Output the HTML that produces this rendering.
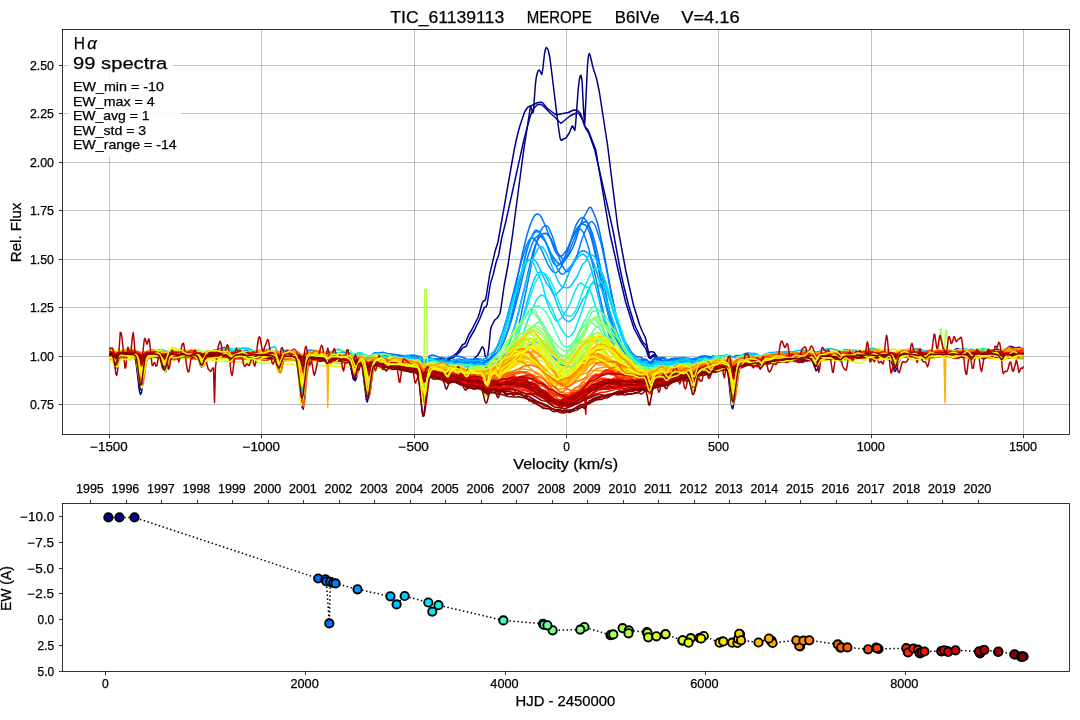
<!DOCTYPE html>
<html><head><meta charset="utf-8"><title>TIC_61139113 MEROPE</title>
<style>html,body{margin:0;padding:0;background:#fff}svg{display:block;will-change:transform}text{font-family:"Liberation Sans",sans-serif;white-space:pre;stroke:#000;stroke-width:0.25px}</style></head>
<body>
<svg width="1080" height="720" viewBox="0 0 1080 720" font-family="Liberation Sans, sans-serif" fill="#000" style="white-space:pre" xml:space="preserve">
<rect width="1080" height="720" fill="#fff"/>
<line x1="109.50" y1="29.50" x2="109.50" y2="434.50" stroke="#b0b0b0" stroke-width="0.80"/>
<line x1="261.50" y1="29.50" x2="261.50" y2="434.50" stroke="#b0b0b0" stroke-width="0.80"/>
<line x1="414.50" y1="29.50" x2="414.50" y2="434.50" stroke="#b0b0b0" stroke-width="0.80"/>
<line x1="566.50" y1="29.50" x2="566.50" y2="434.50" stroke="#b0b0b0" stroke-width="0.80"/>
<line x1="718.50" y1="29.50" x2="718.50" y2="434.50" stroke="#b0b0b0" stroke-width="0.80"/>
<line x1="871.50" y1="29.50" x2="871.50" y2="434.50" stroke="#b0b0b0" stroke-width="0.80"/>
<line x1="1023.50" y1="29.50" x2="1023.50" y2="434.50" stroke="#b0b0b0" stroke-width="0.80"/>
<line x1="62.50" y1="404.50" x2="1069.50" y2="404.50" stroke="#b0b0b0" stroke-width="0.80"/>
<line x1="62.50" y1="356.50" x2="1069.50" y2="356.50" stroke="#b0b0b0" stroke-width="0.80"/>
<line x1="62.50" y1="307.50" x2="1069.50" y2="307.50" stroke="#b0b0b0" stroke-width="0.80"/>
<line x1="62.50" y1="259.50" x2="1069.50" y2="259.50" stroke="#b0b0b0" stroke-width="0.80"/>
<line x1="62.50" y1="210.50" x2="1069.50" y2="210.50" stroke="#b0b0b0" stroke-width="0.80"/>
<line x1="62.50" y1="162.50" x2="1069.50" y2="162.50" stroke="#b0b0b0" stroke-width="0.80"/>
<line x1="62.50" y1="113.50" x2="1069.50" y2="113.50" stroke="#b0b0b0" stroke-width="0.80"/>
<line x1="62.50" y1="65.50" x2="1069.50" y2="65.50" stroke="#b0b0b0" stroke-width="0.80"/>
<clipPath id="c1"><rect x="62.50" y="29.50" width="1007.00" height="405.00"/></clipPath>
<g clip-path="url(#c1)"><g transform="scale(0.25)" fill="none" stroke-width="6" stroke-linejoin="round">
<path d="M438 1405l7 0 4 6 11 41 3-1 11-37 4-4 3-2 8 0 18 5 18-2 11 6 4 6 4 12 3 21 11 94 4 9 4-14 11-98 3-21 4-11 4-4 14-1 18-7 8 1 3 1 4 4 4 8 11 50 3 12 4-1 15-59 3-5 4-1 18 6 8 0 14-4 11 2 11 0 11 4 4 0 22-9 3 1 4 4 4 7 11 32 3 7 4-1 4-8 7-25 4-9 3-5 4-2 11-1 11-4 25 0 11 8 4 1 4-4 7-11 4-2 3 2 11 23 4 2 11-16 7-4 7-1 11 3 22 1 15 6 7 1 11-3 19-10 7 0 15 10 14-3 11 4 11-1 4 4 3 10 11 49 4 7 4-5 11-45 3-10 8-10 7-5 4 0 18 10 4 2 7-1 4 3 3 9 4 22 11 128 3 27 4-1 4-28 7-89 4-34 3-20 4-10 15-14 3 0 11 10 4 1 11-1 11-6 4 0 3 5 11 30 4 5 3-4 8-20 3-6 15-5 7 0 15 12 4 1 14 0 15 2 4 3 3 7 15 69 4 3 3-10 11-52 4-7 3-2 4 3 4 8 3 17 15 122 4 10 3-11 15-113 4-12 3-7 15-8 18 1 4 2 4 5 7 15 3 1 8-10 3-2 11 0 15-7 15 1 11-4 3 1 19 11 3 0 15-8 7-2 4 1 3 4 4 7 7 25 4 25 11 120 4 22 3-4 4-28 7-80 8-55 3-14 8-14 3-2 4-1 15 9 3 0 11-3 8 1 3 4 7 14 4 3 4-4 7-17 4-5 3-1 15 1 11 3 4-1 11-11 3-2 4 2 7 9 4 0 15-23 14-4 15-15 7-6 7-12 8-17 3-4 4 2 4 11 3 20 4 12 4-3 3-12 4-24 7-74 4-15 11-22 4-5 7-5 7-10 4-7 4-18 14-98 15-79 18-121 44-334 26-169 3-12 8 27 3-7 7-102 4-33 4-17 3-9 4-4 4 4 7 14 4-20 7-63 4-19 3-6 4 3 4 8 7 33 33 269 7 48 4 10 4 0 3-4 11-4 4-4 11-17 11-27 3-1 8 18 3-20 11-147 4-34 4-18 3-2 4 20 7 134 4 41 11-236 4-39 3-7 4 9 11 47 14 44 11 51 33 214 41 329 32 174 30 135 25 81 11 27 11 22 4 13 7 41 4 10 7-4 4 0 7 1 4 2 14 22 15 9 18 18 11-4 4 1 15 7 14-1 15 2 14-2 11-8 4 0 4 4 3 11 11 57 4 1 15-69 3-6 4-3 7-1 15 3 4 3 11 26 3 1 11-23 18-9 8-1 3 1 11 9 15 3 4 5 3 11 4 22 11 109 4 24 3 3 4-20 15-140 3-18 4-10 4-4 3-1 11 6 11 0 11 4 7-4 11-11 8-2 7 3 11 17 4-2 7-15 4-3 3-1 19-4 14 1 11-1 29 0 15-6 15 4 7-1 7-2 11-6 4 0 11 6 7 1 18-9 4 1 15 12 11 25 3 3 4-5 7-22 4-7 4-3 3-1 11 4 8 0 36-6 4 1 3 2 11 12 4 0 11-13 18-10 8 1 11 8 7 2 7-4 11-11 4-2 7 3 18 15 8 1 22-2 18-6 7-1 11 2 15-7 4 0 11 2 3 4 4 8 11 45 3 6 4-6 11-47 4-9 3-4 4 0 11 4 11 1 29 9 19-12 7-1 7 5 11 17 4 0 11-19 3-2 8-1 14 1 11-3 11 2 15-3 22 6 7 0 7-4 11-11 4-1 18 4 15 5 11-1 4 3 7 13 4 1 11-13 11 0 10-5 11 1 15-3 15 2 11-2 11 4 7-1 4 1 3 4 8 16 3 2 4-3 7-11 4-4 7-3 7 0 30 10 7 0 15-6 7 1" stroke="#000080"/>
<path d="M438 1424l7 0 4 3 3 5 11 39 4 0 11-44 3-6 4-3 11-2 18-2 22 3 4 1 4 6 3 10 15 87 4 12 3-2 4-14 11-65 4-13 3-8 4-4 18-10 18-6 4 0 4 3 3 6 4 10 11 49 4 9 3-2 11-39 4-9 4-5 14-1 26-16 11-4 11 2 14 6 4 0 18-8 8-1 3 2 4 4 4 9 7 24 4 3 3-6 11-37 4-5 3-1 8 1 11-2 22 11 11 2 14-1 15 11 11 12 4 0 11-18 3-3 29-12 26-6 7 1 15 5 11 9 7 3 40 0 15-6 4 1 3 4 4 7 15 60 3 2 4-9 7-30 4-9 4-3 14-2 19 2 11-2 3 2 4 8 3 21 15 167 4 7 3-24 11-138 4-29 4-15 3-7 4-1 29 13 30-3 3 3 7 14 4 2 11-20 4-2 11 3 22-6 14 5 19 2 3 3 4 6 4 12 11 60 3 8 4-7 11-53 3-9 4-4 4-1 3 5 4 12 15 110 3 15 4-2 4-19 11-86 3-19 4-11 4-6 3-3 8-1 11 5 11 3 3 5 7 18 4 3 11-20 4-4 18-1 15-6 11 1 11 6 3 0 8-1 11 1 18-4 14 0 4 1 4 4 11 20 3-2 4 1 4-6 7-20 4-8 3-3 4 1 11 8 7 1 19-2 14-6 4 0 3 2 8 9 3 0 11-15 11-4 4-2 22-20 11-16 4-3 11-4 3-5 11-27 19-32 21-44 19-48 7-3 4-7 14-87 11-36 11-46 11-33 11-62 18-73 70-317 26-98 7-19 7-14 15-16 11-2 7 2 7 6 30 30 14 12 19 20 7 6 36-29 11-6 15-6 7 1 4 3 7 12 8 14 11 32 11 16 3 8 22 61 73 323 26 142 14 67 22 89 22 72 8 20 25 53 4 5 11 10 4 7 11 42 3 6 4-4 7-12 4 0 11 13 7 7 11 8 11 1 4 2 7 9 4 2 7-4 4 0 14 6 11 0 22 4 11-2 7 2 4 3 4 4 3 9 15 77 4 5 3-11 11-67 4-14 7-12 15-11 4-1 3 2 4 5 7 21 4 6 4-6 7-21 3-5 15-5 15 5 14-5 8 3 3 6 4 10 4 18 11 88 3 25 4 9 4-8 11-88 7-43 4-10 7-12 7-7 7-5 26-3 11 7 15 2 11 12 3 1 11-11 19-9 3 0 15 3 14-3 15 2 48-4 25 18 11 3 7-3 15-13 7 0 8 3 3 3 4 8 11 35 4-2 11-34 3-5 15-9 7-1 8 2 21 3 4-1 11-6 4 1 11 15 3-2 8-14 7-7 22-9 4-1 14 4 11-6 15 4 18-2 11 0 15 5 18 8 11-3 11 1 11-5 7 0 15 9 7 14 7 21 4 7 4 0 3-7 8-20 7-14 11-13 4-3 7-3 22-1 18 1 11 4 11 0 4 1 11 16 3 1 15-15 11-4 11 0 22 10 11 0 29-13 18-13 8-1 7 2 11 6 22 5 4 2 3 6 8 17 3 0 11-28 4-3 4 0 14 8 7 1 19-3 14-7 11 0 15-5 4 0 3 2 4 5 7 15 4 4 4-1 14-27 7-7 4-2 7 0 15 7 15-4 3 1 15 10" stroke="#0000a1"/>
<path d="M438 1419l3 1 4 3 4 8 11 39 3 0 11-38 4-7 3-3 41-1 7-2 4 1 3 3 4 9 4 17 14 118 4 11 4-7 3-23 8-67 7-48 4-11 3-6 4-3 22 0 14 4 4 2 7 14 11 34 4 3 4-5 11-32 3-7 8-6 29-2 14 2 15-3 18 2 15-5 11 0 4 2 3 5 11 44 4 4 4-10 7-34 4-9 3-3 18-2 15 7 11 3 37-1 3 1 4 5 7 15 4 0 11-20 7-4 11 0 40-6 22 4 8 0 14-2 15-1 18-4 11 0 7 3 4 3 4 6 14 56 4 7 4-3 11-41 7-17 4-2 3-1 19 5 18-2 4 3 3 8 4 20 14 167 4-2 4-34 11-137 3-20 4-9 4-3 14-2 26 7 18 4 4 3 4 7 7 16 3 1 11-21 8-4 14-1 19 6 25 3 8 8 3 8 15 68 4 3 3-9 11-55 4-11 3-6 4-1 4 4 3 9 4 19 11 93 4 15 3-7 11-89 4-20 4-11 3-4 19-1 18 4 11 18 3 0 11-20 8-5 7-3 11 0 18 4 41-1 18-3 7 0 7 6 11 25 4 4 4-3 14-35 4-7 4-2 3 1 11 6 8 2 22-2 11-3 3 1 11 9 4-1 11-11 14-7 15-12 7-8 15-24 11-6 15-35 14-23 22-44 7-20 11-41 4-6 7-3 4-11 15-95 22-93 11-35 65-370 11-51 11-42 19-56 11-18 3-3 15-6 22-11 14-2 4 0 4 3 18 21 29 22 8 4 47-9 22-10 15 2 11 11 3 6 15 47 11 11 4 7 29 76 51 303 7 37 33 147 29 123 33 104 30 57 14 19 4 7 11 33 4 3 7-8 4-2 3 1 11 12 7 6 8 4 14 4 11 11 4 0 7-4 4 0 29 7 33-1 7 5 4 6 4 10 11 57 3 14 4 0 4-12 11-55 3-9 4-4 7-2 19-3 3 4 8 15 3 1 11-26 4-3 33 1 18-5 4 1 3 4 4 13 4 25 11 111 3 9 4-18 11-111 4-21 3-12 4-4 4-2 18-3 18-8 26-4 3 2 4 5 7 16 4 5 4-1 11-27 3-6 8-4 21 4 22-5 30 4 7-1 15-4 7 0 18 2 26 5 7-1 15-5 3 0 4 2 4 5 11 29 3 5 4-3 11-30 4-5 7-5 15-4 43 0 4 2 11 14 4 0 11-12 18-3 33 1 15-1 14 3 15 0 25-1 19-6 7-1 18 8 11 1 8 3 7 12 11 38 3 7 4 0 15-48 3-7 4-4 33-14 29-4 11 1 7 3 4 4 11 17 4 0 7-11 7-7 30-11 7-1 37 8 14-1 33 0 18-5 11 1 4 2 4 6 7 17 4 0 11-21 7-5 7-1 7 1 15 8 15 4 7-1 15-5 22-2 3 3 8 12 3 2 11-16 8-3 21 1 22 4 11 1 15 6" stroke="#00008d"/>
<path d="M438 1421l22 2 14-5 22 2 18-7 8 0 22 3 18 10 22-5 18-7 37 0 25 3 37-6 14 1 15-2 26 2 22-7 7 3 11 7 4 1 7 0 15-5 10 0 11 2 11 6 4 0 15-4 14 4 15 2 7 0 26-8 14 3 22 2 11-1 11-4 8 0 33 8 25-1 15-5 7-1 7 2 15 5 7 1 19-5 25-3 22 0 11 3 18 9 4 1 7-3 11-8 19-1 11-3 7 0 15 7 25 3 22-7 15-3 40 4 15 0 22 8 10-4 8-1 11 4 18 11 7-2 11-8 8-2 14 3 22-1 18 6 22-1 19 8 22-3 18 2 18-2 22 5 15 1 14 11 4 0 11-10 4-1 11 0 18-3 15 2 14-1 22 8 15 1 14-4 19-1 7 1 11 4 22 3 22-2 22-6 18 0 18-10 26-22 22-33 7-16 18-46 15-48 26-98 29-123 22-67 7-15 7-12 11-10 8 0 3 2 22 27 19 43 18 27 7 9 8 5 7 1 4-1 3-3 7-8 11-19 48-119 11-14 11-5 7 1 4 3 7 11 11 27 11 38 11 46 51 247 15 57 11 37 15 32 10 18 8 9 11 11 11 8 25 12 19 1 25 8 8-1 11-6 14 1 15-3 11 1 14 4 22 2 19-10 7-2 18 3 11 0 18-7 15 0 11-3 15 2 14-2 22 5 15-7 11 0 14-6 4 0 15 5 14-7 4 0 15 6 3 0 15-6 25 0 15 4 29 5 15 5 7 1 22-6 81-10 18 10 22 1 15 2 14-5 18 7 22-1 30-7 25-4 22 3 15-3 22 2 22-7 14 2 11-1 19 4 11-3 10-6 8-2 25 4 11 0 11-1 15 1 15-4 25-2 7 1 19 11 14-3 11 0 30-6 18 4 25-5 19 4 14-6 8-2 7 1 15 5 18-6 18 1 15-3 22 8 14-1 19-3 14 1 15 5 11-3 11 0 11-4 18-2 15-3 29 5 15 6 7 1 18-4 15 1 18-4 18 1 26-6" stroke="#0078ff"/>
<path d="M438 1420l11 1 14 9 4-2 7-7 4-1 14 5 22-3 19 3 11-2 3 0 4 3 11 20 4 3 3-3 8-12 7-8 40-9 4 0 7 4 18 18 4 3 4 0 14-15 15-3 11-7 11-2 7 0 11 6 4 0 14-5 15-2 4 0 14 4 11-3 4 1 11 13 4 0 11-14 3-2 15 6 14 2 11-6 26-6 11 5 11 2 11 7 4-1 11-8 29-9 7-1 26 4 14 9 8 3 22-6 14 3 15-2 11 1 7 2 22 17 4 1 3-2 15-21 4-2 7-2 18 7 11 2 8 4 7 9 14 32 4 4 4-3 3-7 11-26 4-6 7-7 8 0 18 10 4 0 22-9 7-1 7 2 11 6 4 1 22-11 22-4 14 5 15-2 7 1 8 7 11 14 3 1 18-11 8 1 7 9 15 34 3 4 4-3 4-9 11-30 3-5 4-2 22 9 15-1 10 8 4 0 11-7 4-1 18 5 15-2 25-1 15 6 4 0 14-7 15 0 3 2 4 5 15 40 3 7 4 0 4-5 14-34 8-9 3-1 15 5 11-3 7 1 29 14 11-6 8-2 11 0 14 2 15-3 15 6 22-6 18 7 25 1 8 5 7 9 4 2 14-19 22-15 11-3 4-4 15-19 7-11 18-41 18-49 8-24 66-275 10-31 11-23 11-15 11-9 8-1 7 4 7 7 8 11 18 41 7 14 22 26 4 2 7-2 11-12 18-32 11-28 19-62 7-20 26-47 3-4 4-2 4 2 3 6 11 25 11 31 7 28 15 70 26 143 25 122 15 57 11 34 33 57 11 13 11 9 18 3 11 6 11 2 4 2 11 20 3 1 4-4 7-14 7-7 19 1 14-2 15 10 4 0 11-9 3-1 15 1 15-2 7 1 14 6 8 0 11-5 3 1 4 4 7 15 4 4 4 0 11-18 7-8 7-4 19-5 7 4 7 7 4 0 11-11 3 1 11 6 19-6 25 6 8 7 14 38 4 3 4-4 14-38 8-8 10-2 22 1 15-4 7 2 19 8 11 2 7-4 11-8 7-2 29 5 8-2 14 1 15-7 4 1 14 5 22-5 29 7 15-1 22 1 18 4 4-1 18-13 11-3 8 1 14 9 26-2 18 6 11-2 18-8 15-2 15 2 11-1 18 3 14 0 19 2 14 0 19 4 11-1 14 5 11-3 4 0 14 5 15 12 4-1 11-13 3-2 11 2 19-3 14-5 15-2 15 0 14-6 4 0 11 5 7 1 18-4 15-9 4 0 11 4 18-4 18 5 18-3 15 3 11-6 7-2 15 4 15 0 11 7 3 0 15-7 40-6 18 7 15-2 15 3 3 2 11 12 4 2 4 0 18-6 3 0 11 5 4 0 11-7 7-3 26 3" stroke="#006aff"/>
<path d="M438 1414l14-2 11 4 15-1 7 1 26-5 14 3 15 0 7 1 19 8 11-4 7-1 22 10 22 3 18 0 15 4 18-6 15-1 21 0 11 3 19-3 18 7 7 1 22-7 19-2 14-8 29-1 22 5 19 6 14 3 19 6 29-4 11-4 18-11 26-5 11 2 18 6 15 8 7 1 36-8 19 1 18-5 44-1 11 3 14 15 4 2 4-1 3-3 11-12 4-3 7-2 15 1 18 4 15 2 15-4 32-3 22 2 19-1 25 3 8 2 11 8 3 1 15-8 14 1 8 3 14 16 4 0 4-3 7-8 7-5 22 2 29 7 15-3 11 0 18-6 19-2 54 5 11 6 19 16 7 2 4-1 22-15 7-4 7-1 22 6 26 13 3 0 19-8 7-1 48 10 18-6 25 0 15 2 22-1 7-5 26-33 11-19 7-15 33-107 59-230 18-57 11-22 7-8 4-1 7 1 7 7 22 33 26 59 11 20 11 14 7 4 4 1 4-1 7-6 15-23 14-34 22-62 7-18 15-25 7-7 4-1 7 4 8 10 7 17 15 44 21 88 48 215 11 42 15 46 11 26 11 17 18 18 11 7 7 2 22 6 22-2 11 1 18 7 19 1 14-7 7-1 26 1 22-6 18-7 19 0 14-3 22-1 33 8 15-6 18-2 18 3 15 3 11 1 18 4 18-3 26-1 7 4 11 11 4 1 4-3 11-12 3-2 15-5 25-5 30-1 25 6 26-2 14 0 37-18 7-2 19 0 18 3 15-2 32 2 22-3 15-4 55 1 18-5 18-1 19 2 66 1 40 7 40-3 33 1 18 3 18 7 8 2 18-9 22-4 55-4 22 4 18-2 18 4 22 0 15 1 15-3 32 4 26 0 37 9 29-9 29-3 66 9 15-5 25-3 18-7 26-1" stroke="#007eff"/>
<path d="M438 1416l14 3 15 6 14-7 8-2 29-2 15-3 7 0 7 3 11 9 8 2 29-14 14-2 8 0 11 3 18-3 15 3 18-1 29 2 18-3 37 4 22-5 22 5 15-2 21 3 15-2 15 1 14-8 8-1 29 9 7 0 8 0 10-5 15 2 11-6 7-2 19 9 18-2 26-1 29 3 33-2 3 1 11 6 4 0 15-7 18 4 18-4 15 5 18 13 4-1 3-4 11-14 8-2 11 0 18 2 18 5 19-3 18 6 36 0 11-2 15-1 26 6 11 4 3 0 11-5 4 0 18 3 4 2 14 15 4 0 4-2 14-12 11-3 19 4 18-3 47 9 15-2 26-1 11-2 18-1 7 2 11 5 15 14 7 3 4-1 11-7 14 2 15-3 22 3 18 6 7 1 11-3 11-7 8-3 22 6 22 8 33-4 32 3 19 10 14-4 11 0 26-12 15-14 21-26 11-21 19-50 11-36 7-31 55-267 14-51 11-26 8-13 7-6 7-1 4 1 4 3 3 6 15 36 22 73 15 39 10 17 8 7 3 1 4-1 7-7 11-17 19-45 18-60 15-37 7-15 7-11 8-7 3 0 7 7 8 14 22 69 22 105 25 132 19 74 18 64 11 27 18 30 15 16 18 15 4 2 22-2 7 1 18 12 15-6 11-3 14 3 15-4 15 4 22-4 18 6 18-3 26 7 11 6 7 2 7-2 4-2 15-13 18-5 11-7 4-1 14 6 7 0 15-4 26 5 14 0 8 3 14 14 4 1 15-16 11-5 21-2 11-5 8-2 11 0 33 2 29-13 18 0 11-3 7 1 15 4 15 3 18-6 29 1 11-2 15 1 14-2 15 2 15 0 14 2 19-1 18-5 14 5 11-1 15 4 22 1 22 5 15-5 14-1 15-6 18-2 7 2 11 7 4 1 15-4 14-1 15 5 11-2 15 2 18-3 18 2 7-2 11-7 4-1 15 3 18 2 11 3 15 1 11 3 10-1 15 3 15-4 22 1 22-6 43 4 15-5 18 5 63 2 21 3 15-1 11 0 15-6 22 7 14-3 15 4 62 0 15-4 7-1" stroke="#007bff"/>
<path d="M438 1425l11 1 11 2 14-9 7-1 15 2 29 10 19 1 3 3 11 16 4 3 4-1 14-19 18-12 8-4 25-8 11 1 11 8 4 1 15-7 36 3 26-5 14 0 22-2 26 5 15 6 25-9 15-8 18-4 18-7 11-1 11 2 11 7 29 14 15 2 18 2 22 5 22 0 19-3 22 1 18-4 7-1 7 3 11 9 4 1 18-7 15 0 15-4 7 0 11 3 7 5 7 10 8 15 3 4 4 1 4-3 7-11 7-5 33-2 33-6 18 2 15-7 29-4 11 1 26 7 7 3 15 10 7-2 15-8 14 0 4 1 11 11 4 2 3-1 11-11 4-1 22 3 18-2 15 0 14-8 22-4 15 1 26 6 18-2 25 4 8 3 7 7 15 24 3 1 15-22 7-5 11-2 26 4 29 9 55-12 7 2 11 8 8 3 25-5 18-8 8 0 11 1 14 10 4 1 4-1 40-35 7-13 11-30 18-58 19-72 47-227 19-76 11-35 11-26 10-16 8-3 7 2 4 3 7 11 15 32 36 95 11 19 8 6 3 1 4 0 7-4 11-14 11-20 26-58 11-18 7-9 7-5 8-1 11 5 7 9 11 28 11 40 18 80 37 174 14 60 15 47 18 45 11 20 11 16 18 18 26 11 40 5 15 4 18-10 22 3 26-3 18-10 15-5 7-1 22 11 7 0 15-7 7-3 7 1 11 5 8 0 18-5 40 0 15-8 7 0 22 3 26 9 7 5 11 15 4 3 3-1 4-4 7-12 8-9 25-19 15-4 22 3 25 14 8 2 7-3 22-14 11-4 11 0 18-2 18 4 11 0 30 4 7 0 18-2 15-8 7-2 18-2 11 1 15 8 29 2 19-1 18 2 29-4 18-10 8-2 36 10 29 2 15-1 22-7 40 2 26-3 11 4 11 12 7 4 33-13 15-8 11-3 40 3 29 12 26 7 44-6 47 10 18-2 26-7 55 9 11 1 25-6 41-3 14-10 8-3 69 10" stroke="#0072ff"/>
<path d="M438 1402l14 0 15 11 4 0 21-4 19 0 18-7 7 0 15 10 15 15 3 1 4-3 11-15 4-3 21-4 15 0 7 3 19 9 11 8 3 1 4-1 11-10 4-1 18 3 14-5 26-3 15 2 14-1 15 3 15-1 11 4 14-1 15 3 14-1 37 3 22-5 29 0 15-4 14-1 11 0 30-4 3 1 11 7 8 3 36 2 29-6 8 1 11 5 7-2 11-8 7-2 33 5 15-1 3 2 4 5 11 18 4 1 3-2 15-25 7-5 15-2 18 6 15 1 15 6 14-3 29-12 8-2 11 4 22 14 22 5 14 8 4 1 3-2 15-11 7 0 8 5 11 13 3 2 4-1 15-19 7-5 18 1 15-3 18 5 73 10 26-4 29 5 7 2 11 13 4 2 4-2 14-16 11-4 11 2 19 8 29 4 18-8 22-3 26 7 14 6 22 1 15-2 14 3 15 1 15 8 3-2 19-20 25-14 22-46 22-68 11-40 55-252 15-45 14-29 7-9 4-1 11 4 11 11 15 29 29 82 4 7 7 7 7 2 8-4 7-6 14-22 11-26 30-90 7-19 11-18 7-6 8-2 7 5 11 16 7 17 8 25 21 92 26 134 15 68 11 45 18 60 7 17 19 34 10 16 19 17 47 23 30 4 11 5 3 0 15-15 7-3 29 0 8 2 11 8 3 0 55-10 22 4 22 13 7-4 15-14 11-5 26 1 32 7 41-11 7 2 15 20 7 5 7-2 15-12 7-2 18 7 19-2 14-4 22-2 15 2 22-5 22-3 14 0 11-3 19-3 14 0 19-10 47 3 15-3 18 5 11-2 15-7 40 9 22-6 11 0 22 5 14 0 26 5 18-1 15 6 7-1 18-10 22-3 52 7 18-3 7 0 15 9 3 0 19-9 14 0 15-2 22 4 22 1 14-2 11 2 4-1 11-7 7-3 19 2 22 8 18 3 18-4 18-9 8-3 18 5 22-1 18 4 19-8 7-2 7 2 29 13 15 2 15 0 14 4 15-3 15-9 21-9 11 0 11-3 15 1 11-1" stroke="#0073ff"/>
<path d="M438 1408l29 3 29-1 44 8 15 6 7 2 7-2 22-14 7-1 19 3 22 0 18 4 15-1 33 4 14-1 40 0 22-7 11-2 19 2 32-4 22 3 15-1 15 2 18-1 15 4 7 0 40-4 7 2 19 11 11 1 55-13 47 4 26-5 40 5 29 10 4-1 14-11 15-1 29 8 30-2 14 3 15 0 18 3 22 1 18 4 26-1 22 3 11 4 22 13 7-2 11-8 7-3 19 0 36 5 18-3 85 9 25 10 18 12 8-1 11-6 11-2 40 2 18 3 15-1 29 2 7 2 30 15 36 7 22 9 22 4 7-1 15-9 11-3 18-3 15-5 25-15 15-12 22-27 18-25 11-12 11-8 22-10 7-3 8 1 11 3 11 7 18 17 37 45 14 14 11 5 15 5 11 1 11-1 7-3 7-5 26-24 11-15 22-34 14-17 19-12 18-5 7 1 22 6 11 6 26 21 47 56 11 9 19 10 29 8 11 7 7 2 11-1 22 1 29-1 19-6 29-1 22-6 40 3 48-14 18 1 14-4 8-1 47 1 22 4 4-1 18-17 15-6 14 1 33 5 33 11 33 0 26-4 14-7 8-2 25-2 15 1 40-11 18-8 33-2 15-4 55 12 22-9 14 3 19 0 29-5 22 4 18-4 33-4 18 2 33 8 26-1 18 5 26-3 18 4 7-1 19-6 22-5 21-1 19-3 7 1 15 4 18 2 15 5 32 4 22-2 15 0 18-4 41-5 36 7 11 0 15-4 11 1 22-2 18 7 11 1 25-4 15 0 11-3 22 0" stroke="#0077ff"/>
<path d="M438 1425l11-2 18 3 18-11 18-3 19-7 7-1 15 0 7 2 15 20 3 2 4-3 11-15 4-3 7-3 11 0 18 7 15 4 11 1 14 5 11-3 19 0 11-4 18-10 7-2 29 10 41 9 11 6 3 1 15-6 14-2 26 5 7-1 8-2 25-13 8-1 14 3 15 7 11 3 14 0 22-7 11-2 15 1 18 3 55 0 11-1 7 2 11 8 26 2 15-4 29-14 3 0 4 3 11 13 4 2 3-2 15-21 4-3 7-1 40 17 22 5 11 4 18-2 11 3 8 0 22-11 14-3 11 0 8 2 14 15 4 2 14-9 11 0 8 2 3 4 11 17 4 3 4-1 11-14 7-6 11-4 18-4 8 1 18 6 11 1 18-2 33 3 15-1 18 3 11 4 18 12 15 21 3 4 4 2 4-1 11-14 7-6 7-2 22-2 22-9 7 2 11 5 26 7 7-1 22-13 8-2 3 0 11 7 11 3 26 11 7 1 18-2 19 7 3 0 30-34 14-19 26-63 11-33 14-54 55-234 11-40 11-31 8-15 7-10 3-3 8-3 7 2 4 3 11 14 11 22 47 108 11 17 8 5 7-1 14-15 19-23 25-42 8-8 7-4 7-1 15 8 7 7 11 19 11 28 26 82 25 98 19 63 14 40 15 30 14 22 37 38 7 5 8 4 18 0 15 3 7 3 18 11 8-2 18-10 22-7 22 2 22-5 22 7 43-3 4 2 15 10 3-1 15-7 18-5 70-6 29 3 7 6 11 12 4 2 4 0 3-4 15-23 4-3 7-2 7 1 15 7 7 2 26-8 14-2 15 3 11-4 15-1 25 3 33 8 48-4 18 2 47-2 19 3 14-4 22-2 22 2 55-2 22 3 22-8 18-4 18-9 11-3 11-1 11 1 19 6 14 3 37-4 22 2 7-4 15-10 11-5 7-1 11 2 29 17 11 2 18-4 11-1 15-6 26-6 7 1 18 7 33 1 15 4 33 4 11-2 25-8 15-6 22-2 25 7 19 9 11-1 18-6 18 3 26-4 25 7 19 12 7 3" stroke="#0096ff"/>
<path d="M438 1407l29 4 18-9 4 1 11 7 14-1 11 4 11-7 4 0 7 4 15 16 7 3 15-1 47-27 8-2 11 0 14 7 19-3 7 1 11 4 4 0 10-6 4 0 15 9 3 0 11-4 4 2 15 14 11 4 7-2 11-6 4 0 11 4 7-2 14-8 15 2 4-1 18-11 15-4 7 1 15 9 14-1 26 6 22 0 7 1 7 3 11 8 4-1 11-8 4 0 18 3 29-14 15-3 14 7 15-4 11 7 4 0 11-4 14 1 15 7 15 1 7 4 11 4 14 9 4 0 18-9 26-5 15-8 7-1 18 1 15 7 14-6 22 5 26-6 18 6 19 1 11 9 3-1 11-13 4-1 11 4 18 5 22 2 15 9 3 1 4-2 11-10 4 0 11 4 18-3 14 4 11-1 15 7 15 2 3-2 11-11 4-2 4 0 11 7 7 2 14-1 15 8 18 5 4-1 15-8 7-1 26 13 14-2 18 4 11 5 4 1 22-12 11-4 4 0 14 8 8-1 11 1 11-3 22 1 21-1 19-7 33-24 7-7 11-18 29-72 15-53 47-153 22-48 11-18 8-4 11-1 7 3 7 7 7 12 33 73 15 20 11 21 4 5 3 1 4 0 7-6 19-20 7-10 33-80 7-13 22-26 7-5 8-3 7 4 7 9 11 22 8 24 29 115 22 94 7 20 26 58 11 29 7 13 18 18 15 23 3 2 11 2 15 9 4 0 14-13 4 0 4 3 11 10 7 1 18-3 15 3 14-4 11-4 19 0 14 2 15-5 26 0 7-4 11-11 4-1 10 4 11-2 8 1 14 8 8 2 11-2 11-6 7-3 11 2 15-2 21 7 4 0 4-3 11-12 18-4 4 1 11 5 14-6 15 7 15 5 7-2 14-10 19 0 22-6 3 1 11 8 30 0 11 3 7-1 14-7 4 1 15 8 7 2 11-4 15 0 11-4 22-2 14-6 4 1 11 9 3 0 22-19 8-2 11 4 22 3 14 4 15-1 11 7 4 1 14-9 4 0 11 0 11-2 14 5 11-2 4 2 11 9 7 1 8-1 14-11 4-1 15 4 14 1 15-12 3-1 15 6 11-4 7-1 11 7 8 1 11-1 11-3 14 6 15-3 18 3 15-4 18 2 18-5 22 7 22-2 29-8 19-2 7 2 15 11 3 2 4-1 11-6 18 2 15-3 7 1 11 7 7 1 8-3 11-8 14-3 15-9 7 1 11 2 37-3 3 1 11 6 11 3 15 10 18 10 4-1 4-2 11-13 3-3 8-1 25 3 11-3 11 1 11-4 11-7" stroke="#00bbff"/>
<path d="M438 1400l7 1 7 5 11 23 4 5 4-2 10-25 4-4 4-1 14 4 26 4 11 4 4 2 3 6 4 10 15 74 3 6 4-7 11-58 7-23 4-4 3-2 19-3 18 0 7 3 8 12 11 25 3 1 4-4 11-24 4-6 3-2 4-1 40 4 26 0 22-3 11 0 7 4 4 4 11 23 3 1 15-24 7-3 77 2 4 2 11 12 3-1 8-8 7-4 25 1 41-2 14 1 59-5 11 2 7 5 4 6 11 28 3 4 4-2 11-25 7-9 8-2 25 0 8 2 3 4 4 8 3 13 15 99 4 13 3-4 4-17 11-81 7-29 4-6 4-3 14-5 37 1 7 3 11 11 4 0 11-12 7-3 18 5 15-1 29 2 8 8 14 40 4 3 3-6 11-28 4-5 4-1 3 1 4 4 4 8 14 73 4 7 4-6 14-72 4-9 4-4 7-3 7-1 19 2 3 2 11 13 4-2 7-11 4-3 18-2 29 1 30 4 32 8 4 4 4 8 3 14 11 65 4 11 4-2 3-15 11-62 4-12 4-5 3-2 19 2 18-3 7 2 4 3 11 22 3 4 4-1 11-18 4-3 3-1 19 4 22 3 3 3 8 14 3 3 4-3 7-14 4-3 4-1 14 2 26 5 7 7 15 43 3 0 4-9 7-28 4-10 4-5 7-4 7 0 4 3 7 16 4-1 11-31 29-37 11-20 11-28 15-43 40-148 15-47 7-19 7-13 11-11 7-2 8 2 7 7 15 26 14 33 26 74 15 32 7 11 7 7 7 5 4 1 4 0 7-4 7-7 8-10 11-21 22-48 11-11 3-7 8-21 7-14 7-8 7-3 11 1 8 5 11 15 14 33 48 139 18 44 11 23 22 35 18 20 8 4 33 10 7 5 7 15 8 25 3 8 4-2 11-33 3-7 4-4 7-2 22 0 4 2 11 12 4 2 3-2 8-11 7-5 15-4 22 1 21 2 8 3 7 13 11 38 4 7 3-2 4-10 11-42 4-8 3-5 4-2 15-2 7 0 4 3 7 10 4 1 10-12 11-6 19-3 25 1 4 1 4 3 3 8 4 17 11 76 4 3 3-18 11-81 4-12 4-5 7-2 14 0 22-3 30 3 14 10 4-2 11-12 7-3 33 2 44-6 22 2 44-6 18-4 18 3 4 1 4 5 7 14 4 3 3-4 8-14 3-4 4-2 51 5 15 5 11 8 3 1 4-1 11-11 15-6 18 0 18-3 8 1 18 6 22-1 25 1 33 5 26 5 7 5 11 22 4 5 3-2 15-33 7-6 11-1 26 1 26-6 14-1 7 2 11 9 4-1 11-10 7-3 19 2 11-2 14 1 15-2 14 2 19-2 25-8 15 0 15 1 3 1 11 11 4 0 11-10 7-2 11 0 18 1 15 4 22 0 18 4 8 7 7 12 4 1 11-15 3-2 15-4 22-2 29 0" stroke="#00c2ff"/>
<path d="M438 1410l7 2 11-2 4 0 11 5 14-4 18 2 33-3 15 5 15 14 3 2 4-1 4-2 11-12 14-11 26-3 18 2 11 8 7 2 11-7 8-2 29 4 36-4 15 5 7 0 8-1 14-7 4 1 15 6 11-4 14 1 15-3 18 3 15-4 11 0 22-3 11 3 11 0 14 3 33 1 26-2 18 1 37-6 18 4 36 19 19-5 25 3 26 0 7 5 11 18 4 2 3-3 11-20 8-6 22 2 18-5 15-1 14-4 11 2 15-3 14 5 33 3 19 6 14 1 11 7 4-2 11-13 3-3 4 0 7 3 8 6 14 21 4 3 4-1 11-12 3-2 11 0 15 5 15-4 14 4 11 0 11 2 22 7 37-1 43 1 11 7 11 14 4 3 4 0 11-7 22-7 29-3 7 3 18 14 4 0 15-5 33 0 14-3 15 9 15-2 11 2 29 2 11 4 11 6 3 0 11-7 11 0 11-3 4 0 11 3 7-3 15-11 11-14 18-16 11-17 26-58 25-75 19-46 14-31 7-11 8-8 7-3 4 1 7 6 11 12 18 33 22 53 15 29 14 21 8 9 7 3 4 0 7-6 7-8 8-12 25-67 37-110 7-12 11-14 7-6 4 0 7 6 15 19 15 29 7 19 58 175 11 25 19 35 11 14 25 20 11 2 19 0 14 9 4-1 11-9 14 1 22-7 8-1 51 8 18 0 15-2 11 2 7 2 11 8 4 1 3-1 11-15 8-6 25-4 19 6 21-9 11 1 11-2 15 6 15 0 3 3 11 16 4 3 4 1 3-3 15-23 18-16 4 0 14 2 19-4 14 5 15 0 11 3 4 0 25-9 11-1 40 2 19 7 7 1 11-2 18-7 11 0 15-4 14 4 22-5 8 2 11 6 3 0 11-7 8-2 7 2 15 8 14-2 18 2 11-1 15 1 11-2 18 1 15-5 18-3 18 3 26-4 26 2 18-2 18 4 19 0 21 8 8 1 18-7 26-3 14 2 11-1 15 2 14 0 15-5 15 0 18-10 7-1 30 1 18 6 22 0 14 3 11-1 11 3 8-1 18-4 18 8 37-11 22 0 14 6 15-8 11-2 22 6 18-3 18 5 15-2 18 3 15 0" stroke="#03eaf4"/>
<path d="M438 1401l14 4 11 7 4-1 11-10 3-1 8-1 25 1 11 5 8 2 7 4 7 7 11 15 4 4 4 1 3-2 15-21 7-3 18-1 15 5 15 3 14 6 8-1 11-6 18 6 7-2 15-12 7-4 22 7 15-2 14 4 15-3 18 4 22-10 40 2 11-4 11-1 15-10 11-2 18 5 15-4 29 2 29 9 15 2 18 5 22-7 18 10 4-1 11-6 7-1 15 10 4 0 14-14 8 0 11 3 18 2 18 10 7 6 11 19 4 3 4-2 11-21 3-4 22-10 4 0 15 5 18-4 4 1 11 8 7 3 3 0 15-4 15 3 11-2 47 1 8 3 11 11 3-1 11-9 7-1 11 4 4 2 11 17 4 4 3 1 4-2 11-17 7-7 8-1 11 1 11-3 7 2 11 9 7 4 18-5 15 6 7 1 15-6 7-1 19 2 14 5 15 3 11 0 3 2 4 5 11 27 4 8 3 3 4-1 11-21 7-8 8 0 14 4 22-8 11-1 15 3 18-3 29 12 15 2 11 3 4 0 14-9 8-1 14 5 11 1 18 4 15 14 4 0 11-7 3-1 11 3 11-4 8 1 3-1 11-13 11-9 7-9 22-37 11-22 11-30 63-197 7-18 11-21 11-17 11-7 7 1 7 6 15 20 11 22 37 101 10 16 8 4 14 3 8-3 3-2 11-17 11-26 19-56 29-63 14-20 8-5 3-1 8 2 7 8 11 18 7 16 44 139 22 62 15 47 14 36 8 12 7 9 37 27 18 11 11 13 4 2 3-2 11-12 7-4 15-1 15-5 3 1 11 8 4 1 4-2 11-10 22-2 7 3 11 7 4 1 18-6 11-1 3 2 11 13 4 0 4-4 11-20 7-5 11 0 15-3 14 8 4-1 11-10 11-5 7-1 18 2 19-6 7 5 15 23 3 4 4 0 4-3 11-17 7-6 25-10 8 1 22 10 3 0 15-6 15 4 11-4 14-2 18 2 15-2 29 5 26-5 15 9 3 0 15-6 18-2 11-6 4 0 11 7 25 7 15-6 15 0 11-6 7-2 22 3 18 5 29-6 15 3 26 1 18-3 14-4 15 2 15-2 29 1 7 3 11 7 15-3 18 2 22 12 7-3 11-11 8-3 22 3 11-4 14 3 11-3 11 3 11 0 11 1 7-1 11-6 11-1 11 3 15 0 26 6 11-3 18-14 3-2 19 1 11 3 22-2 11-2 18 2 18-6 22-5 7 2 26 12 7 0 15-6 4 1 14 8 4-1 11-9 4 0 10 4 26-7 18 9 15 12" stroke="#09f0ee"/>
<path d="M438 1397l7 3 7 7 11 29 4 1 11-29 3-5 4-2 26 2 11 3 14 1 4 2 4 5 3 8 15 65 4 9 3-1 4-12 11-56 4-12 3-7 4-4 14-5 11 1 19 6 7 9 11 23 4 3 3-2 11-22 4-6 4-2 29 2 18-3 15 3 14-2 15 5 15-1 3 2 4 3 11 21 4 2 3-3 11-21 7-7 19-2 29-10 11 0 15 4 7 5 11 12 4 1 14-15 29-13 8 0 14 1 19 11 7 2 7 0 19-2 18-6 11-2 22-9 3 1 4 4 15 38 3 2 4-5 7-16 8-8 14-2 26 5 7 5 4 6 3 12 15 95 4 5 3-13 11-73 4-14 4-7 3-1 15 2 18-5 26-2 4 1 10 14 4 2 11-11 22-2 15-6 7-2 18 3 11 7 8 13 11 30 3 4 4-3 14-31 4-3 4-1 3 2 4 6 4 10 11 50 3 9 4-3 4-14 11-54 3-8 8-6 11-2 11 3 11 9 10 17 4 2 4 0 11-7 14-5 11-1 15 2 7 0 22-9 11 0 15 6 11 2 3 2 4 5 4 10 14 89 4 3 4-17 11-80 3-13 4-6 4-1 33 18 14 4 4 3 11 20 3 1 11-19 8-5 7 0 11 4 22 5 4 3 11 15 3-1 8-15 3-5 4-2 18 1 15-4 11 0 3 2 4 4 11 30 4 5 3-3 8-22 3-9 4-4 4-2 11 2 3 1 8 8 3 1 11-32 18-33 19-46 14-45 22-80 26-107 22-76 11-27 11-22 7-10 7-4 8 3 11 16 22 50 22 55 11 23 11 14 7 3 18 1 7-4 8-9 22-35 18-41 4-6 11-10 11-24 3-3 8 0 7 3 7 7 11 18 15 36 14 44 37 128 18 56 8 20 25 57 11 21 18 27 8 5 40 11 4 4 3 10 8 28 3 3 4-10 7-29 4-8 3-4 4-1 15 1 11 4 7 6 11 12 4-1 14-14 22-10 8-1 11 0 18-3 7 1 4 3 3 7 11 37 4 10 4 2 3-5 11-34 4-8 7-6 11-2 11 0 4 1 7 7 4 1 11-15 3-2 8 0 25 3 15-1 7 5 8 16 14 70 4 5 4-7 14-81 4-12 4-7 3-4 4-1 14-1 15-6 22-2 11 5 15 18 3 0 11-17 8-5 36-4 11-2 11 0 18-2 26 1 29-6 22 0 15 4 14 0 4 3 11 21 4-1 11-21 3-3 26-9 11-1 29 6 15 7 3 0 11-8 4-1 26 3 18 0 25 5 30-12 11-1 7 2 15 7 11 4 22 0 18 3 3 2 4 6 11 29 4 1 3-6 8-22 3-8 4-4 18-8 11-1 15 2 22-6 18 5 18 11 15-3 15 5 22 5 25-4 15-6 14-1 19-7 25-4 8 1 7 4 15 17 3 0 11-12 8-3 36 6 18-3 26-1 7 2 4 2 11 12 4-1 7-7 4-1 14 2 22-2 22 6 11-4" stroke="#00cbff"/>
<path d="M438 1428l7 5 11-3 11 1 22-4 11 7 3 0 15-11 11-4 7 2 15 9 4 1 11-3 14-3 11 5 22-5 11-5 4 0 11 3 3-1 19-6 3 0 11 4 4 1 11-4 4 0 18 7 22-2 22 3 14 3 4-1 11-7 4 0 11 4 11-1 7 2 11-1 11 2 18-2 15-7 14-4 4 2 7 7 4 3 4 0 7-3 11 1 15-9 3 0 11 8 7 3 22-3 15 3 11-8 15-2 3 2 11 8 4 0 22-9 7-1 15 8 11-1 11 1 14 7 15-2 7 1 11-2 22 1 15 7 14 12 4 0 4-3 18-19 7-5 4 1 11 6 4 0 18-9 4 0 3 2 11 11 4 1 7-2 15-8 14-2 19 3 14-7 33-5 15 7 18-6 7 0 15 6 26 7 14-6 8-1 18 7 15 7 7 0 14-4 4 0 11 7 11 2 11 4 15-1 11-7 7-1 7 4 11 10 8 5 21-2 4 1 11 9 4 2 3 0 4-3 15-20 7-2 11 3 18 16 8 4 14-3 4 1 14 8 4 0 18-9 30 6 14-5 8-1 43 15 8 0 7-2 22-10 15-10 7-7 11-15 11-10 7-13 15-41 11-42 14-45 37-145 18-58 4-9 7-11 8-5 11-12 3 0 4 4 4 7 36 83 7 24 11 46 11 33 22 42 8 10 3 0 15-11 25-37 11-22 19-48 14-28 4-4 7-3 4 2 11 10 15 7 7 11 7 19 59 181 18 41 4 5 14 14 8 12 7 17 4 6 3 3 4 0 11-6 3 0 15 6 51 16 11-2 11 1 19-3 7-4 11-9 14-6 4 2 15 17 7 3 7-4 11-11 4-2 4 0 11 6 7 0 15-8 3-1 15 10 14 6 8 1 14-2 15-7 11 0 11-3 11 3 4-1 18-10 22 3 3-2 15-14 4-1 3 0 15 11 11 4 7 1 8-3 11-9 3 0 15 3 14-6 4 0 15 8 7 0 7-3 15-11 4-1 3 1 11 10 4 1 4 0 11-7 18-8 33 1 11 3 22 3 29-13 7-2 4 2 14 14 15 4 4-2 11-9 3-2 15 3 11 5 22 0 15-9 18-6 14 7 11 1 11 4 8-2 11-9 3 0 15 12 7 4 4-1 15-11 14 0 18-8 22-5 4 1 15 16 3 1 4 0 11-7 4 0 22 5 14-7 11-2 15 4 7 0 15-5 14 3 11-3 11-1 11-6 4-1 18 1 15 3 11-3 3 1 11 5 4 1 11-2 11 4 11 0 7-3 11-10 8-2 14 4 15 12 11 3 7-1 15-9 11-4 7 2 11 10 4 1 11-2 11 5 11-6 7-1 11 1 11 3 14-2 15 3 11 1 18-10 19 7 11-2 7 1 14 9 19-3 11 5 11 2 7-1 11-5" stroke="#00e5f7"/>
<path d="M438 1412l14-1 15 7 14-6 15-3 15 1 14-2 15 2 7 4 8 12 7 15 4 5 3 0 4-4 11-19 7-8 26-9 14-3 8 2 18 19 7 3 19-10 22-3 10 1 22 7 8 1 18-2 15-8 7-2 11 4 15 12 3 1 15-9 29-11 15-3 7 1 11 4 22-5 15 3 11-2 25 6 15-3 14 5 15-2 11 0 18 4 8-1 14-7 8-1 14 4 26 0 11 8 3 1 15-7 15 2 14-2 11 3 8 3 7 6 7 11 7 16 4 6 4 2 3-3 15-24 7-7 8-4 7 0 11 1 15-1 14 7 22 3 15-7 14-2 8 2 14 7 8 2 7-2 11-5 7-1 8 3 14 12 4 0 14-8 8 0 7 5 7 13 8 16 3 6 4 1 4-4 14-30 8-4 11-4 7 0 18 3 15 5 22 4 29-2 37 3 14-4 7 0 4 2 7 7 19 30 3 4 4-1 4-4 14-28 8-5 11-1 7 1 15 7 18 0 14 9 15-2 15 6 29 0 4 2 11 10 3 1 19-4 7 0 18 8 22 3 11 6 4 0 3-3 8-11 7-6 15-3 11 4 3 0 4-4 7-12 15-19 18-29 55-128 18-33 8-10 7-6 11-6 11-3 7 1 11 8 15 14 7 10 7 13 44 95 11 16 7 5 8 3 3 0 8-4 14-12 8-10 14-27 15-34 15-25 11-25 7-12 11-11 3-1 8 3 18 14 7 10 30 58 29 62 33 59 11 16 11 10 25 13 19 2 14-5 8 4 11 11 3 0 11-9 15-8 18-5 7 0 15 4 15-3 22-1 11-2 7 1 14 9 22 3 15 14 4-1 3-3 11-19 4-4 7-4 19 1 14 3 4 0 11-7 11 1 11-1 11 0 25-6 8 3 3 4 11 20 4 3 4-3 14-29 4-4 7-2 15 1 14 5 44-2 11 2 15-6 18-3 22-10 7-2 4 0 15 9 18 0 15 3 7-2 18-9 26-4 3-1 15 5 18-7 4 0 11 4 15-5 3 0 15 4 15 3 40-10 33 12 3 0 15-4 44 7 14-4 15 1 37-5 18 2 15 0 14 6 11 2 11 6 4-1 11-13 7-5 44-7 7 1 19 9 14-1 18 4 19-11 18-4 11 0 11 2 26 2 21-1 15-3 11 2 11-1 11 7 15 2 11 5 43-12 8 2 14 9 8 2 25-2 15-5 15 5 14 0 15 4 22-3 7 3 15 10 7 2" stroke="#43ffb4"/>
<path d="M438 1424l25 5 11-2 22 3 40-4 8 2 14 12 4 2 7-2 15-12 7-2 44-1 22 7 18-8 15-1 18 2 81 2 18 5 18-8 18 0 22-3 11-4 33-3 40 3 30 5 66-5 18 3 33 1 7 3 11 7 4 0 14-4 48-4 7 2 15 14 3 2 4 0 4-3 11-9 11-3 25 4 19-3 18 3 18 0 22-3 29 5 30-1 7 2 15 10 7-1 14-9 8-1 7 4 11 12 4 3 3 0 4-1 15-12 7-1 18 1 26 8 77 10 40 1 14-4 8 3 11 13 3 1 11-7 8-2 18 6 37 3 18 8 25 1 19-2 29 7 15-4 7 0 18 5 15 2 14 6 15 8 4 0 14-5 30 0 14-11 18-11 22-18 11-11 44-55 19-18 18-15 11-4 7 0 7 2 19 15 14 16 26 34 22 21 14 9 8 2 7 0 11-3 11-8 22-25 18-29 19-36 25-36 11-8 7-3 8 0 11 0 7 2 18 13 44 53 37 52 11 13 33 29 18 7 11 6 4 1 18-9 18 1 18-1 11 2 15-3 11 0 15-4 14-2 33-10 18 6 8 0 22-11 14-3 11 1 11 4 15-2 40 0 18-1 8 3 11 11 3 1 4-1 15-15 11-5 21-4 26-8 33 1 37-5 87 2 22-4 18 4 44 1 15 1 15-7 18-5 22 4 25-4 19 4 14 2 37-3 18 3 18-2 22 3 11-1 11-3 8-1 22 3 40 0 18 6 18-7 19-2 18-5 18 1 48-3 29 2 15 3 29-4 44 5 47-1 19 5 25-3 22 3 22 0 26-3 22-6 32 1 30-1 29 4" stroke="#6fff87"/>
<path d="M438 1415l7-1 4 1 3 3 8 14 3 3 4-3 7-13 7-5 8 0 11 2 22-8 14 3 8 6 3 6 11 33 4 7 4 2 3-6 15-39 4-5 3-3 4 0 18 7 22-4 7 1 15 24 4-2 11-19 3-3 15 1 29-7 18 2 22 7 22-4 8 1 3 2 11 14 4 2 4-1 11-15 3-3 15 2 18-2 15-5 18 6 18 4 15 13 11-2 18-1 22-6 7 2 8 4 14-1 15 5 7 1 8-2 14-8 11-3 22 6 15-2 3 1 4 4 11 22 4 1 11-17 7-5 15 0 11-3 11 0 7 2 4 3 3 5 7 25 11 56 4 6 4-7 14-72 4-10 4-4 3-2 19 3 14-6 15 2 11-4 4 0 10 10 4 0 11-8 7-2 11 1 19 6 7-1 15-4 7 0 7 3 4 3 11 26 4 6 3 0 15-27 3-3 4-1 4 1 3 4 4 6 15 61 3 2 4-9 11-45 4-8 7-6 29-5 8 3 7 7 3 2 11-5 4 1 29 8 19-1 14 2 15-2 15 3 14-1 4 1 3 3 4 7 15 65 3 6 4-6 11-45 4-8 3-4 4-1 11 2 15-4 22 5 3 2 11 15 4 2 3-1 11-10 8-3 14 3 19-3 7 4 11 9 4-1 11-9 3-1 22 6 22 3 7 5 11 26 4 6 4-3 11-27 3-6 15-8 11-1 4-2 14-33 18-28 22-41 19-45 25-52 8-10 14-14 8-4 7-2 7 2 7 6 22 30 22 51 19 34 14 31 8 7 29 11 7-3 7-9 33-54 19-35 7-11 11-7 11-17 7-6 11-2 7 0 8 2 11 11 18 23 22 37 22 43 18 27 29 28 37 22 26 2 11 4 7 8 11 23 4 2 3-4 8-19 7-12 3-3 22-6 11-1 4 1 7 7 4 1 11-5 11 0 15-4 11-1 25-4 7 0 8 7 14 31 4 3 4-2 3-8 11-30 8-8 7-1 15 3 14 10 4-1 11-10 18-9 7 0 11 2 15-3 4 0 3 3 4 6 4 11 11 57 3 9 4-3 15-65 3-7 4-3 11-1 14-6 26 0 22 3 11 7 4 1 18-15 18-6 33-6 40-4 19-9 3 0 15 2 14-5 11 4 4 0 11-5 4 0 7 6 15 18 3 2 4-2 11-19 4-1 11 0 11-5 7 0 11 5 3 0 11-4 26 8 4 0 7-3 22-4 22-1 15 4 14 0 15-7 14 0 15-4 15-2 14 2 26-6 7 1 11 4 7 6 11 14 4 1 4-1 11-10 7-5 29-3 11-5 8 1 11 4 18 0 14 11 8 2 14-10 11-3 19 4 14-5 19 2 25-3 15 2 11-5 7-1 15 0 18 6 15 9 14-11 8-2 18 7 29 3 26 0 14 8 11 10 4 0 15-10 10-2 22 0 15-2 15 8 7 1" stroke="#6bff8c"/>
<path d="M438 1406l22 7 14 11 11-2 15 3 11-4 18 2 22-6 4 1 11 4 3 1 11-5 11 4 4-2 11-10 11-1 14-12 4-1 4 0 14 8 11 11 4 3 4 0 18-5 15-8 7-1 18 6 18-1 19 8 7 0 11-5 7-2 22 4 11 5 15-3 22 11 7 2 15-10 11 0 11-4 11 0 14 7 11-2 15 1 11-3 11-5 11 4 3 0 15-7 7-2 15 9 15-1 11 3 11-1 10 4 26-5 18 7 11-2 26 3 15-7 7-3 4 0 10 9 4 1 7-1 11 1 26-10 15-1 14-5 15 1 11 8 4-2 7-9 3-3 4 1 7 5 4 0 11-7 7-3 11 0 26 5 15-5 7 3 11 15 7 6 4 0 11-5 14 6 4 1 11-3 11 5 4 0 14-10 11-1 15 2 15-3 18 3 14 6 15 0 11 5 15 12 36 0 22 12 15-5 3 2 11 13 4 3 4-1 14-14 8-3 14-2 11 3 15 11 22 5 3-1 11-9 4 0 11 10 4 2 3 0 15-6 33-3 33 12 11 0 11 7 7 0 11 4 7-3 15-16 15-8 7-8 15-25 11-14 10-18 19-40 25-35 15-27 18-26 11-10 11-14 4-3 4-1 3 2 7 7 41 72 44 106 7 11 25 7 8-4 14-11 8-13 22-48 11-15 25-44 8-9 7-4 4-1 7 4 11 11 11 4 3 3 8 13 22 50 14 22 19 31 11 16 3 3 11 5 11 15 7 6 11 3 15 10 11 3 7 0 26-8 18 2 11 4 8 1 14-4 26-14 18 4 7 0 15-10 7-2 8 3 7 4 7 1 8-4 14-12 4 0 11 7 14 0 8-2 11-8 14-1 15-12 4-1 14 4 8 0 10-3 11-7 8-3 11 0 11 3 3-1 11-8 4-1 4 1 3 3 11 15 4 3 4 0 14-15 15-4 3 0 15 8 11 4 7-1 15-8 11-1 7 4 11 12 4 3 22 3 14 1 19-5 14-12 8-2 14 0 15-9 4-1 11 2 18-8 7 2 11 7 4-1 11-9 7-2 18 0 15 7 4 0 11-6 3 2 15 17 11 1 11 9 3 0 4-2 11-16 4-3 11 0 7-6 7-2 8 2 14 13 8 2 11-3 14-2 19-5 21 1 15-2 7-5 8-7 3-2 4 2 11 11 18 5 37-13 11 0 18-2 11 2 18-4 15 2 15-5 14 1 11-2 18 10 30-7 3-1 11 6 4 1 11-5 4 0 14 7 19-1 14 7 7-2 11-7 30 0 14-6 11-2 11 4 26 15 7 3 7-2 19-8 22 0 14 3 30-1 18-2 18-7 15-11 11 2 11-4 7 0" stroke="#67ff90"/>
<path d="M438 1420l14 2 15 12 4-1 7-7 7-4 15 2 11 3 3 1 15-11 4-1 7 2 7 6 4 6 11 35 4 5 3-3 11-37 4-9 4-5 7-3 18-1 11-4 11 6 11 2 15 16 3-1 8-9 3-3 11 2 4-1 11-10 4-2 3 0 11 4 26 0 14 7 15 14 4-1 11-6 3 1 8 6 11 15 3 0 15-18 14-4 15-8 15 1 14-5 8 3 14 12 11 5 4-1 15-16 7-4 18 2 18 0 15 6 4-1 14-7 4 0 4 2 11 10 7 3 11-1 15-12 10 3 11-5 8-2 7 3 11 16 4 4 3 0 11-11 15-1 18-11 15-3 7 4 4 5 7 25 11 50 4 5 3-7 11-47 4-11 7-11 8-4 3 0 41 15 14-4 11 3 11 1 29-11 4 1 15 8 14 1 8 4 7 6 4 5 11 23 3 2 4-4 7-17 7-11 8-3 3 1 4 5 4 11 11 48 3 7 4-4 11-40 4-9 3-4 4-2 11-1 18-9 8 3 10 11 4 1 4-2 11-9 3-1 8 1 14 6 15-3 7 2 15 10 26 3 7 0 11-9 3 1 4 5 4 10 11 52 3 13 4 1 4-10 11-46 3-10 4-6 4-2 3 2 11 9 4 1 29-5 4 1 11 12 3 1 11-9 4-1 11 1 11 3 11-1 15 13 7 4 4-2 7-8 4-2 11 5 14-7 18 0 4 2 7 8 15 31 4 3 3-2 15-34 7-5 8-1 3 3 11 21 4-3 7-16 4-4 11-6 3-4 19-22 7-14 11-28 4-6 11-12 18-35 7-12 4-3 11-5 15-26 18-17 3-1 4 1 18 11 4 4 15 28 18 28 26 29 18 13 7 1 15-2 7-4 7-10 19-35 14-35 8-12 11-9 11-24 14-25 4-3 3-1 8 2 14-3 22 17 8 9 14 29 22 34 26 54 25 40 26 30 18 7 11 9 11 2 4 4 15 31 3 3 4-2 14-19 8-5 7-1 15 3 18-3 15-11 14-2 8 2 7 3 4 0 11-10 3-1 22 5 4 2 7 6 11 14 4 2 3-2 11-20 4-4 11-3 11-7 4 0 3 2 11 11 4-1 11-16 11-4 11 1 7-1 7-3 15-13 4 0 3 3 8 13 14 57 4 5 4-7 14-64 4-8 4-4 3 0 11 3 33-2 7 3 15 13 11 1 7-3 11-10 22-8 26 3 25 9 8-2 11-11 3-2 4 1 11 9 4 1 18-9 22 0 7 2 11 9 11-2 7 1 15 9 4 0 7-2 15 1 11-5 11-2 10-6 15 4 4 0 11-5 3-1 11 5 11-3 11 1 15-10 7-3 4 1 11 8 4 1 25-2 40 5 15-4 4 1 11 7 11-4 3-1 15 11 4 0 7-6 3-1 15 19 4-1 3-4 11-21 4-3 4-1 11 6 3-2 11-9 4 0 29 7 11 11 4 3 3 1 11-9 19-9 11 2 11-1 14 3 15-1 7 2 11-1 11 3 15-7 18-6 18 4 30-7 3 1 11 11 4 1 36-11 15-13 7-1 11 3 15 10 4 1 11-5 3 0 4 2 11 11 4 0 11-5 18 2 11-6 7-1 11 0 15-2 7 2" stroke="#68ff8f"/>
<path d="M438 1412l25 3 40-8 41 2 22 8 3 0 15-9 22-3 7 1 15 4 14 0 19 3 36-6 18 0 15-2 11 1 33-3 11 1 22 11 25-4 22 5 19-1 14 2 15-2 15 1 36-6 55 5 22-3 37 4 10 0 15-4 22 2 29-3 22 5 26 2 18 12 4 1 14-4 19 5 11-2 33-12 40-6 11 2 18 10 26 9 18 2 15 3 18-2 11 0 7 1 15 6 7 0 15-4 40 7 29-6 33 2 18-2 30 7 25-2 11 6 18 14 8-1 11-7 11-1 33 7 21 8 15 4 15 0 18 3 37 4 51-1 11-1 22 2 22-5 22-2 22-15 14-18 26-47 18-25 22-25 22-29 11-7 7-1 7 2 11 6 15 13 26 38 25 50 11 17 19 21 7 4 7 1 7 0 8-3 14-14 8-10 18-35 11-17 29-34 8-6 7-4 11-4 7-2 11 3 11 6 73 88 11 11 18 13 11 5 15 2 18 6 19 2 18 5 7 0 15-3 33 7 33-6 14-5 15-2 29-8 11 0 26 2 14-6 15-2 22-6 22 1 25 3 37-8 7 1 11 5 4 0 15-10 7-3 33 5 18 0 22-3 37 1 36-8 22-1 22-3 18 0 15-2 15 2 43 12 11 0 8-1 22-9 25 0 15-3 36-16 15-3 22 4 33 2 18-4 22 1 33-4 18 3 26-5 7 2 18 10 11 3 8-1 18-9 15-4 22 2 22 5 18 0 22 4 25-7 30-2 22 2 29-4 18 1 22-2 26 1 18 9 33 12 11 0 18-4 18 5 11 1 11-3 26-8 11 1 18 6 18 2 26-2" stroke="#88ff6f"/>
<path d="M438 1418l7 0 4 1 3 4 8 12 3 3 4-3 7-12 4-4 3-2 11-1 22 1 26 8 4 4 3 7 15 55 4 3 3-8 11-44 4-8 4-4 3-2 26-5 18 2 7 3 4 4 11 18 4 0 14-18 37-16 7 1 15 6 7 0 33-9 15-2 3 1 4 3 11 17 4-1 11-17 3-2 7-1 33 6 22-3 8 1 11 5 18 15 4 0 14-7 22-8 7 0 37 4 29-4 33 2 18-3 11 4 4 3 11 18 4 3 3-2 11-20 8-7 22-6 18 0 4 2 3 3 4 8 3 13 11 67 4 12 4-4 14-72 4-8 4-4 11-5 7-1 11 1 26 0 7 3 11 8 3 1 19-9 14-2 8 1 25 12 22 7 8 10 7 20 4 6 3 0 11-27 4-5 3-3 8 0 3 3 4 6 15 51 3 2 4-7 11-44 4-11 7-9 7-4 8 0 7 2 7 5 18 23 4 1 11-4 18-1 26 4 29 0 15 1 14-3 8 3 3 4 4 7 15 54 3 5 4-4 4-12 11-48 3-9 4-4 4-2 11 2 18 10 18 6 15 18 3-1 11-8 4-1 22 8 22 3 11 11 4 2 11-11 3-2 37-10 7 0 7 4 4 4 11 24 4 1 11-20 3-4 19-3 11 7 3-3 15-30 22-27 36-58 41-52 7-5 11-4 7 0 7 3 19 15 25 30 33 48 19 19 11 6 10 2 8-1 7-4 7-7 22-31 26-45 11-14 15-38 7-13 7-8 11-5 7 1 11 7 26 30 37 51 47 73 22 27 7 8 8 5 36 9 8 8 7 16 4 3 3-3 11-27 4-5 7-4 7 0 22 5 11 5 4 0 15-10 7-3 44 1 14-5 8-1 3 4 4 7 7 20 4 5 4-3 11-29 3-5 4-2 29-2 4 1 7 5 4 0 7-7 7-4 19-1 14-6 15-2 4 1 3 2 4 5 7 26 8 38 3 11 4 0 4-11 11-48 3-8 4-5 36-8 19-9 18-6 4 1 11 4 11-4 3-1 29 8 8 1 69-20 22 0 15 6 18 3 26-2 3 2 4 4 7 12 4 3 4-2 7-8 4-2 11-2 14-7 15-5 29-4 15 4 14-5 30 3 22-5 11 2 18 9 25 6 8-1 14-6 11-3 19-2 18 1 11 4 14 21 4 2 4-2 11-19 7-8 26-7 18-8 7-1 19 1 10 2 19 11 11 0 25 8 8 1 7-1 7-112 4 0 4 66 3 38 4-1 7-99 4 0 4 60 3 35 7 2 19 8 14 3 19-3 18-1 4 1 11 8 3-1 11-9 8-3 10-3 11-1 37 3 22 3 7 3 11 9 4 0 11-12 7-3 40 2 26-1" stroke="#aeff49"/>
<path d="M438 1420l14 0 15 6 14-7 22-1 11 1 22-2 11 4 15 13 7 3 4-1 18-14 22-3 29 0 15 7 4 0 14-5 15-3 44 0 18 2 40-3 8 2 11 7 14-4 44-3 40 1 19 5 18-3 40 4 37-3 25 1 19-2 10 0 19-3 7 1 15 9 3 0 15-8 15 1 14-1 15 2 11 0 3 1 4 4 11 20 4 3 3-3 11-19 8-6 22-2 18 3 26-2 14 6 26-1 44 11 18 2 18 9 4 0 14-8 8 1 11 7 14 20 4 1 4-4 11-16 7-4 29 1 22 7 7 0 19-5 18 3 18-2 11 3 26 0 14 2 19 8 14 15 4 2 4-2 14-11 15-2 40 6 18 9 19-1 40 1 4 0 14 8 11-2 19 4 14-3 22 2 15 8 3-1 11-8 15-3 15-6 25-23 26-31 62-100 11-10 18-10 7-3 8 1 3 2 19 13 7 7 15 19 36 61 11 13 8 5 7 3 14 0 8-2 11-10 11-15 33-63 11-16 18-34 11-12 7-5 7-2 4 1 7 4 15 15 7 9 19 29 51 92 14 23 8 9 33 27 11 5 25 4 8 4 11 8 3 0 11-8 7-3 33-2 15 2 18-9 19 1 29-6 25 1 15 9 4 0 3-1 11-8 8-3 14-3 30-2 18-7 29-2 26 2 18 15 4 0 3-3 15-16 14-6 37-4 40 3 37-9 40 1 15-4 22-3 29-1 22-3 18-1 15-4 7 1 15 6 25-5 37 3 25-4 33 1 22-1 22 1 33-4 44 8 18 0 15-3 11 0 18-3 15 6 3 0 15-8 11-3 18 1 30-3 43-1 19-3 44 2 22-4 32 0 15-2 26 2 14-2 11 1 11-5 8-1 51 5 18 5 22 4 11 5 4 0 18-6 51-6 11 0" stroke="#8cff6b"/>
<path d="M438 1432l14 1 19-2 7-3 14-9 4-1 7 4 11 12 4 2 7 1 19-7 11 4 7 0 7-3 19-11 25 1 18-3 15-5 15 1 14 4 37 3 14 7 8 1 33-11 14 0 15-4 15 0 11 4 32 6 4 0 15-9 22 5 14 0 15-5 18-3 22 0 26 1 18 2 7 2 11 8 4 1 15-4 14 2 18-3 26 5 18 8 15-4 26-1 7 4 11 8 14 3 15 7 4 0 14-9 37-10 7 1 37 14 18 4 7-3 26-18 11-2 11 2 15 1 18 9 7 2 11-5 7 0 22 10 8 2 18-4 18 2 4-1 11-7 4-1 11 4 18 1 14 4 26 4 7 2 19 12 14-3 15 3 11-4 7-1 18 4 15 7 4-1 11-7 7-2 15 4 14-3 15 4 11-1 29 1 15-1 22 7 18 10 33 2 7-2 18-10 26-6 11-8 11-11 44-52 58-90 11-9 11-3 19 4 14 12 26 32 14 26 11 15 33 37 22 15 8 1 11-2 18-10 18-16 22-28 26-16 3-2 30 2 10 4 11 7 30 35 18 17 26 30 18 17 18 13 26 10 22 2 14 6 22 4 15-1 15-8 14-6 7 0 15 3 40-13 8-1 29 1 22-9 7 1 22 9 7-2 11-8 15-4 29 3 18-12 15-8 7-2 15 3 11-1 4 1 18 12 7 3 4-1 18-14 8-3 25 0 15-3 18 4 15-3 11 0 22-2 11-5 14-12 15-5 29 8 22 2 33-2 22 7 18-1 18-6 37 8 11 1 36-9 19 6 14 0 15 3 18 1 8-1 43-14 15 3 18-3 33 3 22-2 26 2 14-4 15-9 7-2 11 2 11 8 8 2 14-4 15-1 22 2 14-2 22 3 30-6 25 1 15-5 36 3 15-2 11 1 15-4 33 7 18 6 11-1 40-10 7 0 15 4 18-2 22 2 15-5 11-1 7 1 18 7 15 0" stroke="#b4ff43"/>
<path d="M438 1407l11-2 11 6 11-5 29-1 29-5 11 4 18 18 4 1 4-1 11-8 7-4 4 0 14 3 11-5 4 0 11 3 11 1 14 9 4 1 11-4 18-3 22 3 15 5 3-1 15-10 4-1 14 5 30-2 14 8 4 1 15-5 10 2 15 1 29 8 30-3 33-7 25 0 26 9 14-4 11-2 37 5 40-5 18 6 30-16 7-2 7 2 15 8 11 2 7 3 15 22 3 3 4 0 11-18 7-8 4-1 11 2 18-6 37 1 11 1 18-5 7 3 15 8 26-2 22 11 18 4 7-2 15-9 7 0 7 3 11 13 4 3 4 1 3-1 11-7 15 1 15-1 14 0 15 5 14 2 19-3 11 0 18 7 15 3 22-3 7 0 11 6 14 3 4 3 11 15 4 2 3 0 19-18 11-3 7 2 15 9 14-1 26 7 22-1 14 9 15 0 22 9 7-1 8-5 7-2 15 5 14 1 11 5 18 12 8-2 11-9 7-3 22 3 22-15 18-19 29-25 22-29 22-22 26-21 4-1 32 2 8 2 7 4 22 25 22 32 40 27 7 1 22-7 22-16 26-22 18-29 8-9 21-20 8-4 7-1 29 1 11 4 19 15 18 25 22 27 14 21 15 10 15 12 11 5 14 10 15 6 11 9 4 0 11-10 7-4 18 0 15-3 18 0 15-6 25-7 8 1 14 3 15-3 7 0 7 4 11 11 4 0 4-1 18-15 7-4 4-1 11 5 18 4 8-1 14-7 22-3 15-7 11-2 7 1 4 3 11 13 3 3 4 0 4-4 11-14 7-7 18-7 29-1 33 6 19-5 18 2 18-7 11 1 4-1 11-8 3-1 19 4 11 0 18-4 18 3 22-7 15-1 7 1 26 13 3 0 11-4 15 1 15-3 32 1 15-5 7 0 15-3 11 0 18-9 8-2 22 2 29 7 14 1 15 4 15-4 36 5 19 0 7 3 14 8 4 0 11-6 26-2 7-4 11-8 11-4 18 3 15-1 18 10 22-9 15 2 14-4 15 1 15-8 3-1 4 1 11 9 7 3 7 1 11-5 8-1 36 7 15 7 4 0 11-6 14-1 15-7 3 0 15 5 33-4 33 15 11-1 22-6 11 0 14-5 15 6 11-2" stroke="#a6ff51"/>
<path d="M438 1417l7 0 4 1 11 16 3 2 4-4 7-14 4-3 3 0 11 6 4 0 15-5 18 4 15 0 3 2 11 20 4 4 4-1 11-22 3-5 8-4 21-6 30 0 3 3 4 6 7 15 4 4 4 1 3-3 11-15 8-6 11 1 7-1 4 1 10 9 4 1 18-5 22 3 15-1 11 5 11 1 15 6 18-11 7-3 11 3 7 1 11-3 15-1 11-5 11 5 11 2 11 5 15-9 14-4 4 1 11 5 11 2 18 10 4-1 11-9 3 0 11 6 19 4 7-4 11-12 7-2 22 6 7 6 15 16 4 0 11-10 14-5 15-7 4 1 11 8 3 1 15-2 3 4 11 32 4 6 4-4 11-35 3-6 8-4 11-2 22 1 7 3 11 6 4 0 11-8 3-1 18 1 15 6 4 0 11-4 18 3 26-8 3 0 4 3 15 31 3 0 11-12 4-2 11-4 3 0 4 4 11 29 4 7 3 0 4-6 7-22 4-8 4-3 7-1 15 2 14 7 4 0 14-2 11-10 4 0 4 3 7 12 4 3 11-3 11 3 11-6 3 0 11 3 11 7 26 0 7 3 11 10 15 33 3 5 4-1 4-5 11-25 3-5 4-1 15 4 11-3 11 2 14-4 4 2 11 13 3 1 26-6 11 3 4 0 11-7 3 0 4 3 11 16 4 0 11-13 3 0 11 8 18 7 26 5 11 9 4-1 3-5 19-28 3-1 15 7 4 0 3-4 15-26 18-20 15-11 18-19 11-6 15-4 25-18 8-2 18 9 14 12 11 2 4 3 7 11 15 29 15 17 11 19 3 5 11 9 8 8 3 3 4 1 11-5 14-1 8-7 29-43 15-14 18-32 18-19 11-19 4-3 3 0 8 1 11 0 11 5 11 13 22 30 11 6 11 10 22 33 7 7 22 11 3 1 11 0 4 1 26 24 3 1 11-1 4 1 7 7 15 19 4 0 11-20 7-8 11-5 14 3 4-1 11-9 11-5 11-10 7-3 22-1 22 14 4-1 11-11 3 0 8 9 14 30 4 2 4-4 11-31 3-7 4-2 15 5 29-1 14-4 19-11 7-1 11 1 11-6 4-1 7 3 4 5 11 32 3 7 4 0 4-8 11-35 3-5 4-1 11 4 22 0 7-3 7-6 4-1 11 8 11-2 4 2 7 6 4 1 3-3 15-15 7-4 8-2 18-1 14 7 4-1 11-12 4-1 29 14 15 4 22 3 7-2 11-7 14-1 19-7 3 1 4 2 7 9 4 2 4-1 11-11 14-9 4 0 11 4 11 0 7 4 11-2 4 1 18 13 4 1 11-9 11 0 14-3 15 3 4-2 11-13 7-5 18 6 7-2 11-6 15 2 11-3 11 3 15 1 14 6 15-1 14 10 11 4 8-2 14-12 8 0 11 5 3 0 19-9 3 0 11 11 4 2 11 1 25 4 8-3 18-12 15-4 11-6 14 4 15 2 15-9 18 3 18 11 7 0 11-2 26 3 15 6 3 0 4-2 11-10 4 1 10 6 4 0 15-7 11 2 11-3 18 5 15-5 3 1 11 11 4 0 11-10 4-2 7-1 14 4 4-2 11-11 11-4 7 2 4 2 11 14" stroke="#a3ff53"/>
<path d="M438 1433l14 7 8 2 14-11 4-1 7 1 11 5 4 0 14-10 37-3 7-2 15-8 18 2 11-3 11 2 18-2 15 4 33-1 15 4 3 0 11-6 4 0 11 7 3 1 15-9 4 1 14 10 19-1 14 4 8-4 11-9 7-2 7 2 15 11 11 3 3 0 11-8 4 0 7 3 11 9 8 2 18-9 11-2 18 3 18-1 19 7 14 0 8-4 11-10 3 0 11 10 8 3 7-2 15-15 7-4 4 1 14 12 15 7 11 4 7-1 7-5 8-2 18-1 15-2 7 1 7 4 11 12 22 7 4-1 7-4 11-13 7-4 15 6 22 4 15-6 14 3 7-1 19-11 11-3 7 3 18 16 4 1 11-5 7 0 40 17 19-1 22 6 22 2 7-2 11-10 7-3 15 0 18 10 4 0 14-10 4 0 11 8 18 5 11 6 22 0 15 12 18 1 26 12 18-9 29-7 8-1 14 5 11-2 11 9 4 1 11-2 3 1 11 11 8 5 7 0 18-5 8 2 11 7 11 3 18-3 14 6 15-2 26 7 14 2 19-8 14 6 4 1 7-3 37-35 14-16 15-6 29-20 15 3 15-7 3 1 18 13 19 3 14 10 15 8 22 17 22 13 18 16 4 3 3 0 8-4 18-18 18-11 8-12 11-26 3-6 11-10 11-19 8-10 14-7 11-8 11-2 11-10 4-1 7 0 7 4 11 15 8 7 14 2 4 2 4 5 11 21 7 10 29 24 7 3 11-2 11 7 15 3 18 14 15 7 15-4 10 3 15-1 15-5 11 6 3 0 4-1 18-14 22-10 4-1 11 6 4-1 7-5 3-1 11 6 4 1 11-4 22 6 15-6 11-2 11-8 14-1 11-3 11 0 11-5 11 7 4 0 3-2 11-15 4-4 4 0 7 3 11 11 7 4 15-3 18-7 15 5 11-5 11 1 11-7 3-1 15 10 11-5 18 2 11-4 4 0 18 12 4 1 11-2 11 2 18-9 4 0 11 6 3 1 11-3 11 0 8-1 18 7 7-4 11-15 4-3 3 0 4 1 15 10 7 1 18-4 15 1 7-4 8-7 7-3 4 1 14 12 11-1 11 2 15-4 7 3 4-1 11-11 3-2 8 2 11 6 3 1 11-3 4 0 29 11 11-5 15-3 33-14 11-2 25 2 18 5 22-3 15 6 15-7 7 1 15 6 7-1 15-6 3 0 11 6 4 0 11-7 14-1 4 2 11 9 4 1 3-1 15-14 7-2 15 6 15-2 21 4 11 4 4 0 15-11 25-12 8-1 14 6 11 0 8-3 11-7 3 0 4 2 22 27 3 0 11-8 11 0 11-5 11 0 8-1 7 2 18 15 8 3 7 1 7-3 18-14 15-6 7 1 15 9" stroke="#c5ff31"/>
<path d="M438 1424l11 3 3 5 11 34 4 1 11-33 3-6 4-3 33-1 18-4 8 2 3 6 4 13 11 92 4 20 3-3 11-89 4-20 4-10 3-5 4-1 18-2 18 1 8 1 3 5 4 8 11 43 4 7 3-4 11-34 4-6 4-3 18-2 22-7 18 2 18-2 33 2 4 3 4 6 7 20 4 3 3-5 11-34 4-5 7-4 26 0 47 8 8 5 7 12 4 1 11-15 3-2 15-5 22-11 7 1 29 9 19 0 18 5 25-3 15 0 4 1 3 2 4 7 11 46 4 9 3-2 11-48 4-11 4-6 3-3 8-2 22 1 11 5 3 6 4 12 7 50 7 71 4 23 4 3 3-16 15-125 4-15 3-8 4-3 7-2 19 8 29-1 4 1 3 4 7 12 4 1 11-17 4-2 22 3 29-3 7 0 8 3 7 6 4 8 11 49 3 7 4-6 11-47 3-8 4-4 4-1 3 2 4 6 4 14 11 89 3 19 4-3 15-105 3-10 4-5 7-3 8 0 18 6 7 8 7 15 4 1 11-15 4-2 18-1 15-6 14-1 41 8 14 7 7 9 8 28 11 78 3 17 4-430 7 0 4 374 7-42 4-11 7-11 4-2 7-2 22-1 8 2 3 2 4 5 11 25 3 1 15-30 7-5 15-1 22 8 4 2 3 6 8 14 3-2 8-15 3-4 4-2 25-1 19-4 3 1 4 3 4 10 7 34 4 7 3-8 8-39 3-13 4-7 7-6 8-3 3 2 8 15 3 2 15-44 29-39 18-23 11-11 22-14 8-2 7 1 15 6 14 10 66 81 18 18 11 4 33-4 18-9 8-6 18-22 22-22 4-1 7 10 4 2 11-22 7-5 14-4 19 3 7 2 11 6 7 7 22 27 30 32 29 23 29 12 29 7 22 2 4 4 4 8 11 40 3 2 4-8 11-40 3-5 4-3 15-1 14 3 4 3 11 15 4-1 7-14 7-10 33-14 11-2 18 2 4 1 4 4 3 8 4 14 11 50 4 1 3-11 11-57 4-11 4-6 3-3 15-5 7 0 4 3 7 11 4 2 4-4 7-17 7-7 7-2 19 1 11-3 7 0 4 2 3 4 4 9 4 17 14 125 4 12 4-10 14-119 4-16 4-9 3-6 7-5 15-5 40-9 8 2 11 14 3 1 15-21 11-5 33 4 40-4 18 5 15 2 15-2 51-1 3 2 4 5 11 29 4-1 11-27 3-5 4-2 7-2 26 2 29-2 4 0 11 9 3-1 11-14 4-2 29 5 22-4 18 1 19-1 36 6 15 1 37-5 7 2 3 5 15 42 4 2 3-6 11-33 4-6 4-3 3-1 37 2 26 11 18 2 11 10 3 1 11-14 8-4 36-4 22 4 15-4 11 0 18-4 22 4 22-2 4 2 11 17 3 2 11-16 4-2 14 2 30-3 18-3 22 1 7 2 4 3 7 11 4 2 4-3 7-13 7-7 7-2 30-1 18-7 11-3" stroke="#b4ff43"/>
<path d="M438 1410l7-4 7 0 15 12 4-1 10-9 41 8 25-2 4 1 4 4 11 24 3 3 4-4 11-26 4-5 7-2 7 1 15 7 18-4 7 1 8 4 11 14 3 1 4-3 11-16 4-2 43-7 15 2 18-1 22 3 15 0 4 2 11 11 3 1 15-12 25-1 19-4 22 2 18 5 18 9 8-2 14-10 7-3 8 0 11 2 18-3 15 5 11 1 33 1 18-4 29 6 15 13 3 1 8-5 14-16 8-3 11 0 18 2 11 4 3 4 4 8 11 32 4 4 3-2 11-27 8-13 7-4 11 0 11-1 22 7 15 0 14 9 4 0 14-10 8-3 14 6 11 1 11 2 26-2 7 3 11 9 4 1 3-2 11-10 11-2 8 4 3 5 11 28 4 4 4-1 14-29 11-9 8-2 14 9 22 6 15-5 14 7 8 1 11-7 7-1 26 8 11 0 11 4 7-1 11-3 3 0 4 2 4 4 14 35 4 4 4 0 3-5 11-25 4-5 4-3 3 1 11 6 15 1 22 4 14 13 4 2 15-5 14-9 4 0 11 4 15 2 14 14 4 0 11-9 7-1 22 8 22 3 7 7 8 12 3 1 11-15 8-4 14-2 11 7 4-1 11-22 29-33 18-23 15-12 15-22 14-11 8-3 18-4 25 10 37 41 29 51 11 15 11 8 15 6 7 1 22-9 11-9 33-45 15-14 14-28 8-5 29-15 7-2 18 6 26 19 11 12 22 35 22 19 7 4 29 9 19 13 11 6 22 5 11 13 3 2 4-1 11-16 3-3 19-2 18-10 4-1 11 6 3-1 11-7 15 2 11 0 40-9 7 3 15 20 4 4 3 1 4-3 15-19 18-9 11-2 11 2 4-1 14-14 7-4 33-1 15-5 4 2 3 6 15 40 4 3 3-5 11-31 4-6 7-6 11-1 11-5 18 0 11-4 11-1 11 2 11 7 4 2 26-12 7-2 18 2 26 7 22 1 18-6 26 0 14-4 15-1 18-6 11 0 11 4 4 0 11-11 7-2 11 1 22-1 18 4 15-4 14 2 11-3 11-1 8 0 14 4 22-3 15 1 18-5 7 1 15 6 15-2 14 4 19 2 7-1 11-4 4 0 10 5 15 9 7 3 19-7 14 0 15 3 7 0 22-8 18 2 11 0 15 5 37-6 22 8 14 1 11-1 15-5 33 10 11-1 18-8 7 0 11 2 15-7 33 3 14-4 8-1 18 7 7 0 11-3 15 5 4 0 14-6 7 2 11 5 4 0 18-8 26-1" stroke="#a4ff52"/>
<path d="M438 1394l7 2 15 10 3 0 11-8 15 3 22-7 14 1 8 2 14 9 15 20 4 2 3-2 11-13 8-5 25-6 29-1 4 0 11 10 4 0 14-10 15-5 7-1 37 5 29 0 26-4 7 3 11 8 4 1 11-4 18 1 22-3 14 7 26 1 11 0 11 3 18-2 15-3 18 5 15-6 18-3 15 4 25 2 22 4 15 0 14-5 4 1 11 10 4 0 11-7 7-2 4 1 14 13 15-1 18 5 7 10 11 25 4 2 4-3 14-32 4-5 7-4 11 0 15-2 11 1 15-6 3 0 22 11 4 0 7-1 18-8 4 0 11 4 15-3 25 2 19 13 7-1 14-8 8-2 3 2 4 5 11 22 4 5 3 0 4-4 11-23 4-5 7-2 18 7 19 3 14 7 18-3 4 0 11 7 7 2 33-2 33 12 18-3 4 1 4 5 11 21 3 2 4-3 11-21 4-3 3-1 15 2 15 7 14 5 22 10 7 0 8-5 7-3 29 8 26 11 4-1 11-11 3-2 4 0 11 5 4 0 18-1 14-7 4 0 11 7 4-1 14-21 15-14 4-2 3 0 8 2 3-3 11-16 22-24 15-14 22-24 7-5 15-6 11-3 7 0 15 5 11 8 25 39 18 21 19 26 14 16 11 8 8 1 14-3 15 0 14-4 19-10 7-6 18-17 19-21 7-4 15-11 21-4 8 2 18 10 7 6 11 12 30 22 18 12 15 12 25 13 18 4 19 9 18 0 11 2 11 0 4 2 7 8 4 2 3-2 8-9 7-5 14 1 22-4 15 2 22-12 4-1 14 1 15-5 14 0 15-3 4 0 3 2 11 12 4 2 4-2 14-17 8-4 14-2 15-7 7 0 15-3 22 3 14-4 8 0 18 5 7 9 8 14 3 3 4-2 15-32 3-5 8-4 32 2 19-5 11 3 18 3 4-1 14-9 33-7 15 1 36-3 37 5 18-3 15-4 14 0 11-3 15 2 15 5 3 0 26-12 29-7 11 1 11-1 11 3 7 0 11 5 8 2 29-2 18 2 22-7 11-1 33 6 26 1 25-7 18 6 15 8 15-6 18-4 11 0 15-3 22 1 21-4 15 6 15-1 14 4 8-1 11-3 18-2 40 7 18-2 41 0 18 8 4 0 22-12 18-1 18-5 7 1 11 4 22-4 19 2 22-8 21-2 26 1 22 6" stroke="#cdff2a"/>
<path d="M438 1422l11 4 14 11 4 0 11-7 25 4 15-7 29 2 4 2 15 13 3-1 15-12 7-3 15 4 14-7 19 0 18 8 7 1 15-8 4-1 11 1 3-1 15-8 3 0 15 5 15-4 7 0 22 11 7 0 11-3 15 4 4 0 14-8 11-2 26-1 14 2 37-10 7 0 19 4 14-4 15 6 14 0 30 4 18-2 15 5 7-1 11-3 14 0 22 5 15 8 4 1 11-7 7-2 11 2 18 0 26-3 3 2 4 4 11 19 4 0 11-16 7-8 18-9 22-5 40 15 8 0 18-5 18 2 19-2 18 3 11 4 11 8 4 2 3-1 11-9 4-1 22 19 11 13 3 3 4 0 4-3 11-15 3-2 8-1 14 6 19-1 14 8 18-1 22 2 8 3 14 9 8 2 29-1 11 2 14-1 8 4 14 16 4-1 15-15 7-3 11-2 15 2 18 7 22 5 3-1 11-6 8 0 11 3 14 7 19 1 11 4 11-4 7-1 22 6 14-6 8 0 7 2 11 12 4 2 3-2 11-11 15-9 15-12 14-21 15-14 29-41 18-20 19-25 14-13 11-4 29 12 11 8 37 55 22 38 15 19 11 7 18 2 7-4 11-8 26-31 18-36 15-22 22-23 7-2 11 1 22 3 7 5 26 28 33 48 14 14 15 21 14 15 8 5 14 1 11 3 19 10 3 0 11-2 15 3 15 11 3 0 11-7 11-2 33-8 11 2 4 0 25-12 22-1 18-5 8 1 14 8 11 4 4 0 4-2 11-14 7-6 11-2 29 2 11-7 4 0 11 5 3 0 19-7 14-1 8 1 11 3 3 3 11 17 4 1 4-4 11-19 3-4 29-15 4 0 15 4 11-3 14 1 11-4 11 2 37-12 18 7 11-2 15 2 36-4 26 1 33-11 14 2 11-4 15 1 22-5 15 2 21-2 11-2 15-6 4 1 11 7 7-1 11-7 4-1 33 12 7 1 25-3 22 5 59-13 15 3 25 1 11 6 7 2 15 0 40-9 30 3 14-1 15 3 18-1 15 1 14 3 15-2 11 4 36 4 11 3 19-5 22 7 3 0 11-4 11 2 19-5 25-2 11-3 15 1 14-3 11 1 11-1 11 2 4 0 18-11 7-2 11 2 15 1 15 5 18-1" stroke="#c4ff33"/>
<path d="M438 1422l18-2 11 5 18-8 18 0 19-3 25 1 8 3 11 10 3 0 19-15 25-5 29-1 19 9 3 0 11-7 11-4 22-3 15-1 36 6 26-3 29 9 15-3 33-3 14 2 15 0 11 1 15-4 11 3 14-1 18 3 37-3 29 3 22 7 19 1 36-3 15 6 3 0 19-9 14-5 8-1 25 3 7 3 8 9 7 13 4 3 3-1 15-18 7-2 19 2 33-2 29 3 51 1 15 2 18-1 7 3 11 9 4 0 11-8 7-3 11 3 18 19 4 1 18-13 11-1 26 1 22 9 18-2 95 6 7 2 8 4 14 22 4 2 4-1 14-18 4-2 7 0 30 7 18-1 18 9 44 4 29 6 11-1 29 3 22-1 19 8 3-2 15-12 15-8 18-5 40-35 33-36 15-13 11-5 18 0 11 2 22 18 11 12 22 30 40 44 11 9 11 2 7-2 7-3 15-12 7-8 19-25 29-45 7-9 19-16 18-14 3-2 8-1 18 7 22 20 66 79 29 24 22 9 7 1 37-2 4 1 11 7 3 1 18-11 26-5 11 0 15 5 25-8 33-2 18-4 11 0 19 7 3-1 15-15 15-5 11-1 18 5 14-6 15-1 15-5 14 0 15-4 4 1 3 3 11 19 4 4 4 0 14-25 4-4 7-4 18-3 30-7 36-1 30-9 10-1 74 2 14 1 15-1 22 0 25-5 8-1 18 4 7-1 11-5 8-1 22 0 14 2 26-3 14 3 52-9 14-1 18-4 26 5 22-1 15-4 7 0 40 3 11 4 15 9 3 0 19-8 18-3 18-1 19 2 21-1 22 4 44-2 15 2 36 0 48 2 26-2 14 2 15-4 18 0 48 10 18-1 22 4 7-1 15-5 14 3 19-5 29 5" stroke="#d4ff22"/>
<path d="M438 1421l7 1 4 3 11 15 3-1 11-16 4-2 11-1 18 4 22-5 7 2 8 11 14 48 4 6 4-2 3-7 11-33 8-12 7-3 25-4 8 0 7 3 7 8 11 19 4 1 4-4 7-14 7-9 4-2 7-2 22 0 51 4 19 0 11 5 14 19 4 1 4-3 11-16 7-5 14 1 19-2 22 3 18 0 7 3 11 8 4 0 11-9 4-2 25-4 29 0 44-6 59 2 3 2 4 5 7 15 4 4 4-2 11-20 3-4 4-1 7 0 30 5 7 3 4 4 7 17 11 50 3 9 4-1 4-12 7-36 7-25 8-10 11-4 11-2 36 0 4 0 11 9 3 0 15-9 15-2 25 6 22 1 8 4 14 24 4 5 4 0 3-3 11-16 4-3 7-1 4 2 3 5 15 43 4 5 3-2 11-32 8-16 7-6 22-5 7 1 4 2 11 12 3 1 15-9 18-1 30 7 22 1 40 12 3 3 4 7 15 58 3 0 15-50 4-4 3-2 11 1 15-1 22 2 7 4 11 16 4 1 11-13 7-4 7 0 30 8 18 14 4 0 7-8 7-5 15-1 25 3 8 4 3 5 11 22 4 2 4-5 7-20 7-11 15-8 4 0 7 6 4 0 14-27 22-28 22-25 18-18 26-20 11-7 7-1 15 0 7 3 15 9 11 9 36 46 11 12 19 14 7 4 11 3 14 0 11-2 15-12 15-18 22-32 7-6 7-2 4-3 11-19 4-5 7-4 22-4 25 9 8 5 14 15 33 41 33 32 26 22 22 13 33 6 7 7 7 14 4 4 4-1 11-23 3-4 7-4 30 2 14 8 15-7 18 0 22-5 18-1 11-3 4 1 4 3 14 34 4 0 15-38 7-7 11-3 15-1 3 1 8 5 3 1 11-9 4-1 22 0 29-4 4 1 3 5 4 8 11 41 4 10 3 2 4-6 11-44 7-19 8-7 10-3 19 0 36-3 4 1 11 8 4 0 11-9 18-4 55-1 36 2 26-3 14 0 33-4 8 1 11 11 3 1 4-3 11-14 7-4 33-1 22 2 7 2 11 9 4 1 11-9 7-3 33 2 62-5 22-6 15 4 15 2 29-4 7 0 7 6 11 17 4 0 15-22 7-3 26 1 25-2 29 6 15 7 4 0 11-5 7-2 18-1 15 1 11-2 18 3 37-1 25 2 22 0 8 2 7 5 4 0 11-8 3-1 40 0 19-4 14 1 15-1 4 1 11 7 3 0 11-9 8-2 21 3 48 0" stroke="#c5ff32"/>
<path d="M438 1437l11 10 7 16 4 4 3-6 8-27 3-9 4-4 25-5 11 5 22 5 4 4 4 9 3 16 11 73 4 7 4-10 11-73 3-15 8-15 7-5 11 0 7 2 11 10 11 3 4 5 3 9 11 35 4 1 4-7 7-25 7-15 8-6 11-2 11-10 3-1 11 6 4 0 11-4 14 4 15-6 7-2 15 4 4 2 3 6 11 36 4 3 4-6 11-38 3-7 4-2 3 1 15 10 15 2 7-1 18-7 11 0 11-3 4 3 7 10 4 1 11-10 14 4 15-4 11-7 4 0 25 0 15 8 7 2 8-2 11-7 14 5 18-2 4 1 7 5 8 10 3 10 11 45 4 5 4-6 14-57 8-13 3-3 4-1 4 2 11 9 3 1 11-2 4 3 4 9 7 52 11 119 3 17 4-5 4-24 11-110 3-23 4-15 4-9 3-5 8-5 3 0 11 5 15-1 7 2 15 10 11 16 3-2 11-22 4-5 15-6 11-8 3-1 4 1 11 7 11 0 15 9 3 5 15 58 4 1 14-53 4-6 3-1 4 2 4 8 3 14 15 117 4 8 3-12 11-89 4-20 4-12 3-7 8-7 3-2 8 0 14 5 4 2 11 18 3-2 8-10 3-1 11 2 19-3 29 6 22 0 15-2 3 2 7 9 8 16 3 13 15 105 4 14 3-3 4-19 7-56 8-38 7-15 15-17 3 1 11 11 4 0 11-11 4 2 3 8 7 30 4 10 4-2 7-21 4-8 3-5 22-9 4 0 4 2 14 15 4 7 7 22 4 5 4-5 7-16 4-2 7 1 4-2 14-10 4 0 3 2 19 20 3 11 11 67 4 3 11-65 4-13 3-7 4-4 7-2 4 2 11 33 4 1 7-25 4-9 3-4 11-4 15-12 11-1 3-3 11-17 8-7 14-4 11-7 19-10 22-8 14 11 11-1 7 0 8 7 14 25 8 9 3 2 15 0 7 3 19 21 3 1 8 0 3 1 11 11 4 2 14-8 11 4 4 0 7-5 4-5 15-29 3-2 4 1 7 5 4-3 18-45 8-11 18-21 7-6 22-4 11 3 11 0 11 7 11 0 4 2 18 22 14 7 11 8 19 18 22 15 11 11 3 3 11 0 4 3 7 11 11 39 4 7 4-6 11-45 3-5 11 2 11 0 4 1 11 7 11 13 3-1 11-23 4-4 4-2 11 1 22-4 3 0 11 9 4 1 11-2 3 0 4 4 4 9 11 59 3 9 4-5 11-62 4-13 3-7 8-8 11-7 7-2 4 2 3 5 8 15 3-2 8-20 3-3 11 3 15-3 14 3 15-1 4 1 3 4 4 13 4 28 11 116 3-1 11-130 4-30 4-15 3-5 4-2 11 1 14 4 19-10 11 0 14 4 4 3 11 20 4-2 7-16 4-6 3-2 11 0 11-6 4 0 11 4 25-10 4 1 11 6 4 1 14-4 11 2 19-1 14 4 18 9 4 1 15-6 7-2 4 2 11 14 3 0 11-18 4-4 4-1 3 0 15 8 4 0 11-3 10-1 19-6 7 3 11 9 15-10 22 4 11-5 18-4 4 1 18 8 18 0 7-1 15-12 4 0 11 4 3-1 11-10 8-2 11 2 11 7 14 5 4 5 3 9 8 25 3 5 4-5 11-39 4-8 3-3 4-1 4 1 11 9 3 2 15-7 18-2 26 2 7 4 11 14 4 2 18-14 18-6 19-2 11 1 11-9 3-1 15 12 18 0 26 6 3-1 11-6 4 0 7 7 11 22 4 2 4-4 11-21 3-3 15 2 14-10 8-2 11-1 14 3 15-2 4 2 11 10 11 21 3 1 11-19 22-16 22 6 18 11 8 0 7-5" stroke="#e4ff13"/>
<path d="M438 1416l14 0 11 2 15-2 25-2 22 3 22 1 19 7 11-3 18 0 18-3 22 2 22 4 18-8 37-5 25 4 8 0 29-9 18 1 15 4 11 1 40-3 4 33 746 35 3-24 33 1 26-2 11 2 14 5 15-4 7 1 33 11 40 12 11-2 19-6 11 0 18 5 55 24 22-4 18-1 15-8 36-12 55-48 33-39 11-11 11-7 15-4 7 2 18 7 11 7 22 20 29 39 26 27 11 6 7 0 11-6 15-15 47-57 19-24 11-11 7-5 14-5 33-4 11 2 11 8 33 35 70 71 14 13 26 13 22 3 7-1 15-6 14-4 8-1 18 4 7-1 15-5 15 0 18-5 15-1 18-6 7 0 26 7 33-15 29 4 14-2 19 1 36-8 8 1 14 6 4 0 15-11 7-2 33 2 29-5 26 1 36-7 15-4 25-1 26-8 15 2 18-1 11 4 7 0 29-9 11-1 22 1 15-6 7-2 19 6 14 2 7-1 22-7 11-1 26 3 37 1 40 0 36 4 26-3 26-7 11-2 7 1 18 6 33 3 7 0 15-3 26-2 32 5 26-2 22 1 15 2 14-1 22 4 48 1 44-6 22-4 21-2 11 1 19 5 22-2 22 0 22-5 21 3 30-4 18 3" stroke="#d5ff22"/>
<path d="M438 1411l11-5 7-1 25 0 15 5 15-5 11 0 7 2 18 11 15 4 44-6 14 1 15-4 15 7 3 0 19-9 18 0 29 7 15 1 14-3 19 2 14-6 8 2 14 9 8 2 7-2 14-6 26-1 15-6 14-2 22 4 15 10 4 1 14-2 37 5 25-3 26-6 11-1 15 4 11-1 29 5 14 6 15 0 26-1 14 4 11 0 11 4 15 2 7-2 11-6 7-1 22 7 19-3 18 3 18 1 4-1 11-6 3-1 15 7 7 2 11-2 19 2 18-2 22 6 11-1 14-4 15-3 4 1 11 6 11-2 25 1 19 8 11-1 10 2 19-8 18 0 11 2 33 15 18-1 18 4 15-1 4 2 11 8 3 1 11-4 8 0 11-3 11 5 33 11 14 8 11-1 15 3 14-2 15 7 22 5 18-3 15 6 7 2 4-1 11-6 3-1 22 9 33-16 15-4 18-18 15-5 47-51 11-5 15-10 26-6 7 2 7 4 15 10 7 6 15 18 18 28 22 27 15 9 14 12 15 4 25-11 15-17 11-9 7-10 19-34 22-27 18-14 18-4 22 0 29 18 8 7 29 34 14 10 15 15 22 14 26 5 14-3 22 2 22-4 15-1 18-7 15 2 14-7 22-2 11 1 15-7 11-2 18 3 15 1 33-10 11-2 11-5 14-1 11-5 15 4 14 8 4 0 18-11 15-1 15 5 3 0 15-11 15-1 21-6 19 3 14 6 4 0 15-4 11 4 22 3 14-3 22 1 11 2 22-11 18 0 8 2 11 6 3 1 15-4 14 6 15-4 11-2 18-8 33 7 15-3 18 1 15 2 11-2 14-2 15 1 11-3 4 0 11 5 3 1 15-9 15-6 3 0 15 5 11-3 14-7 4 0 40 9 22 1 15-4 11 2 14 4 11-2 22 3 19-4 22 2 14-6 18 1 11 3 11-1 11 3 15-4 37 3 14-4 8 3 10 6 4 1 15-10 3-1 15 6 15-3 18 5 7-1 8-4 7-1 18 3 15-3 14 5 8-1 14-8 19-3 7 1 18 10 26 1 14 5 8-1 18-7 11 0 11 1" stroke="#f5f802"/>
<path d="M438 1403l14-2 15 3 11-3 14-1 15 2 15 0 22 9 18 10 7 1 15-9 4-1 10 4 4-1 11-4 15 4 18-2 15 6 3 0 15-7 15-1 18-5 18 4 26-4 14 2 11-2 22 16 8 4 7 1 11-2 14 6 19-6 18-9 11 1 15-2 14 5 8 1 7-3 14-12 4 1 11 13 4 2 3 1 15-7 15 2 14-3 48-5 25 6 22 11 8 2 7-3 22-11 26 1 18 8 14 17 4 1 4-1 11-13 11-2 11-4 11-2 11-4 3 0 11 7 15 2 11 6 18-5 33 9 11-2 7 1 15 6 26 6 7 0 11-2 11 1 11 6 14 13 4 1 4-2 7-9 7-4 15 1 15-4 18 6 7 1 22-4 18 6 11 0 11 3 19 2 22-8 21 7 19 18 7 3 26-5 22 4 14 8 8 1 18-5 7 0 7 3 11 11 4 2 11-4 15 0 14-7 33 11 29-5 8 2 14 10 8 1 18-7 7 1 11 5 8-2 14-16 40-25 11-1 15-8 11 2 7 0 15-6 15-8 3-1 15 5 18 16 4 2 14-1 4 2 22 31 22 16 15 19 11 5 14 3 26-4 7-4 11-11 15-10 25-40 8-8 18-9 14-15 33-11 22 0 11 3 8 4 18 18 14 10 22 10 22 20 8 2 22-1 14 8 4 1 15-2 14-3 11 0 18-9 11 4 22 1 15-6 11-2 15-7 11 0 7-2 7 0 18 7 15 0 4-1 14-10 11-2 22-7 15 0 7-1 15-10 3-1 19 2 22-5 7 1 18 18 4 1 4 0 18-14 18-7 15-2 7-2 22-11 7 1 19 6 14-7 8 0 11 4 7 1 14-3 22-7 8-1 18 3 22-5 7 0 15 7 18-1 15 2 14-4 30 4 22-9 14-1 15-8 7-2 15 5 14-5 15 5 15-3 7 1 11 2 11 6 7 1 44-3 18 2 8-2 14-11 8 0 44 3 10 8 11 4 19 0 14 4 15-3 22-11 33-1 14-5 15 5 11-1 15 5 7 0 7-3 11-8 8-3 7 1 15 9 43-7 19 4 18-3 11 4 11 0 15 3 18-7 3 0 15 8 4 0 18-10 18-2 19 6 7 1 15-8 14 6 4 0 14-4 8-1 7 2 11 7 4 1 7-1" stroke="#eaff0d"/>
<path d="M438 1401l18 8 11 9 4 1 10-6 30 4 3-1 11-11 4-2 7 1 11 6 22 25 4 2 4-2 11-15 3-2 15 2 22-6 11 0 3 1 4 3 11 19 4 3 3-1 11-10 11 1 4-2 11-11 4-1 14 6 4-1 11-5 11-7 7-2 11 5 11 2 11 6 4 0 11-3 3 2 8 9 3 1 15-18 7-2 11 3 15-1 11 3 14 0 19 5 22 8 3-2 11-13 4-1 3 1 15 12 22 7 4-1 11-12 3-2 15 7 11-1 4 1 11 10 7 2 15 0 14-6 11-3 7-1 8 4 11 9 3-1 11-14 4-1 11 4 15-6 11 0 14 8 7 2 4 3 11 30 4 7 3-1 11-26 4-6 7-4 15-1 18-8 4 0 11 5 25-1 19-1 14-6 8 1 22 16 29 8 18 10 4 1 11-8 11-3 7 1 22 9 4-2 11-14 3 0 11 7 11-2 15 0 4 2 10 15 4 1 4-2 7-11 7-7 11-5 15-2 29 11 26-6 7 1 18 12 8 11 11 22 3 4 4 1 4-3 3-6 8-15 3-5 4-1 11 9 4 1 14-7 4-1 11 4 11 0 3 2 15 19 18 7 8-3 22-18 3 0 4 3 15 24 7 9 4 1 3 0 4-3 11-13 22-6 3 1 11 4 11 1 8 5 3-1 11-24 4-6 4-3 3 0 4 3 15 15 3 2 4-2 15-18 10-7 11-3 11-6 8-7 11-16 3-3 4 0 11 6 11 1 15 4 14 0 4 2 14 21 15 13 11 15 7 8 22 16 11 5 11 11 15 9 7 2 15-2 3-1 19-18 14-17 4-2 15-1 7-4 18-28 22-21 4-2 14 0 15-9 7-2 22 5 15 0 26 20 22 24 10 14 4 2 18 0 33 12 19-4 14 0 8 3 14 12 4 0 4-2 10-12 4-3 33-7 4 0 11 7 3 0 15-10 11-2 11-5 11 0 11-2 11 1 14-1 15 10 4 0 14-10 4 0 11 3 4 0 18-14 15-4 14-7 11-8 7-3 19 1 11-4 3 0 4 1 7 10 11 26 4 4 4-3 11-25 7-8 14-5 11 1 4-1 15-12 7-4 7 1 19 7 14 0 4-2 15-15 3-2 18 10 19 1 18-10 4 0 11 6 3-1 11-11 8-3 14 0 11 4 15-5 11 7 14-1 11 6 22 19 4 1 4-3 14-24 8-4 3 0 11 8 4 1 4-1 14-9 15 3 11-4 3 2 11 11 4 2 15-2 22-8 7-2 15 1 14 7 7-2 19-9 18 0 22-14 7-2 4 2 11 10 4 2 14-2 22-10 7 1 11 5 15-4 11 6 4-1 11-8 3 1 8 5 11 1 14 7 11-1 18 6 15 0 7 2 8-2 11-8 7-3 11 5 15 10 3 2 15 0 11 6 3-1 4-4 7-11 8-7 18-3 4 1 11 13 3 2 4 0 22-5 15 5 14 10 15-3 14 4 11 0 30 7 3-1 11-6 4-1 4 2 11 12 3 0 11-6 11-14 4-3 3-1 15 5 15 0 11 5 7-1" stroke="#ffe200"/>
<path d="M438 1419l18 3 11 6 11-1 11 4 11-2 3 0 15 11 4 0 11-7 7-1 11 7 11 10 4 3 3 0 15-12 18-8 11-4 7-1 15 3 15-1 3 2 11 13 4 2 15-10 11 1 7-1 22-8 11-1 14 1 11-7 8-3 29 5 11 8 4 1 3-1 22-11 4 0 14 5 11 1 19 6 22-5 3 1 11 8 8 3 18-2 11-3 18 0 22 8 15-7 7-1 18 1 19 5 25-5 7 0 11 2 22 13 8-3 11-9 3-1 22 1 15-3 14 6 4 3 11 18 4 1 3-2 15-19 11-8 29-4 15 3 18 1 15 5 3-2 8-7 3-2 4 0 15 6 25 2 37 21 7-1 26-13 7-1 4 2 14 19 4 0 15-15 7-1 11 0 26 5 10 5 15-6 11 0 15 6 14 2 15 8 15 6 29 0 14-4 4 0 7 9 11 22 4 2 4-4 7-13 4-5 3-1 11 2 15-2 18-8 8 2 10 7 8 3 11 0 14-4 4 1 7 5 11 12 4 2 15-3 11 2 14-5 11 3 11-1 4 1 14 9 15-4 4 2 7 7 4 1 14-14 15 3 15-7 3-3 15-23 7-7 15-5 29-20 15-14 14-2 15 6 15-3 7 3 18 22 15 14 22 30 14 12 15 8 11 13 4 3 3 1 15-6 22 2 3-1 15-9 11-2 7-8 11-16 19-24 14-15 8-4 11 0 14-8 4-1 22 4 14 9 11 10 8 5 69 35 18 4 19-3 14 8 4 0 15-8 3 0 8 3 11 10 3 2 4 0 4-3 10-11 8-3 18 4 11-1 11 1 15-6 3 0 15 7 7 1 4 0 11-5 11-2 14-6 22 6 8 0 18-12 11-2 22-1 18-6 22-2 15-8 11-1 11-4 7 0 4 2 11 10 3 2 4 0 4-5 11-23 3-4 4-1 14 4 19-2 14 9 8 2 18-3 15 5 3-1 11-8 11-1 18-5 19-7 3 0 15 6 18 4 26-7 15-7 7 0 11 3 18-1 11-8 7-2 19 5 11 7 18-4 26-10 14-2 29 4 41 8 7-2 15-10 7-2 25 4 15 4 4 0 14-10 19-6 44 11 18 1 18 6 11-2 11-6 7-2 19 2 22 6 7-1 15-7 7 0 7 2 11 8 4 0 11-10 3-1 11 2 15-5 4 0 14 9 4 0 11-4 15 0 14-4 11-1 44 4 15-2 14 5 15-2 14 3 15 7 18 2 15 4 7-1 19-6 11 3 3 0 11-10 8-2 25 6 26-2 18 8" stroke="#ffe500"/>
<path d="M438 1428l14-2 11 5 15-2 33 3 18-7 7 0 11 4 11 11 4 2 4-1 3-4 8-9 7-7 11-2 7 2 22 10 18 2 15 10 7-2 11-7 8-4 25-5 7 1 26 6 22 3 11-1 15-3 18 3 18-10 26-1 14-6 19-2 18-6 7 2 11 6 19-1 29 10 18 2 18 1 22-3 26 1 44-7 7 1 11 6 15-8 7-1 11 2 18 8 19 1 7 7 11 19 3 4 4 1 4-1 14-17 8-4 7-1 11 3 7 1 41-14 40-2 14 4 19-1 14 5 11 7 19 17 3 2 18 0 11 3 8 8 7 10 4 3 3-2 11-18 8-9 3-2 19 2 22-4 21 5 22 6 8 0 14-3 33 7 29-1 8 3 7 6 15 22 3 2 4-2 11-12 4-2 7-1 26 3 22 9 18 9 14 0 11 1 33 8 15 0 15-7 22 4 18 0 11 3 14 8 4 0 4-1 14-10 11-5 8-1 11 1 3-2 22-23 22-34 15-17 14-9 15-6 7-1 26 4 22 15 7 9 40 60 19 19 11 5 25 1 11-3 22-15 62-61 15-19 7-7 11-6 15-2 11 2 14 7 11 9 30 30 33 25 18 13 14 4 41 5 25 7 15 9 4 1 14-17 7-5 8-2 11-3 11 0 18 6 18 3 8 0 40-20 18-4 7 0 11 8 4 1 15-15 11-4 14-1 22 2 18-8 52-3 7 2 15 16 3 2 4-2 15-18 7-4 11-5 58-9 15 0 15-8 58-12 11 2 7 4 15 12 7 3 8 0 11-1 22-5 14 3 18 0 11-3 11-5 15-1 15-6 7 0 11 4 7 0 37-9 44 3 14-2 22 0 19 7 7 0 22-4 18-2 33 3 18-5 19-2 7 2 14 10 4-1 4-2 11-10 7-4 37-2 11 2 47 12 15 0 18 3 15 0 18-7 15-3 40-5 66 18 11-5 14-4 22-12 7-2 37 9 15 3 14 5 8-1 29-10 14-3 15 1 22 4" stroke="#f5f802"/>
<path d="M438 1402l11 4 14 21 4 0 11-10 11 0 11-3 14 2 11-1 8 1 7 5 7 8 15 35 4 3 3-3 11-26 8-12 3-2 18-2 30 1 3 3 4 6 7 16 4 5 4 0 3-4 11-21 8-6 22-2 14-4 22 2 18-7 8 1 11 5 11 0 3 2 4 4 11 18 4-1 11-20 3-4 7-2 11-2 8 1 14 7 11 3 33 0 4 1 11 10 4 0 11-9 18-6 7-1 15 3 11 1 14-3 11 1 15-4 18 6 19 1 7-2 11-7 7-1 7 2 15 21 4 2 3-2 11-13 15-7 22-1 15 1 3 2 4 4 3 8 11 48 4 7 4-4 11-44 3-9 8-7 7-2 22-2 11 0 7 2 11 7 18 5 4-1 11-10 7-2 15 0 15-2 14 1 15 9 11 3 4 3 11 20 3 0 15-23 3-1 4 0 4 3 3 5 15 44 4 7 3 1 4-5 11-34 7-14 4-2 4-1 14 3 15-1 11 6 3 1 11-11 4-2 4 1 14 4 19 11 14 0 26 9 22 2 11 4 7 11 15 46 3 5 4-2 4-10 7-26 7-17 4-3 15-2 14-7 8 2 14 8 15 16 3 0 4-2 15-12 7-1 15 3 14 7 19 19 3-1 11-8 8-1 7 1 14 6 19 3 3 2 4 6 11 24 4-1 11-29 3-6 4-3 15-9 3-2 8 0 3-3 11-16 15-7 11-11 18-15 15-17 18-8 7-2 15-8 7-3 8-1 7 3 22 14 18 14 26 29 18 24 15 16 29 13 7 1 11-3 11-8 33-40 11-10 11-3 4-3 11-18 11-10 21-11 26 3 11-2 7 4 15 17 29 25 15 15 14 7 15 19 22 11 22 7 11 1 7 3 4 4 11 25 4 4 3-3 11-28 4-6 7-7 11-5 22-1 11 6 4-1 11-10 14-8 8-2 14 1 11-2 7 0 11 3 8 5 7 10 7 15 4 4 4-3 14-37 8-8 7-2 11 0 7 3 11 6 4-2 7-8 4-2 14 3 15-6 15 5 14 2 4 3 4 6 3 12 8 32 3 10 4 0 15-57 3-7 4-3 25-6 11-1 15-5 11 0 11-2 15 5 14-11 8-2 54 2 15-3 15 5 7 1 26-7 7 0 14 4 19-2 18-3 7 2 11 12 4 1 4-2 11-14 7-4 7-2 15 0 29-6 7 1 15 7 4-1 11-8 3-1 15 1 18 5 19 1 14-4 26-3 22 2 18 5 22-5 26 3 7 3 7 9 7 12 4 4 4-2 11-18 3-4 8-1 14 3 4-1 15-8 14-4 19 2 18 4 11 4 3 0 11-6 8-2 18 6 22 3 29-4 15-3 14 2 15-6 15 1 11-1 7 2 11 11 4 2 3-1 11-10 8-2 14 3 18-3 11 0 15 3 26-4 3 0 11 5 4 0 15-7 18 3 14-4 22-3 15-5" stroke="#ebff0b"/>
<path d="M438 1412l11 1 18 7 14-3 15 2 11-2 22-9 11-1 7 4 11 16 4 4 4 1 11-11 7-3 18 2 18-3 11 1 11 3 11 7 8 2 14-4 30-2 18 0 14-2 22-1 8 2 22 11 11 7 7 3 18-12 22-3 33-10 18-3 8 1 18 10 18-3 26 1 25 3 19-3 11 3 22 1 18 6 22 1 11 4 18 13 4 0 14-7 33-3 19-5 7 3 11 17 3 4 4 1 15-21 3-2 8-2 29 5 33-6 4 0 14 8 11 1 26 8 7 1 40-8 19 5 3-1 15-10 7-1 11 5 15 15 3 0 11-12 8-3 25 4 15-2 11 1 14-4 19 6 14 1 8-1 18-5 7-1 11 2 40 14 8 8 11 18 3 3 4 0 15-10 7-2 33 6 15 0 7 2 11 8 14 0 30 7 18-4 15 1 14-4 15 0 18-5 18 3 11 6 4 0 4-1 18-16 26-13 18-26 18-18 18-9 26-15 11-3 7 2 26 13 15 10 32 47 15 17 26 14 33 9 7 1 14-4 37-22 18-20 22-17 11-14 8-4 7-1 11 2 29 12 22 14 18 15 8 4 14 4 15 1 11 6 11 3 18 11 15 5 18 0 18 5 15-1 11 1 4-2 11-10 7-2 29 0 7 2 11 9 4 1 18-2 8-2 18-9 33-13 11-1 14 7 4 0 4-1 14-13 11-5 8 0 22 5 14-7 18 3 19-6 11-1 22 4 11 14 3 2 4-3 11-23 7-8 8 0 32 3 52-3 84-23 14 0 26 3 7-1 22-7 18-4 11 2 15 6 18 4 22-4 30-1 29 12 18 5 7-1 11-3 15-6 15-10 18-6 7 0 33 6 15-2 14 2 11 0 52 15 18 11 3 1 4-2 15-11 18-6 26-2 18 2 18-3 11 1 15 4 14-4 33-5 22-7 26 2 22 5 14-4 26-2 7 2 19 8 22 1 29 4 11-1 18-7 15-2 14 2 15 7 15 0 10-1 33-10 15-6 11 0" stroke="#ffcf00"/>
<path d="M438 1409l14 4 11 7 15 3 7-1 26-13 7-1 22 1 11 3 11 6 4 0 14-4 66 0 15 1 18-2 22 3 18 6 29 2 22-3 22-7 15 3 18-6 18-1 30 10 14 3 15 5 22 2 11-1 25-9 15 3 7 0 22-5 11-5 8-1 22 6 29 10 7 0 11-3 7-1 19 10 25-9 15 1 26-2 3 0 7 6 11 14 4 1 4-1 11-12 7-4 15 1 14-2 11 1 26-3 11 2 14-3 15 3 18 7 22-2 33 7 8-1 10-5 8 1 14 5 15 16 4 2 3 0 11-7 8-1 22 6 14 0 18 4 15-2 26 5 44-1 22 4 18-1 7 4 15 13 3 0 15-8 7-1 11 0 15 5 18 0 11 4 11 8 4 1 44-1 14 1 15 4 11 1 11 3 18 2 15 6 14 5 15 7 4-1 14-14 19-8 14 0 19-7 47-24 18-15 22-3 30 8 7 3 7 6 22 24 26 19 51 31 7 3 7 1 11-3 11-6 22-22 19-13 14-13 19-23 18-16 29-17 7-2 26 4 22 20 22 16 36 18 19 13 22 7 22 1 18 10 4 0 7-4 14-13 26-14 7-1 15 1 33-5 11-5 15-9 14-3 7 0 15 3 11 1 29-10 33 4 11-3 15-2 7 0 11 3 26-3 7 2 4 2 11 12 3 2 4-2 11-13 4-3 47-12 18-1 15-4 11 1 11-1 22 4 11 0 33-7 18-2 37-11 18 4 22 0 36-8 19 6 33-5 14 3 15 1 14 4 8 0 11-1 25-9 11-1 19 1 14 2 22 7 7 1 41-5 18 1 15-7 7-2 18 0 22 9 33-10 29-1 11 3 8 0 14-1 37-6 22 8 7 0 15-4 11 3 14 1 11 3 29-4 19-7 18 2 11-1 15 4 14-2 15 2 14 6 11 2 15 4 22-7 15-1 29-6 11 1 18 7 15-3 29-1" stroke="#ffd200"/>
<path d="M438 1421l14 1 11 3 4 0 11-7 7-2 22 6 18-3 15 1 7 3 11 13 8 5 7-2 15-12 10-5 19-3 25 1 4 2 11 7 4 1 18-12 11-3 11 3 14-2 33 6 19-6 3 1 11 6 15 1 15 4 18-7 14 4 15-6 22-3 7 2 15 8 7 3 15 2 15 0 18 3 11-1 11 1 14-2 19 3 18-3 18 2 29-5 15 4 15-5 3 1 11 6 4-1 11-8 7-1 26 5 15-2 3 1 7 6 15 22 4 2 3-3 15-25 7-4 8-1 14 3 11 0 26 7 51-2 11-2 11 0 18-2 19 5 14 16 4 0 11-11 3-1 8 2 7 6 15 22 3 3 4-1 4-4 11-16 3-3 8-3 11 1 11 6 7 2 18-1 15-4 7 2 15 5 18-6 7 2 11 9 19 1 11 2 18 9 11 2 3 3 11 17 4 2 4-3 7-11 4-3 3-1 19 5 18 0 11 6 14 3 11 6 30-6 14 1 15-1 7 3 11 7 8 2 25 2 15 3 14 0 4 1 11 10 4 1 3-1 11-7 15-1 18-6 15-14 33-24 40-25 40-12 8 2 14 9 33 28 15 21 29 36 33 9 11-2 29-16 7-8 22-28 8-8 11-7 14-20 22-21 7-4 4-1 18 0 22 7 19 13 14 15 22 16 22 9 18 18 30 14 14-2 19 2 11 8 3 1 15-11 7-4 44-6 11-4 11-1 11-6 15 2 14-5 15-2 11 3 18 10 4 0 14-13 8-5 22-6 29-6 11 0 22 4 29-7 7 4 11 14 4 1 4-3 14-25 8-6 7-4 18-2 15 3 14-2 11 1 4 0 18-8 15-3 22-1 18 8 15 0 11 2 14-3 15 2 15-5 14-3 22 7 15-4 18-1 7 2 11 5 4 0 15-9 7-2 15 3 18 0 14 1 19-3 14 4 15-4 7-1 22 4 15-6 7-1 22 1 22-3 18 2 22-6 19 1 14-1 29 0 15-8 4 0 22 2 18-2 11 3 18 6 11-2 22 0 18 4 22-5 15 0 22-7 29 1 22 7 15 1 22-9 7-2 15 7 11-2 14 2 18 0 11-3 22-1 19 3 14-2 11 6 8 1 14-1 11-3 18 1 22-3 15 4" stroke="#ffe100"/>
<path d="M438 1413l11 0 14 9 4-1 11-6 7-2 18 5 8 0 14-4 19-1 7 2 11 13 4 1 32-16 19-5 7 0 15 4 14 9 4 1 15-5 18-2 15-8 18 6 18 1 15-1 14 2 22-4 4 1 11 8 4 0 11-4 3 0 33 6 51-1 15 3 18-4 11 0 33 8 40-4 26 4 15-1 7 1 14 7 11 2 15 9 4 0 11-5 3 0 15 2 22-6 7-1 11 6 18 17 4 2 7-5 15-15 11-5 26-1 18 6 15-2 10 1 22-4 19-8 18 5 29-2 8 3 11 9 3 0 15-5 7 0 11 5 11 13 4 2 3-1 15-18 4-2 3 1 11 4 22 2 18 6 15-3 18 1 15-1 18 6 15-3 4 1 11 5 11 2 14-4 7 3 15 21 4 4 3 1 4-1 11-14 7-3 19 5 22 1 25 8 18-2 15 6 15 3 14-1 15 1 11-1 18-1 18 5 11-2 8 0 7 5 11 11 4 0 18-13 26-5 11-6 11-2 3-2 22-26 18-7 22-20 19-11 7-2 33-4 14 3 22 18 59 74 7 8 8 2 25-3 15-11 11-5 22-25 33-47 21-22 4-3 4-1 11 6 3 0 22-7 8 0 3 2 8 7 11 14 33 27 18 22 7 5 18 7 19 12 18 1 11 5 11 0 11 10 4 1 3-1 11-10 4-1 14 4 15-2 15-8 18-7 22-4 15 1 14-4 26 2 14 10 4 0 4-1 11-11 11-7 3-1 11 1 22 1 15-10 7-3 15-2 22-4 7 1 7 3 8 6 11 13 3 3 4-1 15-19 3-2 22-10 26-5 7 1 11 3 11 0 11 6 4 1 14-7 15 0 25-8 44-3 11 2 11-2 11 2 19-6 7-1 18 2 15-1 22 8 7 1 26-10 3 1 15 6 14-4 22-4 15-1 11-2 22 2 11 6 7 2 26-6 22-1 18-5 15 5 14-2 15 3 18-2 19 7 25 4 11-4 33-2 29-7 19-1 14-3 15 3 14-2 19-1 11 1 22-2 54 1 22-6 41 9 18-8 25 5 22-5 15 3 15-1 22 5 7-2 7-3 8-2 14 3 11 0 15 3 18-5 11-1" stroke="#ffd200"/>
<path d="M438 1402l7 4 11 1 11 8 7 2 7-2 15-6 7 0 15 3 11-3 15 1 7 5 11 12 4 1 7-3 11-13 7-5 26-4 22 14 18 8 29 6 4-1 11-7 4 0 36 2 18-9 8-2 11 3 14-1 22 15 18-2 15-7 11 1 15-2 14 5 11 2 19-9 14 1 15-11 18-7 4 0 11 6 7 2 18-3 19 2 18-6 22 5 14 7 19 3 22 13 7-3 15-11 11-1 11 0 14-3 22 5 15 19 3-1 11-19 4-4 4-1 14 3 15-3 15-6 3 0 15 5 18 14 11 5 7-1 22-8 22 0 15 8 11 0 4 2 14 18 4 2 3-2 15-14 7-4 4 0 4 3 11 14 3 4 4 2 4-1 14-16 8-1 18 6 11-3 4 1 10 6 4 0 11-3 18-1 22 3 26 1 22 5 14-6 4 0 7 3 8 5 14 26 4 5 4 2 3-1 11-11 8-4 22-1 14 4 11 1 15 7 3-1 15-10 22-1 11-3 7 2 11 6 15 11 7 1 15-4 14-1 19 6 14-5 11 4 30-14 14 0 4-3 11-18 18-15 18-26 15-24 18-16 30-36 7-4 18-5 4 2 7 8 33 45 11 5 7 5 19 23 22 22 11 3 18 12 7 1 11-8 11-15 18-33 8-9 22-12 32-22 8-3 18-4 7 3 4 3 15 18 14 11 11 11 19 12 14 23 7 8 8 5 14 7 30 28 18 10 18-1 11-2 4 0 11 6 7-2 18-11 26-7 4 0 11 7 11 2 7-2 15-6 22-4 18 0 7 2 15 9 7-1 15-5 18-11 15-11 7-1 11 3 14-9 8-2 18 5 11-2 15-6 7 1 7 5 15 22 4 1 11-18 3-3 4 0 18 12 7 1 15-9 26 1 18-5 11 4 4-1 11-8 11-2 10-6 4 0 15 5 33-1 14 5 4 0 15-7 11-2 18-10 18 4 29-2 19 7 3-1 15-10 7-3 4 0 15 7 18-8 33 3 18-5 18 5 11 1 8-2 14-7 4 1 11 10 3 1 30-11 7 1 15 7 3 0 15-4 11 5 4 1 18-2 11-3 11 5 14 0 8-3 11-11 3-1 4-1 15 6 14-6 15 1 15-2 18 4 14 9 30 2 36-7 15 3 11-1 11 3 3 0 15-14 7-1 19 2 11 5 11 0 3 1 15 11 4-1 11-6 7-3 33 1 18-5 15 4 14-3 15 2 11-6 4 0 21 15 8 2 11-1 7 0 15 8 7 1" stroke="#ffd000"/>
<path d="M438 1418l11-3 3 1 11 8 15-6 11 0 11-3 14 1 19-3 7 0 7 5 11 15 4 4 4 0 3-3 4-6 11-20 4-3 3-1 22 1 11 5 15 4 18 9 4 1 14-7 19-5 21 0 19-6 14 6 15-1 11 5 4 1 18-5 15 3 18-10 14 4 30 2 22 5 14-1 22 6 26-4 18 1 40 1 19 3 14-2 15 1 18-1 11 3 11-1 11 9 4 1 3-3 8-9 3-3 4 0 15 3 29-1 7 2 7 10 11 24 4 4 4-2 14-25 8-6 7-1 11 1 15 0 14 4 15-2 14 5 15-9 4 0 22 1 14-1 19 7 14-2 4 1 15 15 3 0 15-17 11-2 7 4 15 26 3 0 15-23 7-3 8 2 14 8 19 1 14 7 15 2 14-4 22 0 15 6 4 1 14-3 29 8 8 4 7 6 15 23 3 3 4-1 11-16 7-6 26 0 15 4 14 0 15 12 3 0 8-3 7-2 22 3 26 14 11 8 3 0 26 1 18-4 7 1 11 3 11 11 4 1 4-2 11-17 22-10 11-1 3-3 11-17 18-13 33-14 8-2 18 0 11-6 7-3 19 6 14 13 15 9 14 15 22 28 26 27 7 3 15 0 22-3 14 0 4-2 26-22 18-22 22-17 18-21 11-7 7-3 19 0 33 5 7 5 15 15 25 17 22 7 33 15 15 0 25 5 11-1 4 2 11 14 4 2 3-2 15-18 18-14 4-1 18 0 11 3 26-8 18 0 15-8 7-2 3 0 19 9 18 13 4 0 3-2 15-20 7-4 19 1 14 6 4 0 14-2 15-8 40-7 4 1 4 3 14 32 4 0 4-7 7-21 4-7 3-4 22-3 18-5 15 1 22-1 18 4 37-13 7 0 11 2 15-3 18 0 18-8 22 2 19-6 18 3 33 1 14 2 15-2 29-1 18-4 22-10 15 5 33-6 7 1 8 3 7 2 40-2 26 2 18 7 22-6 7 2 15 6 7 1 18-5 15 8 40-14 4 0 15 4 22-6 7-1 18 6 15 0 14-6 37 8 15-5 14 5 4 0 11-7 7-3 18 2 37-3 15 1 11 5 14-4 22 1 18-2 19-5 14 1 11-2 4 0 18 9 15-3 11 1 14-3 26 3 22 9" stroke="#ffd800"/>
<path d="M438 1413l7-1 26 4 10-2 15-8 7-1 19 6 22 0 7 5 11 10 7 2 48-13 33-1 14 4 4 0 18-3 26-8 11-1 18 5 15 1 14 6 11 2 33-1 11-7 7-2 30 10 44 1 7 1 15 6 3 0 15-3 14 2 4 0 18-12 8-2 18 4 15 6 25-3 15 5 14 0 15 5 15-1 11 2 3-1 15-15 18-4 19 4 14 9 7 7 15 22 4 1 3-2 15-20 11-7 15-3 7 1 18 9 19-1 14 9 11 0 15 2 33-1 18-8 7 0 8 4 14 13 11 3 7-1 11-7 8-1 14 8 4 0 15-16 7-2 37 14 7 1 11-4 3 0 11 6 19 1 14 8 26 0 18 4 15-6 7 0 11 6 18 17 4 0 11-10 7-3 19 0 22 7 21 4 8 0 14-5 26 6 22 18 7 4 8 0 11-2 18-8 14 1 11-4 15-1 15-4 18-17 11-5 11-7 7-2 4-2 11-15 14-14 15-22 15-12 25-31 8-3 14 3 8 2 36 31 15 20 33 54 14 19 4 3 7 2 19-1 21-13 8-6 33-45 22-33 29-27 7-3 18 4 26 18 29 35 19 27 25 30 8 6 21 6 15 8 15-2 25 4 15 10 15 7 11 8 3-1 11-9 15-5 29-13 15-1 18-8 18 0 19-4 18-7 7-1 7 2 11 7 8 1 7-3 15-12 22-10 14 5 4 0 11-6 18 4 11-3 15 1 18-7 7 1 11 3 4-1 4-2 11-14 3-2 22 2 15 5 14-6 15 2 18-3 11 4 4-1 22-6 22-14 11-3 22 7 18 0 26 14 7 2 7-3 11-7 11-3 18-15 8-4 3 0 15 4 11 1 26 4 18-2 22 5 44 4 7-1 18-9 30 3 25-3 15 2 14-3 22 0 8 1 11 9 7 3 15-4 14-2 29 3 19-11 22-5 14 1 15 10 25 8 44 9 8-1 18-10 33 2 18-2 18-11 22-5 15 4 15 2 14 7 22 4 15-1 22-6 3 0 11 5 4 0 11-4 22-3 15 1 29-5 33 4 18-6" stroke="#ffd000"/>
<path d="M438 1404l11 6 18 5 14-6 22 3 15-4 29 1 8 3 11 10 7 3 4-1 14-9 37-5 18 4 18 11 19-2 18 3 36-5 8 2 25 11 4-1 11-7 7-2 8 1 11 5 3 0 8-4 10-9 8-3 25 3 11-3 15 2 44-7 7 1 7 6 8 2 25-5 19-6 3 0 11 5 8 1 14-5 19-4 29 3 36 11 22-2 15-4 11 4 4 0 11-5 3 0 7 4 15 14 4 0 3-2 11-13 8-5 11-3 11-1 29 7 15 6 14 2 22-1 48 8 18-1 7 2 11 8 4 1 25-5 8 3 11 13 3 2 4-1 11-9 7-2 26 6 15-1 14 5 33-6 18 5 15 7 18-2 37 13 11 2 11 9 7 3 22-8 15 2 14-2 15 3 11-1 14 8 4 1 15-4 22 9 7-2 11-4 7 0 19 9 7 3 11 1 22 5 18-1 15 3 7-3 18-19 15-6 7-5 19-19 18-12 18-7 15-4 36-1 11 3 8 4 36 34 7 9 22 35 15 16 11 7 29 8 11-3 18-12 15-13 18-14 19-23 22-11 22-15 7-2 11 0 18 5 37 19 14 13 15 1 15 5 36 8 26 12 11 0 25-7 8 1 11 6 3 1 18-14 26-2 15-4 11-1 11-2 11 1 7-1 22-11 22 0 14-3 8 1 11 3 7 0 33-20 7 0 15 4 14-2 15-1 22-2 11-4 15-8 3 1 15 11 4 0 11-7 11-10 7-4 36-3 22 1 15 3 15-4 14-2 15-7 14 0 11-2 8 0 11 5 14-2 8 1 33 10 18-2 36-18 15-1 11 1 15-1 11 2 14 0 15 3 29-2 15 5 36-1 15-2 15 0 14-3 15 6 7 1 15-4 25-3 26-5 36 0 8 2 11 7 18-5 11 0 18 3 11-2 15-6 18 3 26-4 18 5 22-3 26 8 29 2 7-2 11-7 11-2 15 3 14-1 11 3 15-1 11 4 15-1 14 3 15-3 14 2 22 0 26-4 22 4 14-1 26 7 11-1 15 2 7-1" stroke="#ffbd00"/>
<path d="M438 1408l14 4 15 8 33 3 7-1 18-5 22-9 19 3 22-5 14 6 7 1 41-7 33 1 14 4 18-3 33 0 19 6 22 0 18 4 15-4 14-5 26-2 14-6 8-1 18 2 7 2 11 4 11 7 8 2 10 0 19-5 25 4 11-4 30-3 22 6 21 4 8-1 18-8 7-2 15 4 26 3 18-2 7 0 18 6 15 8 4-1 3-3 11-11 4-2 7-1 8 3 11 7 18 7 7 1 11 0 11 2 33-3 66-3 7 3 15 10 22 3 25 6 4 0 15-7 36 8 11-4 7-1 22 1 22 3 30-1 22 0 29 13 18 1 15 6 22-1 18 7 15-3 11-1 21 8 19-2 22 8 18 2 11 7 7 3 11-2 15 1 11-1 25-7 19 2 18-12 33-10 25-27 19-11 14-11 11-5 26-4 26 9 7 6 22 23 29 44 22 21 7 5 4 0 15-2 18 9 7-1 7-5 41-39 18-13 33-38 7-3 22-4 11 1 15 6 11 2 14 7 55 54 11 8 11 4 22-1 22 2 11-1 55-16 18-1 22-4 15 3 7 0 15-7 14-13 8-3 11 0 14 9 18 0 15 4 11 1 40-12 15-2 14 2 8-1 29-13 18-4 8 0 18 4 7-2 11-7 11-2 18 4 26 0 22-6 15-8 40-8 25 1 37 10 22-6 15-2 40 5 18-3 15-6 14 0 11-4 22 5 26 0 22 4 18-3 22 0 15 2 43-7 22-11 8-2 25 4 19 11 18 6 11-1 18-6 15 3 18-4 15 1 29-3 7 1 15 4 7 1 15-4 18-7 15 4 58 8 11-1 15-5 11-2 14 1 15-1 37 12 14 1 15 2 11-1 22-11 11-2 14-1 15 1 33-4 18 3 18-2 15 1 15-3 7 0" stroke="#ffaf00"/>
<path d="M438 1418l14 2 4 2 7 10 4 0 11-16 7-3 11-1 29 5 4 0 11-8 4 2 3 6 11 36 4 9 4 5 3 0 4-6 7-20 8-13 3-2 22-7 11 2 4 0 11-13 3-1 4 4 7 13 4 5 4 1 14-10 15 0 11-5 7 1 7 4 8 2 14-6 22-3 4 1 11 8 4 1 11-5 7-1 4 2 7 10 4 2 3-3 11-14 11-7 4-1 3 2 15 10 4 1 11-4 3 0 15 13 26 4 3-1 11-8 8-2 10 4 15-1 11 4 4-1 11-10 11 2 11-1 11 7 3 0 15-1 15-7 3-1 18 12 4-1 11-5 7 2 8 8 7 15 4 5 3-1 15-28 7-5 11-2 19-11 3 0 4 3 7 9 4 6 7 28 7 39 4 14 4 2 3-8 11-51 4-12 4-6 3-4 4-2 29 5 15-6 4 0 21 12 4 0 18-3 11-9 4-2 4 1 14 8 26 4 4 1 11 13 11 20 3 3 4-3 11-22 3-4 4 0 7 5 8 11 11 44 3 9 4-2 11-40 7-18 4-4 4 0 7 2 4 0 11-8 3 0 4 2 14 15 4 0 11-9 4-1 7 2 11 9 4 1 11-4 3 0 11 8 4 1 11-4 11-2 18 1 11-3 4 2 7 11 4 11 14 73 4 4 4-7 14-64 8-13 7-5 7 2 15 11 15 3 7 10 7 16 4 6 3 0 11-10 11-1 15-9 11-1 11 6 15 21 3-1 11-13 15-2 11-8 3 0 22 9 4 4 11 24 4 2 3-3 11-20 19-22 3-2 8 3 3-1 11-28 8-8 14-5 15-12 22-11 33-5 7 1 22 8 7 8 11 18 4 4 22 14 14 21 22 41 8 8 3 1 8-3 11-10 14-1 15-10 11-6 25-21 19-13 7-1 11 3 4-2 11-19 3-3 15-9 7-1 4 1 14 9 8-1 14-5 4 1 4 1 18 17 4 2 11 3 3 3 11 15 4 3 4-1 10-6 8-3 7 3 15 9 25 4 11 4 8-1 11-5 7 1 4 3 11 28 3 4 4-5 7-17 4-5 14-12 4-2 7 2 4-1 11-13 4 0 11 11 3 0 22-13 4 0 15 3 32-9 8 4 3 4 11 22 4 5 4 1 14-25 11-12 11-8 11-1 11 6 4 1 7-5 4-1 7 2 4 0 11-9 3-1 26 16 4-1 11-9 3 4 11 45 4 6 4-7 11-46 3-7 4-3 29-8 22 2 26-5 3 0 11 8 4-1 4-4 14-22 4-3 4 0 14 10 4 0 11-7 11-2 14-5 15 3 15 1 11-2 3 3 11 12 4 0 22-11 11-4 7 1 11 6 15-2 7 2 4-1 18-18 7-2 15 2 14 9 8 2 11-8 3-2 4 2 4 4 11 15 3 2 4-3 4-5 11-18 3-1 15 5 29-6 4 1 11 6 7 1 7-1 11-6 11-1 8 3 14 16 4-1 11-12 4-1 11 9 3 1 15-6 4 1 7 6 11 13 3 1 4-1 4-4 14-16 4-1 11 1 29-4 15 5 11-1 18 1 4 1 11 11 3 0 11-12 8-3 18 4 15 0 11 3 11-3 11 0 14-6 15 5 11 0 40 7 22-2 11 3 4-1 10-9 11-3 8 1 11 4 18 2 33-5 11 6 4 1 18-12 14-4 15-7 7 1 8 4 11 0 7 3" stroke="#ffae00"/>
<path d="M438 1412l29 11 18-3 33 6 22-7 26 5 22-10 29-3 18 3 22 9 7 0 41-12 14-1 11 2 29 11 37 10 7 1 8-1 18-11 22-4 22 1 36-2 22 3 18-3 11 0 41 9 29-7 15-1 11 2 7-1 25-12 19-2 18 5 40-1 22 3 7 4 11 9 8 4 18-7 7 0 15 1 18 5 19 1 18 6 3 195 4-192 7 1 15 0 22-7 29-2 15-5 36 4 15 7 15 11 7 2 37 2 25-8 26-2 7 3 22 12 7 1 8-2 14-8 19-2 11 1 10 2 11 6 8 7 14 20 8 3 25-9 8-1 11 1 14 4 18-1 41 9 29-3 22 7 18 0 15 3 40 16 7-2 15-10 15-5 18-8 11-9 40-24 55-41 7-3 19-1 25 5 11 7 29 33 26 36 15 13 11 6 7 3 7 0 11-2 18-7 11-10 73-103 11-8 15-3 11 1 11 4 48 32 25 21 48 51 7 4 15 3 29 6 7-1 15-12 7-4 11 0 18 7 11-1 8-2 22-12 33-8 21-2 26 4 7-1 15-6 29-3 15 4 25 0 8 0 14-4 15-1 26 7 7 0 7-4 11-10 8-5 21-6 52-2 18 1 15-2 25 2 11-2 26-11 7-1 22 3 40-8 29 5 8 1 14-3 15 2 37-7 18 2 18-6 7-1 15 0 18 6 37-6 40 11 7 0 15-4 7 0 19 5 22 4 22-3 18 5 22 1 7-1 11-5 7 0 41 5 36 3 15 3 18-8 73 2 33-7 26 3 22-2 11 5 7 2 18-7 48-14 18-3 11 2 26 13 21 7 33 5 8-1 18-7" stroke="#ffb200"/>
<path d="M438 1414l11-3 22 2 7-3 14-9 8-1 14 1 19 3 33 13 25-7 11-5 7-1 11 3 11 1 19 13 11 2 7-3 11-6 4 0 11 4 7-1 7-3 15-10 11-1 14 2 15 5 15 0 29 13 18-3 37 3 7-1 11-8 7-1 11 2 11 0 15 8 15 1 14 4 7-2 15-8 7-3 15-2 11-5 15-2 29-9 40 9 22 0 22 4 18-3 15 2 15-2 25 12 33-9 4 1 14 9 19 4 11 4 25-4 22 9 4 0 11-6 14 2 15-3 18 6 15 0 22-9 11 3 14 9 8 3 22-9 7 1 22 8 7 1 15-3 18 3 18-9 15 5 15 0 36 9 15 10 14 7 19 14 7-1 18-13 19-1 33-10 7 2 14 11 8 3 14 3 11 4 15-3 4 1 14 7 30 2 14 4 26 9 22-8 14-7 11-7 15-2 55-13 18-12 22-25 15-8 18-14 7-2 8 5 10 11 15 10 15 7 7 6 11 13 37 56 7 7 15 7 3 0 11-4 18-1 11-2 8-5 25-26 4-3 11-4 4-5 11-25 11-19 7-9 14-12 33-8 15 2 11-4 4 0 3 2 19 21 11 16 3 3 11 2 4 3 18 22 26 12 3 3 15 18 7 3 15-3 11 1 15-7 7 0 7-5 11-12 7-4 8 1 11 6 14-2 19 5 14-4 4 0 15 4 14-5 15 1 14-3 15-10 18-8 4 1 4 2 11 11 7 1 11-5 14-15 15-6 7 0 11 2 33-2 15 10 7-3 19-16 3-2 15 2 18-8 11 0 18 12 11 3 11-3 48-22 11 0 14-4 15 5 22 0 22-7 4 0 11 6 3 1 15-9 7-3 7 1 15 11 7 3 15-6 18-2 15 4 7 0 18-7 11 0 11-2 15 4 15 1 14-5 11-5 4 0 15 11 11 3 14 8 7 2 22-10 26-3 22 1 18 7 22-5 18 5 4 0 15-6 22-2 11 3 18-1 18 4 11 1 18 8 4 0 11-5 4 0 14 8 4-1 4-2 11-11 3-2 19 4 22-1 18-5 7 1 15 6 22-7 18 2 29-4 18 5 19-4 14 3 15 7 7 1 8-2 11-8 11-4 14-9 15 0 22-3 14 0 26-2" stroke="#ff9600"/>
<path d="M438 1422l7-1 7 0 15 10 7 1 18-4 19-3 14-4 8 1 14 6 19 18 3 0 4-4 11-14 7-5 33-8 7 1 11 4 19 16 3 1 15-6 18 0 18-5 48 7 26-2 22-7 11-6 7-2 36 2 22 5 52-3 58 6 29-3 19-7 22 0 36 6 15 8 3 1 4-1 15-9 25-5 26 7 7 8 11 17 4 2 3-3 15-21 7-4 8-1 25 3 48 12 18-2 15-4 14 1 19 8 22 8 14 10 4 0 14-6 11 2 8 4 11 14 3 3 4 0 4-4 11-18 7-4 15 2 22 6 10 7 8 2 22-1 18-4 18 1 41-6 14 5 7 5 8 9 11 21 3 5 4 3 4-1 11-8 7-4 22 1 22 6 22 1 18-9 7 1 52 14 3 0 15-7 29-4 11 0 11 3 15 10 3-1 4-2 11-9 11-6 7-2 11 1 15-9 18-8 51-37 8-2 11 0 11 2 29 12 22 14 44 39 22 29 11 13 7 4 4 1 29-13 7-5 22-27 15-21 14-19 26-23 18-8 7-2 8 1 29 9 18 2 26 12 15 8 21 18 26 18 15 3 44 0 14 6 4-1 7-5 7-2 11 3 26 0 15 3 7 0 11-5 29-17 26-6 11 2 18 15 7 1 8-4 18-16 7-4 15-6 11 1 14-5 19 2 25 14 19 2 3 2 11 12 4 1 4-2 11-17 7-6 25-11 26-17 18-6 11 2 15 5 15-2 18-1 14-2 19 5 25 0 26-5 29 0 29-8 15-1 11 3 15 10 18-1 22 3 18-6 18-12 11-4 15 3 18-1 19 6 36 1 33-4 18-10 11-2 19 4 18 8 25 3 15 7 4 0 3-2 15-14 11-3 40 2 19 8 29 3 7-1 15-5 33 4 7-1 11-3 4 190 3-192 8-1 21 4 19-4 14-1 15-4 18-2 26 6 25 9 11 2 15-4 22-10 33-6 15-4 29-4 14 1 19 9 7 2" stroke="#ffb000"/>
<path d="M438 1415l11 2 11 8 11 0 18 4 25-2 11-4 22-3 22 7 4-1 4-2 11-16 3-4 4-1 7 3 11 9 4 2 11 0 14 8 15-1 15-8 3 1 11 11 4 1 15-7 10 6 4 1 15-9 3-1 8 3 14 10 11-1 11-3 8 1 11 7 7 6 4 2 3-2 11-13 4-2 7 3 11 10 4 0 11-8 3-1 15 4 7 0 8-3 11-10 3-2 11 6 4 1 4-2 14-12 4 0 11 3 14-1 15 12 4 2 3 0 11-5 26-2 18-9 8 0 11 3 18 1 29 15 26 4 14 0 15 5 11 0 14 8 15 18 4 2 3-3 4-6 11-22 7-7 4-1 11 3 15-3 14 11 4 1 15-3 14 4 15-12 11 2 14-2 8 3 11 7 3 0 19-13 7-2 15 14 10-5 4 1 11 8 4 1 11-1 11 9 3 1 4-1 4-4 11-13 3-1 15 4 26-2 14 7 11-1 15 8 14-1 11 4 4 0 11-9 4-1 3 1 26 22 4 0 3-1 11-5 4 0 3 2 11 17 4 5 4 2 3-1 11-9 8-1 18 3 18 9 22 5 15-11 3-1 4 2 4 4 11 15 14 8 4 0 11-6 4 0 14 6 8 0 7-3 15-10 7-2 18 10 11-1 7 1 15 10 4-1 29-23 7 0 8 3 7-2 7-6 4-5 14-24 8-10 3-2 11-2 11-8 15-8 11-3 15-14 7 0 11 1 4 3 18 30 22 23 22 29 7 4 11-1 4 2 18 25 7 6 15-3 11 7 7 2 7-4 4-5 15-27 33-31 33-49 7-6 4 0 14 4 15-5 3 1 8 4 14 18 8 5 18 7 4-1 7-4 4 0 3 2 37 48 7 6 4 0 7-3 4 0 11 7 14-7 22 7 15 8 26-1 10 4 4-1 4-2 14-21 8-7 7-1 11 1 11-6 11 2 11-2 11 1 15-1 10 2 15 6 11 1 7 4 4 0 4-2 11-13 7-5 26-8 32-3 15-8 7 1 19 6 14-5 22 16 8 3 22-10 14-17 7-5 4-1 15 3 11-1 7-2 15-8 14 0 22-5 18 2 15-10 26 3 14 6 19-6 3 1 15 7 18 6 7-2 11-7 4-1 11 2 26-4 18 3 15-11 3 0 26 11 11 0 7-2 11-13 4-1 11 8 7 1 29-5 11-9 8-2 40 10 3-2 11-15 4-2 15 5 11-3 18 6 29 3 15 9 7 2 4-1 14-8 8-2 22 3 18-1 15-2 14 7 11-3 4 1 14 8 26 6 7-1 15-9 22 1 15-3 18-1 11 4 18 14 4 2 3-1 22-9 8 1 7 3 7 0 15-11 4-2 11 6 7 0 11-4 11-2 14-9 4-1 7 2 15 12 44-4 25 7 15 0 18 8 8-2 7-6" stroke="#ff8e00"/>
<path d="M438 1426l14-1 4 2 7 8 4 2 4-2 10-13 11-6 22 0 22-5 8 0 7 5 15 29 3 1 15-28 4-4 7-2 14 3 26-1 7 1 8 5 7 8 4 1 3-2 11-13 8-4 14-4 15 1 18-4 15 3 18 5 18 1 11 4 15 12 4 1 3 0 11-7 7-3 8 1 18 3 18 0 22-8 11-2 8 2 11 7 7 1 11-2 25-8 30 0 22 7 22 11 7 2 29-1 15-3 3 0 4 2 11 15 4 2 3 0 11-13 8-5 11-1 11 2 29 18 7 14 11 36 4 2 3-6 11-36 4-6 4-3 11-5 29-18 11-3 7 0 8 2 14 11 15-2 40 11 33 0 4 3 11 12 3 2 4-1 14-15 8 0 7 5 4 7 11 29 3 6 4 1 4-6 11-30 3-6 8-5 14 0 19 4 14 7 22-4 33 0 11 2 18-1 15 1 22-4 7 2 4 4 14 40 4 4 4-4 11-27 3-5 8-2 11 1 36 11 18 13 15-6 11-2 26 6 7 4 15 18 3 2 11-3 15 1 18-3 11-3 7 0 8 7 7 12 4 3 3-3 15-28 7-6 8-4 3-1 11 4 15-13 14-7 30-22 11-3 22 5 14 7 48 43 14 11 22 13 30 26 11 7 14 1 11-1 26-9 14-12 22-27 11-10 8-3 11 0 14-10 8-2 18 0 44 3 22 7 18 10 15 1 18 4 33 11 18-1 33-7 4 0 3 3 8 10 3 2 4-2 11-14 3-2 26-1 11-5 15-3 14-6 37 0 25-11 11 1 4 2 11 15 4 1 3-3 11-19 8-4 25-5 15 3 14-8 15 1 11-1 18-8 8-2 7 1 4 2 3 4 11 29 4 4 4-3 11-33 3-7 8-6 25-4 15-3 29-1 18 2 11-6 8-1 43 2 33 3 22 7 26 4 55-10 7 0 11 3 4-1 14-10 11-4 22-3 51-4 15-5 22-5 40 12 11-1 29-8 52-3 32 5 15 8 4 0 11-11 7-3 15 4 11 1 18-3 29 2 15-3 14 4 15-3 18 3 11 1 30-5 21 1 33-2 37-8 4 1 11 8 3 1 8-3 7-1 40 9 11 0 15 6 7 1 18-3 15 2 11-6 7-1 11 1 26-2 29-12" stroke="#ff9200"/>
<path d="M438 1433l25 10 4-1 11-11 3-2 26-5 15-5 18-3 7 1 15 14 4 1 3-2 15-16 11-3 11 2 22 7 14 0 15 4 7-1 15-7 7-1 8 1 14 7 7-1 15-5 22-1 18 5 26-1 15 9 3 1 15-2 22 1 22 4 18-1 26-8 43-5 33 8 30 9 7 0 29-7 11 1 15 3 11 4 18 11 4-2 14-19 8-3 7 0 7 1 33 11 7 6 11 17 4 4 4 1 3-3 11-14 4-3 22-7 15-7 43 2 11-1 19 6 14 1 19 5 25 2 19 10 7-1 11-7 7 1 7 4 8 5 11 16 3 3 4 0 11-9 4-2 14-1 15-4 11 0 14 3 15 0 29 4 19 6 22-1 43 5 8 6 14 21 4 1 15-13 3-1 8 0 22 4 25-6 37-2 22 5 18 1 18 7 22 1 22 11 22 2 11 3 4 0 14-11 11-3 8 0 14 7 8-1 21-9 22-4 19-6 7-4 11-8 4-2 7 0 33 6 29 12 7 5 19 20 14 14 19 11 29 22 11 5 7 1 11-1 7-3 33-22 15-16 15-11 22-26 18-16 11-4 29-6 11 2 37 17 14 5 22 4 22 2 11 3 18 8 30 0 11 3 3-1 11-10 4-1 18 1 18-1 11 1 15-3 22 7 7 0 15-3 25-7 8 1 14 9 4 1 7-3 15-13 26-11 7-2 11 3 14-3 26 3 37-5 3 1 11 9 4 0 4-5 11-16 7-4 11-1 36 1 26-3 18 3 15-5 18-10 15-3 14 0 19 4 14 1 8-1 18-6 15 2 32-3 30 0 18 5 11-4 18-3 40-11 19 0 18-3 11 0 29 2 22 4 22-2 22-9 22-3 11 2 15 8 7 3 7-1 11-5 8 0 10 2 15 9 4-1 14-11 11-6 8-2 11-1 14 2 19 9 40 4 18-5 11-2 15 3 25-1 26 3 40-8 7 1 19 7 22 7 3 0 15-5 22 4 22 1 29-5 15-5 18 2 15-3 18 2 29 7 22 3" stroke="#ff9200"/>
<path d="M438 1429l18 0 11 5 4-1 10-8 11-3 11 0 19 3 22-2 7 3 15 18 3 1 4-2 11-14 7-5 15-4 22-3 14 2 19 10 3-1 15-7 29-1 40 6 30-5 14 1 8 1 11 7 3 1 15-8 11-2 22 2 29 0 11 2 22 11 7 2 11-2 40 1 63-6 25 1 29-3 8 1 14 6 19-8 18-1 26 5 7 3 7 9 11 24 4 3 3-1 4-5 11-23 7-6 30 1 18-4 15 0 14 4 4 0 22-7 14-7 8-1 11 4 29 16 18 16 4 1 3-1 15-12 7 0 4 1 7 8 11 18 4 1 4-2 14-18 11-4 22-3 8 2 14 8 4 0 14-1 19 3 14-1 19 3 36 1 18 4 8 5 3 4 11 20 4 4 4 0 3-3 11-14 4-3 7-1 19 1 25 6 7 4 8 7 7 2 33-8 11-1 7 1 22 8 19-3 40-2 11 3 11 9 3-1 11-19 8-9 11-7 14-5 4-3 15-19 21-21 19-12 25-12 8-2 7 0 15 4 11 9 25 30 37 51 14 17 19 17 11 3 22-4 32-14 11-8 41-40 11-3 3-3 8-8 7-7 7-3 11-2 7 0 8 4 55 41 29 15 22 5 22 1 40 9 18 0 8 3 14 11 4 0 4-2 10-10 11-6 22-5 19 1 11-6 14-4 44-1 18-2 8 3 7 6 4 2 3-2 15-18 7-4 15-4 7 0 15 5 14-5 33-6 22 0 8 2 3 3 11 18 4 4 4 0 3-4 15-26 4-4 7-3 29 1 40-1 15 3 26-9 29-6 18-1 29 2 26 1 22-2 36 2 15-2 15 6 14-9 37-13 33-2 14 5 15-5 37-2 36-8 7 0 22 6 37 2 37-2 14-3 15 7 3-1 11-8 4-1 18 0 22 5 19 0 14 3 33 13 22-9 15-3 29-1 25 1 37-2 22-3 18 5 8 0 18-7 47-2 26-6 37 8 11-3 36 0 15-2 18 3" stroke="#ff8800"/>
<path d="M438 1408l3-1 8 1 3 2 4 5 11 35 4-1 10-33 4-5 4-2 22 2 18-4 11 4 4 4 3 9 4 15 15 93 3 8 4-7 11-74 7-34 7-12 8-7 3-1 11 5 11 2 8 6 7 11 11 25 4 4 3 1 4-5 18-35 4-3 4-1 11 6 7 2 7-1 11 0 26-10 18 4 18-1 4 2 4 7 11 38 3 3 4-7 7-22 7-11 8-4 7-1 11-3 7 1 15 6 33 2 4 4 7 15 4 4 3-2 8-12 10-13 8-5 3 1 11 9 19 6 7 0 11-4 18 5 22-4 15 3 14 1 15-4 11 5 4 6 11 45 3 7 4-7 7-34 4-13 4-8 3-4 11-3 19-7 3 0 8 5 3 5 4 9 3 15 4 27 11 124 4 25 3-3 4-27 7-88 8-60 3-12 4-6 11-4 7 1 11 7 8 2 22-8 3 1 4 4 7 14 4 2 7-5 11-4 11-8 7-2 8 2 14 10 11 2 11 3 8 6 3 8 11 40 4 4 3-5 15-44 4-6 3 0 4 7 4 15 14 105 4 8 4-11 14-104 4-13 4-6 3-1 8-1 11-6 3 0 11 7 11 20 4-1 11-17 11-4 18 6 11-4 7 0 19 13 14 6 8 0 10-3 11 2 4 5 4 10 3 20 11 96 4 20 4-1 3-20 8-65 7-43 4-9 3-5 8-3 3 1 11 10 4 2 11-8 4 0 3 4 4 7 11 31 3 3 4-3 11-23 4-3 3 0 4 1 11 9 7 5 4 0 4-3 7-7 4-2 3 2 11 27 4-2 7-17 4-6 4-2 11 0 10 5 4 0 11-3 7 0 4 3 4 9 11 65 3 5 11-58 4-9 4-4 3-1 11 1 4 5 7 23 4 1 7-30 4-10 4-3 14-1 11-6 33 3 26-8 7 0 4 2 11 6 18 7 7 5 22 32 15 14 7 3 15 1 14 13 15 9 25 2 19-3 3-3 15-20 7-5 15-3 4-3 11-15 3-2 8 7 3 0 11-18 11-12 7-3 22-4 26-16 22 1 15 13 7 3 7 0 15-9 3 2 11 14 4 3 15-2 11 4 14-6 4 2 11 11 4 0 11-6 3 0 8 7 3 9 11 50 4-2 11-53 3-8 11-8 11-15 4-2 4 1 7 7 11 17 4 3 11-13 11-3 14-7 11 2 15-3 7-1 15 4 3 3 4 7 11 39 4 8 3-1 4-8 15-44 7-12 7-7 15-9 4 1 7 7 4 2 21-17 15-9 4-1 11 7 3 0 8-4 3-1 4 4 4 11 3 20 11 87 4 19 4 4 3-13 15-105 7-28 4-6 11-3 14-12 11-2 11-4 8 0 7 2 7 7 11 17 4 0 15-17 3-1 4 1 7 7 4 1 14-11 11-2 11-8 15-3 11 1 11-2 4 2 11 9 3 2 29-10 11 5 19 2 14-3 4 1 11 15 4 2 3-3 11-18 4-2 4 0 14 9 4 0 11-4 11-1 11-7 7-1 4 1 11 12 3 0 11-6 22-8 11 1 22 7 4 0 11-6 7-1 11 2 15 6 3-1 15-10 11-3 7 1 8 6 3 1 4-1 11-7 11 2 7-2 4 1 3 3 4 6 15 44 3-1 11-36 4-7 4-4 3 0 15 8 4 0 3-3 11-14 4-3 4 0 11 8 11-4 10-1 8-3 3 1 11 13 4 0 7-10 4-2 15 7 14-3 11 4 4 0 11-10 7-3 18 1 15 7 18 2 11-7 15 1 15-6 3 3 11 21 4 2 11-12 22-8 7-1 4 1 11 10 7 2 15-4 11-5 3 0 15 10 11 17 4 2 14-12 11-6 15 3 14-5 19-4 7 2" stroke="#ff6800"/>
<path d="M438 1404l14 1 15 5 14-2 26 11 18 5 8 0 11-5 7 0 15 12 3 1 19-11 7-1 18 3 26-8 7 1 15 6 3 0 19-5 43 1 30 7 40-4 4 1 11 7 3 0 11-2 55-4 29-7 8 0 11 3 14-3 7 1 26 11 29 3 19-6 29-1 40-8 11 3 15 10 3 1 19-6 22 1 18-3 7 0 7 3 4 3 11 15 4 2 3-1 15-21 7-3 15 2 15 1 33 3 14 8 22 2 22-3 26 0 14-3 8 2 14 8 4 0 11-3 7-1 11 5 15 14 3 3 4 0 4-2 11-10 7-4 15-4 14 0 8 2 18 7 88 9 18-1 14 5 8 5 14 20 4 3 4 1 14-9 22-5 8 0 18 4 22 13 7 1 15-3 11 2 33 10 14 8 15-2 36 0 11 6 15 13 4 2 3-1 11-13 8-4 14-2 11 4 4-1 11-10 22-12 22-6 25-10 15-9 26-5 11 2 29 11 47 39 33 24 15 7 11 3 11-2 29-18 18-5 19-11 3-4 15-26 7-9 18-17 11-5 30 0 14-3 22 2 33 17 59 17 22 17 25 15 33-17 7-1 15 2 11 0 40-14 26 1 22-5 18 4 4 0 3-3 15-16 11-5 33 2 18-7 18-4 19-5 14-1 11 2 11 13 4 2 4-1 14-22 4-3 7-3 33-2 22 6 26 1 18-9 22-8 7-2 40-2 30 4 18-1 15 1 43-5 15 1 11 4 4 0 11-5 3 0 15 6 7 1 11 0 18-4 11-1 30 6 36-4 30 1 18-3 22-1 29-6 40 7 22-4 15 5 3 0 15-6 18-2 19-5 7-1 58 8 37-9 66 16 7 1 18-2 15-7 22-8 7-1 11 2 11-3 4 1 36 11 22 3 11 0 22-2 15 2 15-4 25-2 18-5 19-3 7 0" stroke="#ff6b00"/>
<path d="M438 1409l11 2 11 7 3 1 15-5 14 1 22-4 22 3 11 3 15 16 4 2 3 0 11-6 18 3 8-4 11-10 11-3 25 1 19 8 11-1 11 5 7-2 11-6 14 1 15-4 29 7 15-3 4 0 14 8 8 1 29-15 11-3 11 4 18 10 7-2 8-7 7-4 7 1 15 4 11-2 14 3 11-2 11 1 19-2 18 9 11-4 15 1 3-1 15-14 7-3 22 0 15 4 7 5 11 14 4 3 7 0 18-11 8-1 47 14 11 9 4-1 11-13 3-2 22 5 19-3 7 3 7 6 8 2 18-1 14-7 22 0 15-4 11 2 18 1 8 2 18 14 7 3 4-1 14-9 11 0 8 1 14 18 8 4 29 3 26-8 14 6 26-4 7 2 18 15 8 1 11-2 14-10 8-3 14 0 11 2 11 4 11 15 7 6 19 1 14 7 19 5 14-2 11 1 18 9 11-2 15 3 33 1 15 4 7-1 7 4 8 9 7 6 22 5 18-3 11 7 4 1 11-5 11 3 14 1 11 3 11-4 15-2 18-8 11 1 7-2 15-14 7-3 8 2 22 13 7 3 7-2 15-9 14 0 8 4 18 15 18 19 30 24 11 2 11 4 14-2 4 0 14 7 22-5 8-4 7-7 15-20 25-29 8-6 14-3 22-14 33-13 18-1 4 1 18 16 22 8 15 0 14 6 15 3 7 0 15-4 22 1 15 10 3 0 11-8 15-3 18-9 29-2 22-9 11 1 15-3 22 6 14-2 11 3 4 0 33-29 22-7 15-2 25-9 15 0 18-5 7-1 8 2 14 10 4 1 15-9 11-2 18-8 7 2 11 6 11 0 4-3 11-13 7-5 4 0 11 5 7 2 29-1 11 1 7-2 11-8 8-2 22-2 14 3 26-1 7-3 15-10 18-5 4 1 14 7 22 6 19-3 22-11 3 1 11 6 15 5 22 3 7 0 18-3 26 1 51-6 40 14 15-1 29 2 8-2 29-11 25-7 4 1 11 7 7 2 4 0 15-8 18 0 18-8 18 5 11-3 4 1 11 9 4 0 18-15 11-2 26 2 7 4 7 6 7 3 15-2 15-6 22 1 14-5 15 7 4 1 14-7 11-3 7 2 19 13 3 1 4-1 11-7 7-2 15 2 15-1 14 3 15 6 4 0 10-5 11-2 15-9 4-1 11 2 3-1 8-7 7-3" stroke="#ff4300"/>
<path d="M438 1425l14-4 4 0 7 2 11 0 18 5 8 0 22-14 14 2 11-7 8-2 3 1 11 12 4 1 11-2 18 4 29-10 11 1 8 3 11 11 3 3 4 0 29-13 8-2 7 1 14-5 19 13 7 3 15-4 11 5 3 0 11-5 4 1 11 9 7 3 8-3 29-21 7-2 7 2 22 11 15 0 26 8 7-3 11-11 3 0 11 7 4 0 11-8 22 0 18 10 11-2 4 0 18 15 15 2 7-1 11-4 15-2 14 1 15 0 4-2 11-8 3-1 8 1 11-3 7 1 22 9 14 12 4 0 4-3 11-15 7-3 7 0 15 4 11 0 11 4 15 3 3-1 11-7 4 0 18 3 15 0 3 1 15 12 11 3 11 7 4 1 3-1 11-8 4-1 4 1 11 10 3 1 4 0 14-13 8-1 7 2 18 13 4 0 11-10 4-1 11 4 14 1 11 7 4 1 11-9 3 0 8 2 14 9 15 4 11 10 7 4 8-1 14-8 8 0 18 6 18 2 15-7 3 1 11 12 4 0 11-11 4 0 14 13 8 2 11-1 7 2 7 3 15 11 3 1 11 1 15 6 33-3 4 3 11 15 3 3 8 2 18-7 25 0 8-3 14-11 4-1 11 6 4 0 11-10 3-1 8 1 14-9 8 0 22 10 10 2 8-2 11-7 14 0 15-11 4-1 18 1 7 4 11 10 4 2 11 1 7 4 7 9 15 31 7 9 19 4 7 7 11 14 4 3 11-1 7 2 15 13 7 3 11-3 7-5 11-15 7-6 11-3 11-8 4-1 11 2 4-2 14-16 11 0 8-3 18-14 14-6 8 0 18 12 7 2 22-5 11 7 4 0 11-9 4-1 21 6 15 7 11-2 11 0 15-6 18 0 15-8 7 3 15 13 3 0 4-4 7-11 7-6 26 0 11-4 4 0 11 9 3-1 11-11 4-1 18 4 8-1 14-14 4-2 3 1 11 7 11-1 15-7 11-3 18-14 8-3 14-5 22-1 22-11 7 0 11 3 19-5 7-1 4 2 14 18 4 1 4-2 11-14 14-4 15-10 11 2 11-2 18-1 4-2 11-10 3-2 11 0 11-9 8-2 7 2 11 12 3 1 4-1 11-6 15 1 25-1 22 3 11 9 4 1 18-14 11-2 11 3 4-1 11-8 3 0 8 2 11 7 7 3 7-3 11-6 4 0 18 6 8 1 10-5 11-2 11-6 8-1 7 4 15 11 18 1 7-2 15-6 26 4 18-6 14-9 8-3 7 2 18 10 19 3 14-1 19 4 7-2 11-9 3-2 11 1 19-2 14-5 22 8 11-2 15 1 18-5 18-9 15-5 4 1 14 15 22 1 11-6 4 1 11 8 4-1 10-7 4-1 7 2 11 7 11 1 15 9 4-1 11-9 7-3 7 2 11 8 4-1 15-10 14 2 22-5 11 1 22 9 4 0 14-9 4 0 7 3 4 0 11-4 14 3 11-3 15 4 15-6 18 4" stroke="#ff4200"/>
<path d="M438 1416l22 2 21-2 22 6 22-3 37 7 7-3 11-8 8-3 21 4 15-2 33 4 18-4 15 0 18-8 26-4 14 6 11 1 19 5 14-1 19 7 43-9 19 6 11 0 14 4 15-3 15-1 11 3 10 0 37 7 29-3 19-7 7 1 22 8 22 0 22 2 11-2 25-8 11 0 30 5 25 11 18-2 19 0 18 5 15 0 11 5 18 4 40-5 15 3 36 1 8 3 14 9 15 5 7 1 11-2 15 4 3 0 19-11 18-4 7 0 26 12 25-4 19 1 11-1 7 2 15 11 14 8 15 6 7 1 18-6 15 5 7 1 15-6 7-1 26 8 15 2 11 5 14 4 7 0 15-5 15 1 18 7 29 20 22 8 8-1 18-7 25 4 19-5 18-2 40-17 18-3 22-9 8-1 18 1 18 4 30 13 21 1 15 5 7 5 11 11 44 51 15 12 7 2 11-3 15-12 18-3 15-6 29-24 18-20 11-9 29-15 15-6 11-2 22-1 18 6 11 2 15 5 29-1 7 1 19 7 18 3 33 3 15-9 3-2 26 1 25-3 26-13 22-4 18-1 18 1 22 6 4 0 15-7 11-2 7 0 15 4 11 1 7-2 14-9 15-3 11 1 15 3 22-5 11 2 7-4 18-20 11-7 7-3 22 3 22-5 15 3 11 3 7 1 26-4 18-5 18-8 15-1 11-3 15-1 14 1 15-3 15 2 10-1 15 1 18-2 15-4 11 1 11-4 7-1 11 1 19 5 7 0 29-5 26-11 47 10 26-9 18-3 29 6 33 3 26-2 25 7 15-5 22-2 18-7 8 0 22 3 14 7 33 6 15 4 7-1 15-7 25-5 22 6 40 4 8-2 14-6 15-3 15-1 18-7 7 1 18 8 30 8 18 1 15 4 14-1 19-5 10 1 22 4 22-2 15-4" stroke="#ff6700"/>
<path d="M438 1408l7 1 18 9 8-1 14-4 18 3 11-4 15-9 4-1 3 0 19 8 14 12 4-1 11-11 7-3 18 3 11 3 15-2 7 4 11 11 4 1 4-1 11-10 3-2 8 0 11 4 11-4 3 0 11 9 7 3 19-3 18-7 4-1 7 3 11 0 11 5 15-1 11-2 10 3 15 0 15 5 22 0 14-5 15 1 4 0 11 7 3 0 18-9 4 0 11 8 4 0 7-5 11-3 15-8 25 12 22 0 15-7 14 9 8-1 14-5 26 7 15-5 29-1 18-5 7 2 15 22 4 3 3 0 4-3 11-14 7-5 4 0 11 6 4-1 7-5 4-1 11 5 14 2 15-3 14-5 11 3 11 1 26 4 15-6 3 2 11 9 19 9 10 0 15-8 4 0 36 21 4 0 18-10 26-1 18 6 15-6 7 5 11 12 4 2 18-2 15-8 3 2 11 12 4 1 11-1 11 6 3 0 11-4 4 1 11 13 7 5 4 0 4-2 11-10 3 0 11 7 4-1 11-6 4 0 18 6 14 14 15 5 18-2 11 6 19 3 14-3 19 10 25 4 18 7 15-1 15 5 14-8 19-1 11-2 14 2 11 5 11-3 15 1 18-14 18 0 11 4 4-1 11-7 4 0 25 13 11 11 15 10 3 2 11 1 11 6 11 10 19 21 3 2 4 0 11-4 4 1 11 12 3 2 11-3 15 0 7-4 11-12 15-10 11-14 36-28 11-12 7-6 15 1 15-6 11 0 14-9 11-3 8 2 11 6 14 18 4 2 7-1 18-12 4 1 11 13 4 3 11 1 14 9 19-4 11 3 7-1 4 1 11 9 3 2 4-1 4-4 18-19 7-4 18-1 15 8 15-9 11 0 11-6 11-1 14-9 4 1 11 8 7-1 11-6 4 0 11 6 7 1 7-5 15-14 18-12 8 0 14 3 22-7 11 3 4-2 11-12 3-1 4 0 7 4 19 21 3 3 4-1 4-3 14-21 15-7 11-8 3-2 33 8 8-2 11-8 3 1 30 16 3 0 15-10 22-8 25 6 22-3 11-4 22 6 4-1 11-9 3-1 11 5 11-6 8-1 22 6 3 0 11-13 4-4 4-1 3 1 11 10 4 0 11-5 4 0 25 6 15-10 14 2 15-5 15 6 3-1 15-8 4-1 18 9 18-3 26 7 7 0 7-2 4 1 11 6 11-3 11 4 4 0 11-6 18-1 7 2 11 7 4 0 14-8 8-2 14 1 11-4 11 3 4-1 15-10 3-1 15 0 14 6 15 2 4-1 14-10 15 2 26-1 11 5 3 1 11-5 4 0 11 4 14 3 22-2 15-9 11-2 7 1 11 5 15 4 14-6 15 6 15-6 11 1 11-3 14 3 22 0 15-2 14 0 11 2 11 0 11 5 4 0 11-6 4-1 7 2" stroke="#ff4100"/>
<path d="M438 1424l11-7 3 1 15 10 11 3 7-1 11-8 7-1 30 8 18-4 22 4 11-4 11 7 3 0 26-15 7-1 8 0 11 3 11-2 11 6 3 0 11-4 8-2 29 9 3 0 11-3 11 2 11 0 22 12 8-1 11-5 11 6 3 0 11-4 15-14 7-2 7 2 15 9 4 0 3-1 11-9 4-1 4 0 14 7 8-1 11-4 18-1 18 7 15-5 11 4 18 2 15-8 14 3 19-3 14 5 4-1 11-12 3-2 8-1 7 2 15 9 18-1 26 8 14-3 8 1 7 5 11 10 7 3 7-3 11-12 30-21 7-3 7 2 26 12 7-1 11-6 4 1 11 6 14 12 8 4 7 1 11-6 4-1 3 1 33 16 4 0 4-2 10-9 8-1 7 4 15 22 7 6 4-1 3-3 11-14 4-3 11-1 15-11 7-2 11 3 25 11 11 3 19 12 25-1 15-5 7-1 4 1 15 10 3 0 11-9 4 1 22 24 3 2 4-2 7-9 4-2 4 1 11 6 11 1 11 4 14 12 15 10 14 5 15 6 15-1 14-8 4-1 22 7 7 1 11 5 4-1 7-2 15-2 18-12 4 0 11 10 3 1 4 0 11-7 11 0 26 17 3 1 26-16 7-3 22 1 18 7 8 1 18-5 11-2 7 0 19 8 10-1 4 1 11 10 15 9 11 11 7 5 7 1 11-3 8 1 7 6 11 15 4 3 7 3 7-2 11-12 4-2 22 8 25-3 4-2 18-19 8-3 11 0 11-10 14-6 18-21 8-3 11-1 22-21 18-4 15-11 3 0 4 3 14 23 8 8 7 3 11 0 15 13 3 1 11-7 4-1 11 3 11 1 15-7 11 3 14 11 15 0 11 3 3-1 11-13 8-5 14-1 11-4 15 6 4-1 18-7 14-15 8-3 11 3 18 12 4-1 14-17 4-2 15-3 18-17 4 1 3 3 18 18 8 1 14-3 11-9 4-1 11 2 11-8 4-2 3 2 8 7 3 1 4-3 11-16 4-1 11 3 21-9 22 5 15 6 22 1 15-7 14 0 11-4 22-3 15-7 18-3 15-7 18 4 15-5 11 2 10-3 4 0 18 18 11 1 11-1 11 3 19-4 14-12 11-4 15 7 11-5 7 1 15 12 3 0 11-11 4-1 4 0 14 12 4 1 26-6 14-8 8 1 10 5 8 2 18-6 18 4 11-2 22-1 8 4 11 8 3 0 11-6 18 10 8-3 14-21 8-7 3 0 19 2 18-3 15-5 7 3 25 27 8 3 7-3 22-14 4 0 11 5 18 1 11-3 15-8 3-1 15 8 14-2 11 2 11-1 15 3 22-3 15-10 11-1 18 4 14 1 19 10 7 1 29-9 11 0 4-2 18-16 7-4 26 14 11 16 4 3 3 0 11-9 4 0" stroke="#ff6100"/>
<path d="M438 1417l3 0 11-6 4 1 11 9 4 1 14-7 18-4 19 10 3 0 15-5 7 2 15 9 7 1 15-5 29-2 11-7 4-1 14 7 33-4 26 6 14-3 15 0 11-5 7-2 15 1 11-2 11 2 11-1 18 4 15-3 14 2 15-3 18 0 8-2 3 0 11 4 19-4 18 4 18-3 15 5 29-1 18 6 26-3 22 3 22-1 14 0 22 6 22 0 22-4 11 1 18 5 15 11 7-2 11-7 4 0 15 2 25-1 30 10 7 0 14-5 8 0 51 3 26 7 18 7 25-3 8 4 11 10 3 1 4 0 15-9 7-2 11 0 7 2 26 13 7-1 7-4 8-3 7 1 18 5 19-2 3 1 22 14 8 0 14-2 7 1 33 17 8 1 18-3 7 1 15 7 18 3 15 8 11 1 22 5 18 11 22 7 11 2 18-2 29 10 19 2 18 9 37-5 3 1 11 7 4 1 11-3 18 7 22-11 11 2 15-2 11 4 11 0 11 4 25 5 22 14 29 7 37 25 15 2 32 8 37-10 22-17 4-2 11 0 3-2 15-12 22-15 25-13 26 3 26-11 7-2 40 3 26 7 18 0 15 4 11 0 14-6 11-1 15-8 14-6 19 1 11-4 14 4 15-11 11-5 18-2 15-4 18-3 18-6 19-4 14-10 4-1 11 1 15-6 14 1 15-6 14-2 19-10 11-1 14 4 8 0 22-10 18-2 29-9 18 1 22 0 19-9 22-3 10 0 15 3 15-1 14 2 15-8 4-1 18 0 15-8 18 1 22-4 14-1 19 3 18-2 29 3 15 0 14 5 8 0 14-4 19-9 14-4 19 3 25-1 18 4 26-2 15-5 22 3 11-3 14 2 15-3 7 1 15 7 7-1 15-5 14 0 26-3 11 0 22 5 14-5 19 2 14-3 19 8 47-2 18 3 15-1 15 4 18-6 15 3 36-5 18 1 11-1 15 2 18-2 15 2 11-1 15 7 3 0 15-5 14-2 8-2 29 1 11-2 11-4" stroke="#ff2200"/>
<path d="M438 1427l14 6 8 1 11-7 14 3 7-1 4-1 11-8 11-1 11-4 4 0 11 5 22 4 25-7 22 0 15 3 11-1 14 4 19 3 18 11 7 2 15-5 14-13 4-1 15 4 7-3 4 1 11 12 3 1 8-2 14-9 8 1 11 5 11 2 7-2 18-10 4-1 11 3 11 0 44-7 3 0 11 5 11-4 15 2 14-5 4 0 15 7 11 3 11 5 7-2 11-7 4 1 11 6 3 0 15-5 11 0 7 2 11 8 7 1 11 7 4 1 11-7 18-3 11-7 8-1 7 3 15 2 14 14 7 3 15-4 15-11 3 0 15 8 18 2 4-2 11-13 4 0 14 7 18 5 8 0 7-1 4-2 11-10 11 4 3-1 8-5 3-1 4 2 11 12 7 4 15 5 11 1 11 8 3 1 15-1 11 6 4 0 3-2 8-7 7-4 7 3 15 12 4-1 11-8 3-1 11 1 18-7 4 0 22 16 29-1 15 11 11 2 11 4 11-1 7 1 11 5 11 1 15 9 3-1 11-5 8 0 18 7 15 13 18-1 14 9 8 0 14-8 4 0 11 9 4 0 11-2 14 8 11 1 4 1 22 12 11 4 11 7 3-1 11-14 4-2 4 0 11 6 3 0 15-5 26-3 7-3 11-9 4 0 10 5 15-3 11 8 4 1 36-10 8 3 11 10 14 8 4 1 11-1 3 0 4 3 18 24 15 10 15 14 11 4 14 7 26 4 7-2 15-7 14 4 4-1 18-21 15-5 15-11 18-22 11-8 11-11 7-4 7 1 15 4 15-1 11 4 11 2 7-1 11-5 15 2 7 2 11 9 18 3 11-2 4 0 14 7 8 2 7-2 15-7 11-1 7 3 11 10 4 1 3-1 11-11 11-5 11-8 4 0 11 4 7 1 7-4 11-10 11 0 19-9 7-1 11 3 4-1 10-14 8-3 14 0 19 8 7-1 15-6 11 0 14-3 11 5 4 0 11-5 22-5 18 1 11 2 11-2 11 6 4-1 11-11 14-10 11-10 7-5 19 3 18-9 15 1 11-1 18 7 26 0 3-1 11-7 4-1 11 2 11-7 3 0 11 3 8-1 14-10 4-1 11 5 11-3 15 1 10-5 4 0 11 5 4-1 7-9 4-1 14 8 4-1 15-8 25-6 8 2 11 7 10-1 15 6 4-1 11-6 3 0 15 6 7 1 19-9 25 8 11 2 15 5 18-9 18 2 15-2 11 5 15 0 3-1 11-10 4-1 15 7 21-4 11 4 4-1 15-10 3-1 4 1 11 9 15 2 7 4 4 0 11-3 21 2 4 0 15-12 3-1 8 1 11 8 3 1 4-1 15-13 14-7 8 2 11 11 3 1 4-2 11-12 3 0 4 1 15 12 7 1 11-3 15 7 11-3 18-1 18-5 15 3 11-4 11 1 11-4 3 1 11 11 4 0 11-10 4 1 11 10 3-1 11-10 4 0 11 10 4 0 10-7 11 1 11-5 22-5 15 4" stroke="#ff4b00"/>
<path d="M438 1420l7-1 11 3 4 1 11 10 3 1 11-4 15-16 7-3 11 5 15 10 3 0 11-3 4 3 4 6 11 27 3 3 4-5 7-19 8-12 7-6 7-3 4 0 14 8 8 2 7-2 11-6 4 0 14 17 8 3 7-1 4-2 11-13 7-5 14 5 15 0 7-1 19-8 3 1 15 8 15-5 7 1 7 4 11 9 4 0 22-13 7-3 11 0 11 2 15 11 3 0 15-9 11-3 4 2 11 16 3 2 15-10 14-3 4 1 11 6 7 1 22-2 15-7 11 0 7-2 8 1 14 10 4 0 14-8 4 0 7 2 15 1 11 12 4 3 3 1 4-2 11-11 22-12 4 0 11 8 3 1 8-4 3 0 4 2 7 15 11 39 4 9 3 2 4-6 11-34 4-6 3-4 8-2 14 1 19 0 14-10 8-2 3 1 11 11 4 2 14 2 15-4 22 2 18-4 11 1 8 8 11 18 3 2 4-2 11-12 14-3 4 0 4 4 3 7 11 36 4 6 4 0 14-34 4-5 4-2 3 0 22 10 15-2 11 0 7-3 15-12 7-1 11 3 22 17 4 1 14-4 15 6 4 0 10-3 8 1 7 9 15 32 3 5 4 0 4-4 11-27 3-6 4-2 7 4 11 2 11 5 19 5 7 5 11 11 7 3 4-1 11-8 14-4 15 3 11-4 4 1 14 19 4-1 7-4 4 0 7 3 18 6 15 11 4 1 7-3 4 0 11 12 3 0 11-12 4-1 15 1 14 11 4 0 11-9 25-10 11 1 15-4 11 2 11 0 18 12 15 1 11 6 11 4 18 16 11 0 4 1 11 13 3 2 15 0 15 16 18 13 7 3 15 3 11-3 11 1 3-1 11-11 11-7 8-3 11-1 7-4 11-11 15-23 3-3 11-1 7-4 19-24 7-7 18-1 11 6 4 0 15-2 11-6 3 0 15 7 11 0 3 1 11 7 19 3 11-1 11 4 3-1 11-6 4-1 15 3 14-1 4 4 7 13 4 2 4-3 10-23 4-4 4-1 11 5 7 0 15-6 11 3 14-10 22 0 22-12 7 1 11 4 11-3 4 1 11 11 4 1 3-2 11-21 8-6 22-5 3 1 11 7 4 0 4-3 7-11 3-2 15 4 15-7 14 2 11-4 4 0 4 2 3 5 15 36 4 1 3-5 11-33 4-7 4-3 21-8 8-2 18 0 11-5 18-4 4 1 11 9 18 2 18-3 15-10 11 1 15 0 14-7 11-1 8 1 11 4 3-1 15-15 4-1 14 9 15 5 7 0 11-4 7 0 15 5 15-5 14 4 4-1 15-14 3-1 4 1 14 10 19-3 11 6 3 0 11-8 4-1 11 5 4 0 11-10 3 0 11 7 8 1 25-7 11-6 4 0 11 5 22 7 7-2 15-9 3 0 15 3 25-2 8 3 11 10 3 0 11-15 4-3 4-1 11 5 7 0 7 2 15-3 4 0 14 9 4-1 11-4 7-1 18 6 22-1 22-10 4 0 11 6 15-4 11 4 14 12 4 1 29-4 11 1 15-3 22 6 7-3 15-16 7-4 3 1 4 4 11 15 4 1 11-1 11 6 7-2 18-10 11 0 11-1 8 1 3 0 11-8 4 2 11 13 3 1 8-2 14-11 4-1 11 7 11-2" stroke="#ff2300"/>
<path d="M438 1416l11-3 3 0 11 5 18-3 30 1 14-1 15 4 22 3 7 0 26-7 7 2 11 6 7 1 15-4 33-5 22 3 25 0 19-2 14 3 30-1 29 4 11-1 14-5 8 0 11 1 14 5 22 2 8-1 14-5 30 4 18-6 18 5 22-2 18 1 11-1 15 5 15-3 29 6 14-5 4 0 18 8 11 2 11-2 19-8 7 0 36 18 4 0 15-8 18-5 26 2 14 5 15-1 14 8 8 1 11 0 14-3 19-2 7 1 18 7 8 1 22-3 14-6 7 2 30 14 18-5 15-1 7 3 11 7 4 1 14-2 18 3 19 5 33-1 25 11 19 1 18 7 7 4 15 13 3 2 4 0 11-6 7-1 19 0 33 8 18 7 14-2 15 5 11 2 29 11 37 5 22 10 18 5 7 0 11-2 15 6 15-3 14 5 8-1 18-5 14-1 33 7 22 0 15 4 15 6 18-1 7 3 33 25 15 8 14 15 19 7 11 7 7 2 14-1 22-5 26-17 48-19 25-21 11-4 15-1 18-7 11-3 26-3 18 3 14-5 30-2 25-7 15-6 18 4 30-1 7-2 14-8 11-3 8-1 11 2 7 0 18-10 11-4 19-1 21-6 30-5 14 4 8 0 11-4 14-8 15-5 25-4 33-8 15 0 15-4 14 3 15-8 15-2 10-4 19 2 18-2 18-6 11-1 15-6 15 4 14-5 18 2 11-2 11 1 22-8 15 3 15-3 18 2 14 0 8-1 29-11 18 3 26-1 11 1 15-2 14 1 22-3 15 2 33-5 29 1 18-1 18 3 19-3 18 1 22 9 11-5 22-5 14 3 15 0 44-7 40-2 26 3 14 3 11-3 15 2 15-2 14 3 15-5 18 6 7 1 22-4 22 3 19-6 18 6 15-3 11 0 10-2 26 5 15-2 14 0 62-1 19 5 11 0 14-5 15 0" stroke="#ff1600"/>
<path d="M438 1418l18 2 18-5 22 3 29-2 26 6 11 7 11 2 7-1 15-8 7-2 15 2 18-1 18 5 19-2 14 4 19-5 21 1 19-5 11 4 18 2 4-1 11-6 3 0 15 8 18-3 37 4 22-7 14 2 15-1 11 3 7 1 8-1 10-5 19-4 3 0 15 8 15-1 14 4 15-1 18 5 11-1 15-4 11 1 14 0 15 3 15-1 18 7 11-3 15-8 7-1 14 8 15 11 4 1 3-1 11-8 8-3 7 1 22 7 18-3 15 4 7 0 15-3 33 9 18-4 15 4 18 1 15 11 3 1 11-5 7 0 15 4 15 7 7 2 18-7 22 1 15 1 14 6 33 9 8 0 11-4 14 4 22 3 19 9 25 9 18 11 4 1 11-4 4 0 11 4 11 1 18 4 22 10 11 2 14-2 22 4 19 7 36 4 22 9 11 0 33 10 18-3 19 7 14 2 15-1 18-8 15 4 22 0 14 5 4 0 11-3 7 0 33 12 26 13 18 10 15 11 14-1 15 13 7 4 8 1 18-2 18 5 7-2 19-8 18-13 15-4 18-12 15-4 14-9 11-2 15-5 14 0 33-9 11-4 8 0 14 6 15 0 22-6 22 3 14-1 19-4 18 1 4-1 14-11 44-6 22-7 15-2 18-7 18-11 22-2 15 5 3 0 8-3 25-15 22-1 11 4 4 0 14-12 8-3 18 1 26-10 25 2 4-1 15-10 18 2 29-11 18 1 15-2 11 1 15-4 14 1 18-6 11-1 19 4 18-9 29-8 11 0 19 3 14-4 11 2 15-2 22 3 7-1 18-5 30 3 18-2 22 6 7-1 11-5 4-1 14 4 4 0 18-5 19 5 14-4 15 3 36-7 15 3 18 0 15 2 25-6 19 2 14 4 11-2 11 0 15-4 29 1 26-4 18 0 11 5 11 1 18-8 41 6 14-2 18 1 19-7 3 1 11 9 8 4 36-13 8 1 14 7 7 1 22-3 15 4 18-6 8-1 14 5 8 0 11-2 25-6 7 1 11 5 8 2 7-1 11-4" stroke="#ff1600"/>
<path d="M438 1415l14 8 11 10 4 0 14-11 11-5 15-3 11-4 7 1 22 11 4 4 11 24 4 2 3-3 11-25 4-5 22-8 7 2 7 4 8 3 14-3 4 2 11 11 4 1 3-2 11-13 8-2 29 3 11-3 3 1 11 7 4 1 18-5 11 0 15 7 22 5 4-2 11-12 7-2 7 0 15 8 22-2 14 4 22-3 19 4 21-4 19 2 14-8 8-1 25 6 11 5 15-1 18 6 8-2 10-8 4-2 4 1 18 8 11 14 4 2 3-1 15-12 7-2 11-2 11-3 4 0 15 6 7 8 3 9 11 38 4 7 4-2 3-9 11-40 4-8 4-4 18-2 15 4 11-2 7 1 15 3 10 8 4 0 15-9 7 0 11 2 15 11 3 1 19-4 11 1 7 5 15 21 3 1 4-2 11-13 3-3 4-1 4 1 7 7 15 30 3 1 4-4 11-24 4-4 7-3 18 3 15-3 7 4 11 9 4 1 11-4 11 3 18-1 7 1 15 10 4 0 14-4 15 7 18-2 4 2 7 10 15 34 3 6 4-1 11-27 4-6 3-2 15 8 4 1 14-5 8 1 14 9 11 17 4 4 3 1 22-5 22-4 8 2 7 4 15 16 3 0 11-10 4-1 15 4 14 2 15-3 3 3 11 15 4 3 4 1 18-13 15-5 3 1 8 6 3-1 8-13 7-7 18 0 15-5 14 2 15-1 18 6 15 2 11 6 18 4 26 23 22 23 3 2 15 6 15 1 14 6 15 0 11 3 7-1 22-14 15-2 14-13 4-1 11-2 11-6 11-8 18-9 7-1 11 1 15-2 11 1 18 7 15-3 29 8 15-5 14 7 8 1 18-5 18 3 19-6 7 0 11 4 11 14 4 2 3-3 11-22 7-7 11-6 22-2 15 3 15-11 22-8 11-3 14-1 18-8 11 4 15 11 4-1 3-4 11-19 8-8 3-2 19 0 14 6 4-1 11-7 11-3 11-7 3-1 15 0 11-4 7 0 4 2 4 4 11 31 3 8 4 1 4-6 14-43 8-7 25-7 22-1 7 1 11 4 15 0 7-4 11-9 22-3 18 2 19-5 18 3 11-5 18-3 66-1 18 4 11 8 4 1 4-1 22-21 7-3 15 2 14-2 15 6 18 2 29-8 19 3 14 0 19-7 32 9 15-7 15 1 11-1 14 1 11-1 11 0 11-2 7 2 11 7 8 2 7-2 15-9 7-3 18 4 15-4 18 1 15-3 3 2 15 12 4 1 3-1 11-7 4 0 15-1 22-2 18 1 15-5 14 1 15-5 29 11 7-1 15-5 4 0 11 7 3 0 11-5 11-2 18 5 37-3 18 5 11-2 11 4 4 1 11-4 7 0 15 1 18 4 7-2 15-9 11 0" stroke="#ff1800"/>
<path d="M438 1419l7 0 18 3 18-5 19 3 14 0 15 4 4-1 11-6 3 1 4 3 11 15 4 3 3 1 4-2 15-14 14-6 18 2 15 6 22 3 15-7 11-4 29-2 11-2 40 8 26-2 7 3 11 8 4 0 14-6 18-2 26-8 15-2 14 3 11-1 15 7 15 0 14 3 18 0 15-3 15 3 14-3 11 1 15-4 15 3 18-2 14 0 15 5 15 11 3-1 11-7 22-8 19 9 11-1 7 2 18 18 4 0 14-14 15 2 18-8 15 2 11-1 18 8 26 4 18-4 15 3 11-3 22 6 11 7 11 9 3 1 4-1 11-9 3-2 19 4 3 2 11 12 4 2 4-1 11-11 7-5 15 6 18 3 14 6 4 0 15-7 3 0 11 6 15 0 18 10 19 4 7 1 15-3 21 1 8 4 14 24 4 2 4-2 11-13 3-1 19 11 11-2 18 4 11 5 36 11 15 1 15 8 11-3 11 3 11-1 11 4 21-1 8 2 11 7 18 5 4 0 33-13 3 0 11 7 4 0 25-7 8 0 14 5 8 0 40-6 11 5 15 11 18 11 29 13 15 10 18 9 15 4 25 20 8 3 3 0 22-7 11-9 11-5 11-8 15-1 11-3 7-6 15-17 7-6 29-6 26-7 7 0 11 5 15 3 7-2 11-6 18-2 18 3 19 6 7 1 11-5 18-1 15-7 7-3 8 2 11 10 3 0 4-1 11-12 7-5 15 0 51-16 7 0 15 7 7-4 11-11 11-4 11 0 22 5 4-1 14-13 19-3 22-10 25 1 29-12 22 2 8 3 7 7 4 2 3 0 19-17 7-5 4-1 10 2 15-7 18 5 22-1 19-5 22-12 3 0 11 3 4 0 11-6 7-2 18 3 33-6 19 5 18-9 25-4 15-5 4 0 14 9 4 1 18-5 11-1 22 6 18-4 22 2 15 4 15-6 7-1 15 4 14-5 11 3 15-2 18 1 18 4 15-4 15 0 14-6 19 4 11-1 18-4 22 4 11-4 22 1 14-7 4 1 11 7 26-2 14-7 4 0 11 6 7 1 15-7 22 2 18-6 4 1 11 7 7 2 11 0 14-4 19 7 11-1 14-4 15 5 15 2 14-4 15 0 25-5 15 5 4 0 14-6 8 1 14 4 15 7 7 1 8-1 18-8 18 0 22 6 11-4" stroke="#e00000"/>
<path d="M438 1411l7 1 18 12 8 2 7-2 14-13 4 0 15 7 3-1 11-13 4-2 4 1 11 7 3 5 11 23 4 4 4-1 11-19 3-5 4-1 11 5 11-1 11 3 18-1 4 2 11 11 3 1 15-3 15-11 3 0 11 4 22-1 18-9 22 4 15 8 15-2 14-9 11 5 4 0 25-16 8 1 14 8 8 3 11-1 14-5 15 2 7 4 15 12 11 2 11 1 7-2 11-14 4-3 3-1 11 3 19 15 3 0 19-9 14-1 8 2 11 11 3 0 11-7 11-2 11-8 4 2 11 14 3 1 4-3 11-17 7-7 8-2 11 0 11-8 3-1 4 2 4 4 14 32 7 10 4 2 4 0 3-4 11-13 4-3 7-2 15 4 18 13 11 3 8-1 14-10 18-1 15-6 4 0 11 8 3 1 15-5 18-2 26 14 7 0 11-4 15 1 3 2 4 4 11 23 4 4 3 1 4-2 15-18 7-6 4 0 11 2 14-1 4 0 11 7 3 0 11-7 4 0 33 14 15 1 11 9 11 5 18 12 11 0 11 2 14-3 11 5 4 0 18-9 8 1 18 7 11-1 4 2 11 14 21 8 11 0 11-5 4 0 18 2 15-7 11 7 4 1 3 0 26-13 4-1 3 2 15 14 11 7 14 22 4 4 4 1 25-11 26-3 11-3 18-11 15-11 14-6 4 1 11 8 7 2 30 2 25-5 7 3 11 11 26 10 7 10 11 22 4 3 22 12 15-2 14 5 7 2 22-4 15-7 44-24 7-7 4-5 15-28 18-16 3-1 11 6 4 0 15-13 3-2 8 1 14 10 15 2 15 9 29 1 3 2 15 15 4 0 7-5 4 0 11 4 14 0 19 4 14 10 8 0 25-13 15-18 3-2 15 2 11 6 7 1 19-4 14-6 33-6 15 2 18-2 29-15 19 3 25-7 26 4 11-4 18-12 7-2 8 3 11 16 3 2 4-1 11-21 4-6 3-3 11-1 15-3 18 6 4 0 11-8 22-8 14 1 11-6 15-2 14-6 4 1 11 6 7 0 11-6 22-3 11-10 8-2 7 1 15 11 3-1 11-10 4 0 14 12 4 1 11-1 11 2 7 0 19 7 11 3 22-11 14-11 4 0 11 2 3-1 11-10 4-1 15 6 18-5 11 1 15 8 7 2 15-11 14 2 11-6 4 0 11 8 3 1 15-8 4 0 14 9 8-1 18-6 7 3 19 16 3 1 11-3 11 7 4-1 11-14 3-1 19 8 3 0 11-5 4 0 15 3 14-5 40 5 15-8 7-2 15 7 7 1 19-5 11-1 11-7 7-2 14 3 15 10 4 1 29-12 4 1 14 16 8 3 7-1 22-12 18-5 7 1 19 10 7 3 7 0 15-5 15 2 14-6 4 2 11 15 3 2 4-2 11-14 4-2 22 1 7 4 11 12" stroke="#ff2400"/>
<path d="M438 1428l11-2 14 5 4-1 11-12 7-4 29-2 15 6 18 0 8 4 7 7 4 2 3-2 11-9 18-4 15 6 15 3 7 0 11-2 4 1 11 8 7 2 18-9 11 0 22-5 15 0 11-8 3-1 8 2 18 10 7 3 15-3 4 0 11 5 3 0 11-7 7-1 19 7 3 1 11-2 15 3 7 0 8-3 11-11 7-1 18 2 11 3 18 3 30 4 7-3 11-9 7-2 11 10 8 3 25-7 33-12 7 2 15 11 4 1 3 0 11-5 19-2 18 10 11-1 7 1 7 7 11 24 4 6 4 2 3-3 15-26 7-4 30-4 14 5 8 1 36-7 18 3 15 5 11 0 15 6 14-6 8 1 14 8 4 0 11-5 7 0 7 3 8 7 14 25 4 2 15-14 7-3 15-1 11-7 3 0 18 9 8 1 22-6 18 2 33 9 15-2 7 3 14 12 15 6 15 18 3 3 4 1 7-5 11-13 8-4 3 0 4 0 18 12 37 12 7-2 15-12 7 0 11 3 11 1 11 4 18 20 4 0 4-1 11-10 7 0 22 6 22 19 7 4 4-1 11-11 7-5 4 1 25 8 15-2 14 6 4 0 22-12 15-6 14-3 22-11 11-2 11 0 8 4 14 16 15 10 14 13 33 16 19 14 22 6 14-1 15 3 3-1 15-8 15 2 7-2 15-13 18-27 15-18 21-11 19-7 14-14 8-3 22 6 14 9 4-1 11-7 7 0 26 14 14 14 8 4 7 1 7-2 19-9 18-2 4 1 3 3 11 13 4 0 7-3 11-1 18-7 15-10 15 1 22-8 36 8 7-1 11-8 4-2 4 0 11 8 3 1 4 0 7-7 15-21 4-2 18-4 15-7 7 0 29 10 7-2 15-5 26-3 7 6 7 10 4 3 4 0 3-4 11-20 4-4 4-1 10 0 22-3 15 4 4 0 18-5 15 5 3-1 15-8 29-7 18-12 8-2 3 1 15 9 15 0 14 4 8-1 14-9 15-5 25 6 19-3 18 11 4 0 14-9 26 0 14 4 4 0 18-8 4 1 11 9 4 1 11-5 14-1 15-4 15 3 32-2 8 2 11 0 14 5 4 0 4-2 11-11 7 0 11 4 7 1 15-3 15-7 7 3 14 17 4 3 4 1 3-2 11-11 19-10 7-2 11-1 11-4 7 1 19 8 10-2 8 1 33 10 51 3 7-1 11-5 11-2 26-15 14 5 19 0 7 6 15 17 7 3 11-3 14-7 15-9 11-5 7 1 11 8 4-1 15-9 7-3 4 1 14 11 8 1 29-11 14 2 8-2 14-6 15-2" stroke="#ff1d00"/>
<path d="M438 1419l7 2 11-3 11 8 4 1 10-2 11 1 8-2 11-10 7-2 11-1 26 8 11 11 3 1 4-1 11-10 11-4 29 3 22 4 15-1 11-5 3-1 11 4 4 0 11-7 4 0 14 8 4 0 14-5 8-1 14 3 8-1 11-4 3 0 11 4 26 3 22-2 14-4 8 1 11 6 7 0 11-3 11 2 15 8 3 0 15-8 18-5 11 3 11 1 15 11 3 0 15-7 15-10 7-1 4 2 11 12 7 4 11-2 11 2 14-1 15-5 18 1 11-6 4 0 15 10 3-1 15-8 4 0 14 4 7-1 4 3 4 7 7 20 4 6 3-2 11-23 4-5 4-1 14 0 11 4 11-4 15-3 4 1 3 3 8 8 3 2 15-6 22 2 18 4 22 2 7 0 11-4 8 3 11 11 3 1 15-4 7 1 15 9 14 23 4-1 11-19 4-5 3-1 11-1 11-3 15 0 4 1 10 10 4 2 7-1 15-8 4 1 11 6 14 5 19 12 18-3 18 1 4 1 22 17 14 23 4 2 4-2 11-17 3-2 19 2 11-4 3 0 15 10 11 1 11 12 3 1 15-7 7 0 15 7 26 9 36 6 22 7 15-4 3 1 19 15 7-1 15-13 3-2 8 2 14 11 4 0 11-3 18-8 22-1 15 2 14-5 19 2 7 5 11 15 4 2 14 0 7 3 15 10 15 14 14 6 11 11 4 1 4 0 7-4 4 0 22 16 3 0 11-4 11 3 4 0 14-11 15-6 22-14 11-3 15-1 11-9 11-14 3-2 7-1 11-4 11 2 11-2 11 4 19 0 14-4 11-11 8-5 11 2 10 6 4 0 11-4 15-3 11 5 14 1 15 4 4-1 14-8 8 2 11 6 3-1 15-19 3 0 11 4 15-6 18 1 19-8 11 0 14-5 19-1 10-5 15-11 4 0 3 2 11 10 4 0 11-8 7-3 15 1 11 3 4-1 18-12 14-14 8-2 14 7 4-1 15-7 14-1 8 4 11 15 3 4 4 0 7-5 19-26 7-4 7-1 22 2 22-4 11 6 11 1 7-3 15-13 11-5 7 1 11 8 4-1 14-10 22-7 4 0 15 5 18-4 11-5 4-1 11 7 10-3 8 1 14 11 4 1 18-11 4 1 11 5 4 0 14-9 19 4 7-2 14-7 15-3 4 1 11 6 7 0 7-2 15-3 22-10 4 0 14 9 15 0 18 7 11-5 15-2 11-6 3 0 30 4 14 6 4-2 7-6 8-2 18 4 14 7 15 2 4-1 14-13 4-1 11 6 4 0 11-8 3-1 11 3 11-1 15 2 14 4 4 0 15-10 3 0 11 9 4 1 15-5 3 0 37 11 18-7 15-3 11-6 3 0 11 3 15 1 11 3 11-1 4 0 18 13 3-1 11-12 4-2 4 0 11 8 3 0 22-8 11-2 8 1 18 13 15 2 7 2 7-1 11-6 15-1 14-5 15 5" stroke="#df0000"/>
<path d="M438 1418l11 2 11 6 3 1 15-7 25 3 33-3 8 2 14 12 4 0 4-1 14-12 8-3 18 3 18 1 33 4 22-7 18 2 33-3 33 3 22-2 18 5 15-1 14 2 19-5 29 0 15-3 14 1 11 4 8 1 14-2 18 1 19-4 18 2 26-3 11 2 22-1 18 5 22-1 18 6 18-6 11-1 41 4 7 3 14 17 4 1 15-16 11-2 36 0 15 2 18-1 33 6 26-3 18 4 18 0 19 5 25-1 7 3 15 17 4 1 3 0 11-7 8-2 36 3 18 6 11-1 8 0 33 11 65 8 15 7 15 15 3 0 15-8 15 3 18 2 15-1 25 10 18 3 22 7 30 0 18 6 15 1 18 5 18 1 22 11 4 0 11-3 7-1 26 9 22-9 10-1 22-5 11 0 19 2 14 0 15 3 7 2 15 7 25 17 15 5 18 15 15 9 22 8 15 9 29 6 40-17 15-12 25-16 26-12 18-11 11-5 22-7 11 0 15-4 18 6 33 2 14 3 26-3 18-5 22-1 4 0 11 4 4 0 11-8 3-1 11-1 33-6 22-2 62-18 29 0 22-16 26-6 7 0 11 2 22-8 15 1 14-3 11 0 11-2 8 2 11 7 3 1 8-5 11-12 14-8 29-9 15-1 18-6 8 1 11 5 18 1 7-1 18-7 19-1 36-6 15 1 15-2 29 0 22 4 14-4 22 3 22-4 26 1 22-1 14-4 15 1 15-4 33 1 18-5 36 4 48-3 58 4 11 2 19-5 14-2 19 2 62-2 29 0 11-2 22 6 47-4 19 1 22 5 14-2 11 0 19 5 14-4 26-4 18 0 15-2 25 3 19 0 14-4 26 5 18 1 26-2 7-2" stroke="#e80000"/>
<path d="M438 1422l11-4 3 0 11 8 4 0 11-11 3-2 19 1 11 3 11-6 7-1 11 3 7 4 8 13 7 19 4 6 3 2 4-4 15-31 7-9 7-2 29 7 15 0 11 10 4 1 3-2 11-14 4-2 7-2 11-1 8 1 7 5 7 7 7 3 4-2 11-8 4 0 11 9 3 1 8-2 11-7 3 0 15 13 15 5 7-4 11-12 7-4 22 6 7 0 15-2 18 8 4-1 15-8 3-1 15 6 14-9 15 5 7-1 8 0 14 5 11 6 4 1 11-3 26 8 7-1 15-6 10-1 11 5 11 3 15 9 4 2 3-1 11-6 15-4 15-10 7-1 15 4 7 6 3 6 11 31 4 7 4 0 3-7 11-29 4-6 4-2 18-7 4 0 7 2 15 8 11-4 7 0 7 4 7 7 4 2 15-8 14 1 15-3 7 3 15 9 4 1 11-3 3 1 15 11 7 4 4 0 14-5 15 1 4 3 3 6 8 20 3 6 4 0 15-24 11-13 3-4 4-1 4 2 11 11 3 1 11-4 11 8 4 1 14-2 11 2 11-1 4 0 29 18 15 1 11-2 14 4 8-1 3 1 4 4 11 20 7 8 4 1 4-3 14-18 8-3 7-1 7 1 19 10 14 1 15 11 7 0 11 4 37 3 7 4 15 21 3 3 8-1 14-12 4 1 11 9 11 0 11 3 7 0 4 2 7 6 4 1 3-2 11-14 8-2 11 4 11 14 3 2 11-10 4-1 14-3 11 0 4-1 11-7 7-3 11 0 11 5 11-5 8 0 7 4 11 12 4 3 11-3 14 6 7 1 4 1 11 12 11 0 4 2 11 14 3 2 11-1 19 15 18 8 4 1 21-5 11 3 4-2 11-17 7-7 15-3 11-4 11-1 4-2 11-13 11-11 3-2 11 3 26-10 18 1 15-1 11 3 14-5 8 0 11-1 3 2 11 14 4 2 11-1 7 2 4-1 11-12 3-2 11 7 8 2 7-2 11-6 7-2 4 1 11 8 4 0 11-8 10-4 22-18 11-6 4 0 11 11 4 1 33-17 3 1 11 7 4 1 7-5 11-9 7-4 8 2 14 9 4 0 4-2 11-17 11-9 11-13 3-3 4 0 4 2 14 16 4 1 11-6 18-2 15-11 22-3 7 6 15 23 3 3 4-1 11-22 7-10 11-6 15-6 11-6 7-2 7 0 11 3 11-1 4 1 11 7 4 1 14-12 15 1 29-9 4 0 14 8 15 0 11 3 4-1 11-8 3-1 15 4 15-4 7-3 14-9 8-2 7 1 15 8 25-2 11 4 4-1 11-12 7-3 22 4 11 8 7 1 19-7 14 1 11-9 8-2 11 4 22-1 18 4 22-5 14-4 22 0 8 1 14 10 4 1 33-15 7 0 11 8 4-1 11-7 3 0 11 5 11 2 15 7 7 0 15-9 7-1 8 1 14 9 7 0 15 3 11-2 15-8 11 2 14-5 15 5 15-2 14 8 4-1 11-11 3-1 11 4 15-4 7 3 19 12 7 2 4-1 11-9 18-8 3 1 19 8 7 2 15-9 18-4 18 7 11 8 4-1 11-11 4-1 3 2 11 13 4 0 14-7 4 0 11 6 4-1 14-11 4-2" stroke="#d60000"/>
<path d="M438 1417l29 10 7 1 15-8 3 0 15 6 4-1 11-9 3-2 4 0 7 4 11 2 19 15 3 0 4-3 11-11 11-5 7 2 11 7 4 0 11-8 3-2 4 0 26 16 3-1 11-8 4-1 11 2 11-1 7 1 4-1 11-5 11 5 3-1 19-9 3 0 19 7 14 2 11 6 11 1 18-4 15-10 7-2 11 3 15 10 7 2 11 0 15-3 15 5 7 1 22-5 14 4 15-7 4 0 11 4 3 0 19-13 7 3 15 11 14 1 11 7 4 0 3-2 11-11 11-4 8 2 11 10 7 2 11 0 15-5 11 1 14-5 15 0 3 1 4 4 11 23 4 3 3-3 11-19 8-5 3 0 11 9 4 1 11-3 11 9 4 2 11-5 11 0 14-2 11 3 18 1 11 2 11 0 11 4 19-3 25 11 11-2 11-1 11-5 4 0 14 15 4 1 4-2 11-13 3 0 19 5 18 8 14 1 15 2 15 6 11 0 14 3 22-1 8 1 14 14 4 2 14-6 4 2 11 10 15 9 3 1 15-8 18-1 15 9 15-5 21 2 19 12 11 9 3 0 11-4 4 0 11 6 7 2 11-7 8 0 11 4 11 10 7 4 7 1 11-4 7 0 26 15 11 3 7 1 15-3 18 5 11-1 11 5 4-1 11-10 7-4 26 2 33-5 14-4 4 0 15 17 29 21 7 4 22 3 4 2 14 15 15 3 15 12 3 0 22-6 18-9 15 5 4-1 22-19 29-16 18-18 11-2 22-11 7 0 11 4 8 1 7-4 11-9 4-1 7 1 18 13 37 3 7 2 7-1 8-6 7-2 15 6 3-1 11-6 19-1 3 1 15 9 7 1 15-11 11-3 14-8 22 2 8-2 18-15 4 0 3 1 11 6 8-2 10-9 8-1 11 4 14 11 4-1 15-22 7-6 4 0 14 2 22-3 22-8 15-9 3-1 11 3 8 0 7-1 15-6 3 1 11 9 4 0 11-6 15-14 3 0 11 5 4 1 14-6 19-4 3 1 11 9 4 1 26-15 11 0 3-2 11-10 7-5 19-3 7 2 15 13 3-1 11-6 15 0 11-7 4-1 11 5 14 1 15 4 3 0 15-5 26 6 14-6 11 0 8-2 14-12 4 1 14 9 22 4 11-5 15-11 7-2 8 2 7 6 4 2 11-6 3 0 11 3 11-2 11 3 15-6 14-3 11 4 11-2 11 7 4 0 11-2 15 5 11 2 11-3 10-8 4 0 15 6 18-5 26 2 29-9 7 3 15 11 11 4 18-2 11-8 7-3 8-1 14 2 15-4 4 0 11 6 3-1 11-7 4 1 3 3 11 13 8 2 7-3 11-9 7-2 8 1 14 8 4 0 11-7 36 1 15 2 11-6 4 0 11 5 11 1 11 4 3-1 15-10 4 0 18 3 18 10 4 0 11-9 7-3 11 2 15 7 7 1" stroke="#e40000"/>
<path d="M438 1415l11 1 11 8 3 0 18-12 8-2 25 10 15 0 11-3 4 2 7 7 7 2 11-3 11-14 4-2 4 1 10 8 4 1 18-5 19-2 3 2 11 8 4 0 7-5 4-1 11 1 15-5 7 1 11 6 7 1 22-5 22-13 7 1 19 12 18 2 11-3 14 4 22-5 11-6 11-2 22 3 15 5 11 2 15 5 10-1 11-4 22-1 22 4 11 3 4-1 11-7 4 0 11 5 3-1 11-7 11-3 4 0 3 3 11 14 4 3 11-2 15 6 14-8 15-6 11-7 7-1 8 2 11 7 7 9 11 17 3 0 4-5 7-16 4-5 4-1 14-1 4 1 15 11 3-1 11-9 8-3 3 2 11 10 18 12 4-1 11-11 4-3 3 0 8 4 14 12 8 3 14-3 11-4 8-1 7 0 4 2 11 9 18-2 11-3 3 1 4 3 11 20 4 2 3-1 11-12 4-1 7 0 11 5 8 1 7-4 11-9 4-1 7 4 14 12 11 5 15-2 11 1 7 2 15 6 11-2 11 6 4 1 11-3 18 2 7 8 11 24 4 5 3 1 22-24 8-5 3 1 19 15 18 5 25 16 8 1 3-1 15-14 7-2 8 3 14 16 19 3 11-2 3 2 11 13 4 2 4 0 10-8 8 1 7 3 11 11 7 4 4-1 11-10 15-4 7 2 11 10 4 1 11-5 21-3 11-4 11 3 4 0 11-5 11 1 11-5 7 0 8 4 14 16 4 2 11 2 14-1 4 1 15 12 18 5 7 6 11 13 11 7 11 2 15-2 15 3 21-3 19 7 3-1 15-13 29-6 11-10 11-7 22-23 7-4 11-3 15-8 4 1 11 8 7 2 4-1 11-6 11-2 11-4 21 1 11 0 8 2 18 14 4 0 3-2 11-8 19-3 11-5 3 1 11 7 4 1 4-1 11-10 3-1 15 5 7-1 15-15 3-1 11 1 19-6 22-13 3-1 15 3 14-10 15-3 4 0 11 7 3 0 4-2 11-13 4-1 11 3 3-1 19-10 7 0 11 4 4-1 18-15 3-2 4 0 15 8 3 0 19-7 11 0 11 12 3 2 4-2 11-12 4-1 29 0 14-6 19 1 11-4 11 0 3-2 11-11 4-1 15 7 11 2 7-4 7-8 4-2 3 0 11 9 15 6 4-2 18-14 7-3 15 7 18 5 11-5 7-1 22 1 11 3 19 2 7-3 11-10 4-2 3 1 11 7 4 1 29-7 15 5 11-2 18 7 22-1 15-4 11-8 22-5 14 4 4-2 11-11 3-2 4 0 26 17 7 0 15-12 7-2 7 3 15 10 22 9 7-3 11-10 11-2 7-2 4 0 4 2 11 11 3 1 4 0 15-14 11-5 7 2 11 11 3 2 11 1 4 0 11-6 15-5 18 6 4-2 11-9 3-1 19 7 14 9 7 3 4 0 15-8 18-1 15 2 14-8 8-1 25 2 15 12 3 0 11-2 11 2 8-3 11-13 3-3 4-1 22 10 18-5 8 0 14 12 4 1 18-5 15-11 3 0 15 10 11 2" stroke="#ff1400"/>
<path d="M438 1419l18-4 11 6 4 0 10-6 15 8 15 1 3-1 15-12 7-3 19 9 11 9 3 1 4-2 11-9 7-2 22 8 26-3 3 1 15 13 4 0 11-11 7-3 18 4 18-6 30-5 7 0 11 3 11 0 11 1 11-4 4 0 11 5 29 7 3 0 15-9 15-3 25 2 33-6 8 2 10 8 4 1 15-5 7 0 15 8 3-1 11-10 8-3 14 4 15 14 7 4 11-3 29-16 19 4 11 14 3 3 4 1 15-11 18-3 4 1 11 8 21 5 15 12 4 0 11-8 18-2 15-8 7 1 15 4 14-4 15 5 11-1 7 2 4 0 11-10 3-1 11 6 26 7 18-9 8 3 11 12 3 2 4-1 11-8 3 1 15 15 15 9 7 3 7-1 4-3 11-14 4-3 3 0 11 8 4 1 18 0 18 10 4 1 11-3 4 2 11 9 11 0 14 7 4 0 11-7 7 0 15 15 4 1 7-4 11-12 3-2 4 2 4 5 11 21 3 4 4 1 15-6 11-9 3-2 4 1 11 8 15-1 18 5 11 12 3 3 15-3 15 5 14 8 15-2 18 8 22 1 15 6 11-7 7-1 7 5 15 15 4 2 3 0 15-12 4-1 3 0 11 4 8 1 14-10 11-4 11 3 15-3 14 5 8 1 7-2 11-4 4 0 7 3 22 17 7 2 11-1 4 1 11 8 14 18 22 12 15 2 4 2 11 16 3 3 4 0 11-7 4 0 11 5 10-1 11 2 22-8 11-13 4-2 11 6 4-1 14-17 4-2 15 0 3-3 15-22 14-4 11-5 8 0 14 9 8 3 7-2 11-9 7-1 22 13 4 0 18-8 15-1 18-8 7 3 11 10 4 2 4-1 3-4 11-15 4-4 4-2 3 1 15 10 7 2 18-5 11-5 19 7 7-2 7-5 19-18 7-3 7 0 22 5 15-7 22-5 14-5 4 1 11 8 4 1 3-1 19-15 7-1 26 2 21-15 11-2 11 2 4-1 11-8 4-1 11 4 14 16 4 0 4-4 11-20 3-4 4-2 11 3 11-1 7 1 22 8 7-3 19-11 14-3 30-11 7 0 18 5 18 1 8-2 11-7 3 0 19 1 14 6 37-13 11 1 11 5 3-1 8-9 3-2 4 1 11 14 4 0 11-7 18-10 18 7 15 11 3 0 4-4 11-14 4-1 11 5 11-2 11 2 18-3 15-5 25 4 22 7 7-2 19-10 7 1 11 7 11-2 11 2 15-5 14-1 11-5 4 0 11 8 7 2 15-6 14 0 22-6 22 2 18 9 15-4 11 2 18-6 26 8 22-8 7-1 8 3 10 10 8 1 18-10 4-1 7 0 11-2 18 0 19 4 11-7 3-1 18 10 11-1 19-8 7 2 11 6 4 1 11-3 11-9 3-1 4 2 11 12 4 1 14-8 7 0 22 10 15-8 11 0 11-5" stroke="#fd1100"/>
<path d="M438 1415l22 2 14-5 62 3 8 3 14 16 4 2 4-1 14-15 8-5 10-1 15 0 15-2 11 3 14 9 8 2 18-5 29-1 15-3 14 1 15-3 22-1 15 2 18 10 18-8 22 3 18 0 15-2 22 1 26 5 18-2 36-1 19 2 36-1 26 3 29-1 7 2 15 7 7-1 15-6 7-1 44 5 7 7 11 18 4 1 4-3 14-23 8-4 11 0 18 5 22-3 7 1 15 5 18-3 18 2 30 5 18-1 7 2 15 12 4 1 3-1 11-8 11 0 7 3 4 4 15 20 3 0 11-15 8-6 18 3 15-1 21 5 19-4 18 7 40 2 19 6 14 1 15 4 7 3 15 22 3 2 4-1 15-16 7-2 15 5 18 3 11 3 18 8 4 1 18-3 15 3 22 3 18 8 15-1 29 6 14 0 11 5 11 11 4 1 18-11 15-2 15 3 14-6 33-4 7 0 22 4 22-1 26 11 22 7 18 18 15 12 51 35 18 7 22 1 15-2 18-9 44-30 15-16 18-12 33-13 22-7 11-1 18 1 15-2 36 6 15 0 14 3 15-4 29-2 15 7 4 0 11-9 7-4 22-4 25-1 19-10 29-7 25-1 15-2 7 1 11 5 4 0 18-14 19-4 14-5 11 0 15-5 18-1 22-5 11 1 11 4 15 13 3 0 4-3 15-16 7-4 33-4 22-6 18 0 15 4 47-12 29 0 30-6 18 4 44-7 18-1 15 2 14 5 37-8 55-2 14 1 19-4 18 0 15-3 22-1 25 3 55-1 18 2 22-4 7 2 11 6 4 1 18-7 30 0 18 3 18-4 37 3 25-2 19 2 11-2 25-1 29 4 26-3 26 1 14 2 19-4 29-2 62 0 18 4 15-3 29 0 22-3 22 3" stroke="#e70000"/>
<path d="M438 1421l7 1 11-4 11 3 7 0 15-4 3 0 11 6 15-3 11 5 4 0 11-8 7-2 4 0 11 9 3 0 11-9 4 0 11 5 3 0 15-12 4-1 22 6 11 13 7 5 7 0 15-9 11 1 4-2 11-9 7-2 14 10 11 3 22 0 19-7 11-2 3 1 15 10 22-3 7-3 4 1 11 8 7 1 15-4 14-1 15-9 15 2 32-5 15 5 11 2 4-1 11-8 3-1 15 10 4 1 11-2 33 4 18-2 25 5 11 3 15-3 18 7 26-7 4 0 11 6 3 0 11-4 4 2 11 12 3 0 8-4 14-13 8-2 7 2 15 10 3 2 19-3 21 2 15 3 11-1 11 3 26-5 3 2 11 10 4 1 11 2 15-5 14 5 11 1 11 1 7 4 11 9 4 1 11-4 11 2 22 0 11-12 4-2 3-1 7 5 11 13 8 6 3 0 11-8 4 0 11 2 7-2 4 1 11 10 11 2 11 4 11 1 11-2 7 1 11 9 11 14 7 6 4 1 7-3 11-8 4 0 11 8 15-2 11 0 7 4 7 5 15 1 11 5 11 2 29 13 15 1 14 5 8 1 18 9 7 0 18-9 8 1 3 2 11 16 4 2 11-6 4-1 11 3 11-1 11 2 11 0 11 2 18-8 14-1 8 3 11 12 7 4 7 0 11-5 4 1 11 8 11-1 11 1 7-3 7 0 19 10 11 4 14 14 8 2 14 10 22 2 11 4 11-3 4 0 11 8 3 1 15-5 15-11 3-1 11 1 8-2 18-17 15-5 21-14 15-16 7-4 22 2 4 0 11-10 4-1 3 1 11 8 4 1 15-6 14 1 15 6 18-5 7 2 15 8 4-1 11-8 7-3 11 0 18-3 11 6 4-1 4-2 10-14 4-2 15 1 22-5 11 2 14-9 15-2 11 0 15-9 10-1 15-10 15 1 14 6 8 0 11-4 14-9 11-4 4 0 11 3 11-8 3-1 11 3 4-1 11-10 11-5 4 1 11 5 11-5 14 3 11-5 19 2 3-2 11-11 4-2 11-3 11-10 3-2 4 2 11 10 4 1 3-1 11-7 15-1 7 2 11 8 4 1 7-2 11-7 33-8 15 0 14 7 15-7 15 3 11-4 14 0 11-5 15 2 14-3 4 0 15 6 7-3 11-11 4 0 14 12 11 1 11-3 15-11 7-2 18 7 15 0 29 3 8-1 14-12 22 6 7 0 19-3 22 11 3-1 11-6 22-7 11 4 15 2 14 11 8 3 3-2 11-14 4-3 18-3 11-6 4 0 18 1 11 12 4 2 14-5 22 5 8-2 11-6 3 0 15 8 4 0 11-11 7-2 7 2 15 9 4 0 14-6 4 0 3 2 11 12 4 2 4 0 14-6 15 2 15-9 14 6 15-5 18 3 15-6 14-2 11-7 4 1 11 5 18-3 8 4 11 8 7 2 11-5 11 1 11-6 14 5 11-3 8 0 7-2" stroke="#b80000"/>
<path d="M438 1422l14-3 11 7 4 0 11-6 14-2 30 0 14 3 19 15 7 1 7-5 11-15 8-4 36 4 11 5 15 10 3 0 8-3 11-11 7-5 4 0 11 6 7 1 55-5 7 2 15 8 3 0 15-6 11 3 15-6 25-1 11-1 15 3 14-3 11 4 15-4 15 2 14-4 7 2 15 5 18 1 15 3 7-1 11-4 4 0 15 8 11 0 11 4 7-2 14-14 8-1 11 4 14 13 11 4 8 0 7-2 22-13 7 1 11 8 11 1 4 3 3 5 11 22 4 4 4-1 3-4 8-14 7-10 7-4 26 0 15 6 11 2 14-5 11 0 11-1 37 3 14 4 22 1 8 4 11 12 3 0 11-11 4-3 3-1 15 7 15 18 3 3 4-1 15-12 11-6 3-1 26 12 14-1 11-2 19 1 11 5 25 10 37-5 14 2 11 8 19 29 3 3 4-1 15-15 7-4 7-2 30 9 11 2 14 5 15-8 3 1 15 13 4 1 11-3 7 0 15 9 7 2 22 3 11-5 7 0 18 8 11 3 4 2 11 12 4 0 14-7 19-1 11 2 14-5 15 4 14-3 11-1 15-3 22 6 15-6 36 3 7 4 30 26 18 8 26 24 14 10 8 3 7-2 7-7 7-3 15 0 15 2 3-1 11-8 11-4 11-7 15-6 18-12 22-21 15-4 14-10 22-5 8-1 29 5 15-4 14 6 4 0 11-3 22-1 14 7 30-4 7 2 11 5 4 0 11-6 18-3 18-6 22-1 29-17 4 0 15 5 11 0 18-6 7-1 7 3 11 11 4 0 4-2 14-21 8-4 22-5 11 4 3 0 11-9 7-4 15 1 18-2 8-3 11-8 3 0 4 2 7 9 8 14 3 5 4 1 4-2 18-26 7-7 11-4 18-1 15-4 15 3 18 1 11-3 15 0 11-6 25 3 15-5 14 4 26-11 15 3 7 0 15-9 7-3 29 9 15-7 3 0 11 12 4 1 29-14 4 0 11 6 7 2 29-11 8 0 14 4 19-6 7 1 11 4 15-3 14 0 18 6 15-5 15 2 25-10 8 1 25 8 8 1 18-10 18 8 15 3 18-5 22-4 15 3 22 2 14-5 26 3 22-3 18 3 11 3 18-6 29 7 22-5 11-5 8-1 18 6 15 9 3-1 19-12 7-3 18 9 22 3 22-5 15 3 14 0 26-5 18-1 15 2 11 0 7 1 11-2" stroke="#b80000"/>
<path d="M438 1418l11 2 14 7 4-1 11-7 14-2 8 0 18 2 18-1 11 4 15 14 4 1 3-1 19-12 14-5 22 3 18 0 19 7 3-1 15-8 7-1 8 1 21 7 26-3 40 2 26 3 18-7 29 2 15 3 26-4 47 1 18 2 19-2 33 0 18 2 18-2 40-2 15 3 15 8 3 1 19-7 25 0 19-1 7 2 14 19 4 3 4 0 3-2 11-12 4-3 7-2 52 2 25 8 18-5 11-1 19 1 25 4 15-1 15 9 3 1 15-5 14 5 8 6 11 18 3 2 4-1 11-17 7-3 22 3 33 8 22-4 33 6 26 1 18 8 18-1 11 4 7 9 11 19 4 1 11-15 7-5 33 2 15 5 22 11 22-1 14 5 22 3 19 12 14-2 19 4 29 2 7 3 11 11 4 1 11-8 7-2 15 3 11 6 3 1 15-7 18-3 22-2 48 6 18 0 7 3 37 25 14 8 19 16 25 16 22 8 22 3 15-2 29-9 22-17 15-8 25-22 15-7 14-10 33-16 11-1 19 1 18-2 29 4 37 2 14 2 26-2 15 4 3-1 15-10 7-3 44-5 15-7 33-6 18-8 7-2 15-1 14 10 4 1 4 0 14-10 8-2 25-7 15-1 11-4 18-3 18 1 15-3 15-1 14 9 4-1 15-21 7-5 11-3 25 0 19 2 22-7 14 2 44-4 37-9 36-1 15 3 33-4 29-6 7 0 15 5 15-5 29 1 22-7 18 2 15 5 3 0 11-2 59-2 14-3 59 4 29-4 19 0 7 1 18 6 15-8 14-2 117 9 55-6 18 4 30-3 29 3 15-4 11 1 11-2 43 1 26-4 22-1 7 0 19 6 29 1 25-4 26 0" stroke="#b70000"/>
<path d="M438 1418l7 1 7 2 11 9 4 0 11-11 3-1 19 6 18-5 15 1 18 5 15 21 3 1 15-18 18-7 18 1 22-3 15 9 4 1 11-5 7-1 7 0 11 3 8 0 18-8 11-3 25 2 22 6 15 0 15 4 29-12 3-1 15 6 7 1 15-3 15 1 14-1 19 6 3 0 11-3 22-2 15 2 29 1 11-6 4 0 22 5 18 1 11 3 29-2 4 1 11 8 3 2 22-8 22 2 22-2 7 3 4 5 11 28 4 3 3-4 11-24 8-6 7 0 11 2 18-4 15 1 11 3 14 8 4 0 11-6 15 2 18-5 22 7 15-1 25 15 4 0 14-9 8 1 11 9 11 20 3 5 4 1 4-3 11-18 7-4 18 1 29 6 15-1 15 6 22 2 14 10 4 1 15-3 22 1 7 4 11 9 11 5 3 4 11 22 4 3 4-1 11-16 3-3 8-2 11-1 29 12 25 17 8 0 14-4 19 1 18 5 15 6 22-1 25 7 18 8 8 8 7 11 4 3 3-1 15-12 7-2 11 3 11 6 11-3 4 0 18 8 18-2 22 5 15-1 29 18 15 6 14 2 11 7 11 4 15 10 15 2 14 8 15 5 15 0 18 5 14-3 15 1 7-1 15-12 18-11 8-1 11 0 3-1 22-19 18-9 33 0 15-7 33-12 18 1 18-6 22 2 22-6 15 3 7-4 11-7 4-1 4 1 11 9 3 0 4-1 11-8 14-6 11-7 11-1 19 5 29-20 15-2 14-5 11-1 15-7 3 1 4 4 7 11 4 3 4 0 3-3 15-21 4-3 3-1 11 0 15-10 33-1 25-12 11-3 8 1 7 5 18 21 4 2 4-1 3-5 15-28 11-8 14-3 15-5 33-4 4 0 11 8 3 1 11-6 19-6 29-7 11 0 11-2 18 2 15-5 25 1 11-3 29-2 11-3 8 1 18 10 4-1 11-9 7-3 15 1 14 6 33-4 15 4 11-3 11 0 14-7 11 1 30-1 18 2 14-2 22 0 11-2 15 3 26-7 25 4 15 8 3 0 15-7 7 0 11 2 15-6 33 4 25 6 8 1 14-5 30 0 18-7 7-1 15 2 14-1 11 6 4 0 33-4 44 7 15 0 25-5 18 0 19-3 14 4 26 3 22-9 22 0 14-2 8 2 11 6 7 2" stroke="#820000"/>
<path d="M438 1424l11-1 14 3 15-4 22-1 14-4 4 0 18 3 8 4 14 12 4 2 4-1 3-3 11-15 8-4 18 7 22-1 18 3 11 5 4-1 14-5 15 2 15-3 18 4 36-5 15 1 11-3 4 1 14 11 4-1 11-10 7-3 15 7 14 2 22-6 15-1 7 1 11 4 22-1 22-3 15 5 25-7 4 0 15 10 7 0 11-5 7 0 11 3 15 6 22 2 7-1 15-5 25 3 22-5 19 1 14 3 4 2 14 24 4 1 4-3 11-19 3-4 4-1 40 2 22 7 18 4 8-1 14-6 8 0 18 7 18 0 11 5 11 2 15 8 4 0 10-4 19-2 3 2 15 16 4 0 14-11 11 2 11-1 11 2 11-2 8 1 32 16 8 1 14-3 15 7 4 1 18-3 15 7 3 0 11-5 7-1 15 12 15 24 3 3 4 0 22-17 4-1 11 3 11 1 14 6 15 3 33 12 14 0 19 13 11 1 11 3 29 12 4 1 14-3 7 1 8 4 14 12 4 1 11-4 7-1 19 4 11 7 14-1 26 9 29 2 15-1 11 3 11 1 7 4 15 4 11 12 3 2 7-1 8 3 22 18 7 1 18-1 26 7 15 9 14 3 7-1 19-8 14 2 22-7 11-9 4-1 7 1 4-1 11-12 11-4 14-10 11-4 19 0 11-5 14-2 22-14 8 0 11 3 14-3 15 3 14-4 11 0 19-3 25-13 15 1 11 4 4-1 14-16 4-1 11 3 18-6 15 0 14-10 19-8 3-1 11 0 19-6 14-2 15-4 3 0 11 6 4-1 15-15 7-5 15-2 22 0 18-11 25-7 8 0 11 3 14-5 4 2 11 12 4 3 3 0 4-2 15-20 3-2 4 0 11 2 3-1 15-13 4-1 11 4 36 2 4-1 11-8 11-4 22-1 11 2 14-5 11 1 11-1 19-12 18 3 11-4 7-1 8 2 14 10 15 1 7-3 11-8 7 1 11 6 4-1 11-8 4-1 14 1 15-5 11 1 18 8 11-1 11 2 4-1 11-10 3-1 22-2 15 5 22-4 11-1 25 4 8-1 22-9 25 8 11-2 15-4 7 0 15 13 3 2 4-1 11-12 4-1 11 3 11-4 3 0 37 10 7-2 11-8 7-3 8 2 11 7 7 0 15-11 3-1 19 4 11 6 3 1 15-4 15 4 10-2 15-1 11-6 15 0 14-6 8 1 18 12 11 1 15-4 14 0 11-3 15-6 7-2 15 5 14 15 15 3 7-2 15-11 7-2 26 5 22-3 18 1" stroke="#810000"/>
<path d="M438 1416l14-3 15 3 18-6 7-1 30 3 11-1 33 14 7-1 11-6 14-2 19 4 25-1 19 6 18-5 18 1 18-6 48 5 7 0 15-4 37 4 14-3 15-5 18 2 15 4 14-1 26 1 22-3 22 2 18-1 26 7 18-2 18-5 26 3 18 7 15-2 14 3 22-2 19 4 7-2 15-9 7-1 7 3 15 13 3 0 11-4 19-1 18 3 18-3 19 0 14 3 15 1 25 0 41 11 36-4 7 0 11 4 19 10 7 0 11-3 11 0 26 5 18 9 3 0 15-5 11 2 18 0 44 12 8 0 11-4 3 1 11 6 11 4 15 11 7 3 29 1 15 2 18 0 29 15 19 0 25 10 22-1 19 9 29 0 7 3 15 9 14 4 8-1 11-4 18 0 11-3 15 4 18-8 11-2 14-6 15-1 22-4 7 1 22 10 22 7 73 59 11 4 22 6 18-3 15-8 18-6 15-6 7-5 19-17 18-9 18-15 11-4 22-1 15-4 14-1 19 5 25-3 15 5 14 4 15-2 15 3 18 1 37-7 14 3 8-3 18-11 14-2 11-4 26-1 11 2 26-4 11-7 14-4 15-7 18 0 7-2 15-12 7-3 19 1 18-2 18-7 22-2 26 0 22 2 11-3 25-17 18 0 26-5 15 3 11 0 14 1 15-2 11-4 25-2 19-4 18 3 18-3 48 1 22-5 14-7 19-2 3 0 15 7 18-6 15 5 18 1 29-8 15 1 15-3 11 1 14 4 19-1 11-3 21 0 22 5 15-3 11 1 11-3 11-6 7-3 37 7 25-2 19-4 40 3 18-7 18 2 19-1 14-2 19 5 25-4 26 7 22 2 14 6 4 0 11-6 22-8 7 0 11 4 15-1 11 2 14-3 15 0 15-6 3 0 15 7 11 3 22 1 22-5 11 3 11 1 14 5 15 0 11-2" stroke="#b10000"/>
<path d="M438 1405l7 5 15 19 7 5 7-3 15-16 3-3 4-1 22 3 11 4 11-5 4 1 18 19 7 3 8-3 14-14 4-1 14 9 11-5 4 0 11 4 15-7 14 3 11-5 4 0 4 3 7 7 7 2 18-3 8-5 11-2 11-6 3-1 11 6 4 1 11-4 18-1 26 7 4-1 10-11 4-2 15 5 7 1 15-2 14 4 8 3 7 7 7 3 8-1 14-7 18 3 15-3 11 3 11-1 11 3 15 0 22 7 7-2 15-9 14-3 26 4 14 5 11 7 4 0 11-7 11-4 15 5 11-5 11 5 3 0 7-3 19 1 11 5 11-3 3-1 15 5 11-2 4 2 11 12 3 1 11-3 15 5 3-2 11-15 4-2 4 0 25 12 22 1 11 8 4 1 15-6 11 2 10-1 11 4 15-3 4 1 11 10 3 0 11-6 8-1 14 6 11 3 19 10 3-1 11-7 15-2 22 10 14 4 11 6 4 0 15-6 14 7 11 1 15 10 14 5 19 10 3 1 11-1 4 1 11 9 4 1 11-2 11 1 14-1 11 6 15 3 11 5 14-2 15 10 11-1 4 1 11 10 7 3 7 2 15-7 7 1 15 7 18 4 29 15 15-2 11 7 4 0 11-12 3-2 4 1 4 4 10 12 4 0 11-5 4 0 11 6 3 0 11-8 4-1 4 1 11 9 14 1 4 4 11 16 4 1 11-1 3 1 15 15 11 4 18 10 18 2 15 11 7 1 11-6 8-3 3 1 15 11 11-4 3 1 8 3 3 0 4-2 7-9 8-6 22 0 14-11 19-7 29-15 11-2 3-2 11-12 4-1 7 0 11-3 15 2 15-8 14-3 15 3 11-4 3 0 11 6 8 1 22-7 7 0 15 6 3-1 11-11 4-2 11 3 4 0 14-11 15-7 14-10 4 0 11 6 4 0 7-3 15-11 11-2 29-12 4 0 14 9 11 0 15 4 7-5 15-24 3-4 4-1 15 5 18 0 15-9 21-2 15-7 15-4 11-5 7 1 11 10 7 2 8-4 18-23 7-6 4 0 11 5 29 3 15-6 14 0 22-4 15-6 14 7 4 0 15-6 14-3 15-5 11 2 15-2 14 2 15 10 7 1 11-5 15-14 3-1 8 4 3 0 11-5 19 5 11-2 14 0 11-4 4-1 14 4 22 1 11-5 15 2 26-13 11 2 25 14 4 1 22-5 11-4 14-2 19-8 22 6 14 1 15 6 14-3 15 3 7-4 11-10 4-2 7-1 30 8 7 1 11-3 7 1 15 7 11-6 3 0 11 8 8 3 7-3 11-9 15-5 22 8 29 1 14 4 26-1 15-10 3 0 11 9 4 1 4 0 11-9 7-1 15 4 18 14 7 3 4 0 11-7 3 0 15 2 7 0 8-4 11-9 3-1 15 6 22 1 7-2 11-5 37 1 7 2" stroke="#830000"/>
<path d="M438 1420l11-3 11 2 11-6 7-2 22 6 11 5 7-1 11-3 15 0 7 3 11 13 4 1 14-11 4 0 14 5 19-3 14 4 11-1 11 1 8-1 14-7 8-2 47 5 7-1 11-7 4 0 15 6 18-7 11 2 15 6 21-9 11-2 8 1 18 5 44 2 11 4 25-8 22-2 19 6 33 5 3 0 11-6 8-2 18 7 14-4 15 1 22 6 15-6 7-1 7 2 15 8 7-2 11-8 4 0 7 3 15 17 3 3 4 0 4-2 18-20 7-3 11-1 33 10 19-1 40 9 7 0 15-4 14 9 4 0 11-4 4 0 18 9 11 3 11 5 18 0 15 9 3 0 15-9 4-1 11 3 14-1 19 7 7-1 14-6 19 4 18-2 26 6 18-1 11 3 25 13 8 7 11 17 3 3 4-1 15-15 22-4 14 2 19 7 29-1 22 9 14 1 11-3 4 2 11 8 4 1 11-2 11 0 11-4 21 2 15 6 15 9 36 4 8-2 11-6 29-5 14-5 8 1 11 5 3-1 11-6 4 0 11 4 15-1 22 7 21 15 19 3 11 8 14 14 19 5 25 17 26 9 11 2 7-1 15-10 18-10 40-43 8-3 14-2 15-12 14-8 22-6 19-1 11 2 14 0 22 4 15-2 14 5 15-2 22 8 15 0 7 1 15 8 7-3 14-12 4 0 11 5 4 1 3-1 11-8 4-1 7 0 22-4 11 1 15-5 18 4 18-4 19 8 3-1 15-14 18-11 11-4 26 3 22-3 14 0 33-6 4 1 11 10 4 2 3-1 4-2 15-16 7-4 14-1 11-3 11 0 15-7 18-2 11 4 8 1 11-5 7-2 15 7 7 2 40-9 15-6 18 1 7-2 15-7 33-4 14-4 8 2 25 13 22-1 30-7 25 8 11 5 4 0 18-4 11-6 22-7 22 0 15 3 10-3 11 1 15-1 26 8 14-2 15 1 15-7 11-2 7 1 22 5 18-2 11 2 15-8 3-1 11 5 4 0 11-4 15 6 21-7 19 3 14-6 4 0 11 3 11 1 11 3 15-4 14 0 15-3 3 2 11 9 8 3 11-2 11-8 3-2 19 8 3-1 11-6 8-1 29 3 14 4 11-3 15-1 11-8 7-2 8 4 11 9 3 1 11-4 15 4 14-1 19 6 18-8 11 2" stroke="#b20000"/>
<path d="M438 1416l7 0 18 5 15-7 3-1 8 2 14 6 8-1 11-3 11 0 11 2 14 9 8 2 7-4 11-11 7-4 4 0 11 5 25 0 15 6 26 0 29-8 14 2 15 0 26 8 7 0 15-3 11 1 11-2 14 8 4 0 18-5 15 1 14-5 19 3 40-3 11 3 14 0 15 5 11-2 29-2 11-3 15 5 15-1 25 3 18-2 33 6 19-8 18-2 15 4 36 16 4 0 3-2 8-8 3-3 4-1 22 9 11-2 18-7 11-1 8 3 10 8 8 4 22-4 14 3 11-5 8 0 29 7 18 9 7 1 11-2 19 4 14 9 4 1 11-5 18-4 26 3 14 4 15-5 22 6 15 6 36 6 33 8 15 2 18 9 15-6 7 0 18 7 19-1 14 8 22 2 18 7 19 1 11 1 22 10 14 1 11 3 26 5 14 0 19 6 29-7 18 5 19 0 18-6 25 3 15 0 15 2 18 6 15 8 21 5 19 16 14 4 22 13 30 21 22 5 36-7 22-13 18-17 8-4 18-5 29-20 33-14 22 2 15-1 18 2 15 6 7 1 33-6 14 3 19-6 11-2 18 3 18 2 15-8 11-2 11-6 29-5 15-6 29-2 18-6 40 2 19-10 22-9 14-3 15 0 18-3 33-11 29-2 15 2 29-12 7 0 11 3 19-7 18 2 18-1 26-8 18 2 11-4 18-2 11-3 11 0 11 3 8 0 22-9 22-2 25 5 22 1 18-2 41-7 14 1 15-3 22 2 11 2 11 0 7 2 4 0 14-6 30-5 29 5 14-5 30 3 18-5 15-1 11 1 18 9 18 2 33-9 15 1 18-6 7 2 11 7 4 1 14-5 22 0 37-6 15 6 25 3 29-2 15-3 15 3 22 0 11-2 14-6 8-2 7 1 22 7 18-4 29 1 19-4 22 2 14 4 37 6 14-5 15 2" stroke="#a00000"/>
<path d="M438 1421l22 2 21-2 15-5 7-1 41 4 22 11 18-3 14 0 15-5 4 0 14 4 11 0 15 2 15-4 14 2 15-2 29 3 18-6 8-1 18 1 18-1 11 5 8 1 29-4 14 5 8 0 7-2 15-8 7-1 18 5 40-1 19 4 14-5 15 0 15-1 29 6 11 0 11 1 14-2 26 8 11-2 15-8 7-1 44 7 14 0 11 2 30-4 14 8 8 2 25 1 19-2 14 3 22 0 15-5 7 2 11 6 7 1 22-6 22 11 15-4 7 0 7 4 15 13 7 2 15-3 15-7 3 0 11 3 26 13 7 0 18-3 15 1 26 14 14 2 15 6 18 3 15-2 25 6 8-1 11-4 7 0 7 3 11 9 11 6 26 6 11 8 3 1 15-2 7 1 22 9 19 10 11 7 7 3 18-6 4 0 18 5 15 0 18 7 18 3 8-1 11-3 3 0 15 5 18-4 15 2 11-3 7 1 11 4 11 3 15 8 14 2 19 1 47 28 4 1 11 1 3 1 15 12 22 13 18 1 18 5 59-25 15-9 14-6 15-5 14-7 11-5 19-1 14 4 4-1 11-4 15-2 25-10 8 0 10 1 8-1 11-3 18-8 7 0 26 6 4-1 11-5 14 2 15 0 22-12 22-5 14-7 19-2 14-3 11-5 15-2 14-10 11-4 11-2 19 3 18-5 15-1 14-7 11-1 22-7 22-13 22 1 11-1 18 7 4-2 15-16 18-6 18 2 15-5 11-1 18 3 15 5 3 0 15-7 15-4 21 3 15-4 18 0 15-7 11 0 33-6 18 0 18-10 4 0 15 6 14 2 26-3 22 2 14-5 22-5 4 0 15 6 18-8 11-2 7 1 15 6 7-2 11-5 15-1 18-4 22 0 7 1 11 4 55 4 18 4 19-4 29 3 22-1 18-3 18-5 15 2 15 3 22-3 18 3 11-2 15 0 18 8 14 1 11-1 30-8 7 0 11 4 7 1 19-6 40 7 14-4 19 4 25-6 19 2 18-5 14 3 26-3 22 5" stroke="#8b0000"/>
<path d="M438 1420l11 0 14 3 29-7 15 3 18 0 22-1 19 8 22-6 21-1 37 3 15-1 18-4 22 4 40 0 18 2 15-2 15 1 18 3 15-2 25 0 18-2 15 2 29-2 19 2 11-2 18-2 18 3 81 5 18 3 18-1 29 1 19-3 22 3 11-2 11 0 7 1 14 11 4 1 15-8 7-2 40 2 40 4 26 0 15 2 44 0 7 1 18 7 18-5 8 2 14 10 8 3 29-4 62 7 18 4 19 0 18 5 51 7 29 18 22-5 55 9 15 5 14 0 19 4 18 7 15 1 11 3 14 1 22 7 22 2 22 8 22-3 22 4 15-1 21 2 22-1 26 4 15 5 14 2 22 9 29 18 19 8 29 18 26 12 25 6 18 1 11-1 11-5 26-16 37-26 40-24 29-13 18-5 22 1 29-5 33 4 19-2 18 0 15-3 25 2 26-8 18-2 22-5 26-1 29-7 11-5 18-4 22 0 22-13 15 2 22-4 7-2 11-7 22 4 40-8 18 5 4-1 15-11 7-2 36-1 22-6 26-2 18-4 44-1 73-10 22 0 22 2 22-3 22 1 26-2 18-6 18 3 22-3 18 0 33-3 15 3 22 1 22-3 14 4 33-7 19 1 36-2 22 4 33-3 15 1 40-4 29 3 26-1 33 1 22-5 18 2 18-2 29 3 19-1 22 4 18-3 29 2 22-3 55 3 40-2 44 1" stroke="#8b0000"/>
<path d="M438 1390l3 5 8-3 3 5 4 24 7 74 4 7 4-24 10-149 4 3 4 28 11 113 3-2 8-82 3 4 4 26 4 8 7-75 4-22 3 28 8 94 3 0 4-19 4-5 7 34 4-4 11-99 3-6 8 24 7-22 3 9 8 77 3 22 4-3 4-10 3 3 4 12 4-3 7-41 4 3 11 48 3-3 8-52 3-2 8 50 3 12 4-10 7-61 4-6 7 31 4-6 4-12 3 4 4 20 3 11 4-13 7-47 4-13 4-2 3 15 8 64 3 22 4 13 4-1 7-46 4-7 3-1 8-30 3-1 4 7 11 15 4 3 7 5 7-5 4 0 4 6 10 43 11 11 8-14 3 0 4 139 4-144 11-81 7-21 4 7 7 50 4-2 14-41 4 5 11 106 4 12 3-12 11-89 4-7 3 10 4 5 4-6 3-2 4 7 11 51 4 7 7-10 4 0 3 5 4 1 11-32 4 7 3 19 4 9 4-15 7-73 4-23 3-7 4 6 7 41 4 10 4-7 14-39 4 4 11 71 3 17 4 7 7-15 4 2 4 8 3 3 4-6 4-13 7-43 4-3 7 22 4 2 7-12 4 2 7 14 4 1 7-6 4 0 3 4 8-1 3 7 11 57 4 8 3-3 4-15 11-74 4-11 3 9 8 54 3 13 8-16 3 14 4 27 4 15 3-6 22-104 4-10 4 5 7 42 4 10 3-9 4-23 3-13 4 13 7 48 4-4 7-46 4-10 4 10 7 36 4 0 7-19 4 7 7 44 4 12 3-12 8-58 3-15 4 1 7 35 4 11 4 2 3-4 4-5 7-19 4 9 7 51 4 0 3-14 4-7 4 4 3 2 4-6 4-2 7 29 4 10 3 1 4-1 4-6 7-34 4-8 3 9 4 17 4 9 3-9 8-42 3-10 4 8 7 37 4 11 4-2 7-23 3 3 8 19 3-4 8-23 3 2 4 5 4 1 7-6 4 5 11 74 3 0 11-86 4-8 18 13 8 15 7 2 4 15 7 48 3 4 11-28 8-14 3-5 4 1 7 9 4-5 7-18 4-4 4 3 7 16 4 2 14 4 4 0 7-5 4 3 7 21 4-4 7-26 4-1 3 7 4 12 7 33 4 3 15-30 3-3 8 13 3-9 8-40 3 0 8 25 3 6 4 2 4-1 11-3 7-17 4 2 11 60 3 0 8-14 3-3 7-12 4 0 4 4 3 6 4 12 4-18 3-3 4-1 4 2 11 15 3 2 8-1 14-6 37 11 4-1 10-10 4 0 7 4 4 0 11-10 11 2 22-14 4-1 7 2 7 4 4 4 15 24 7 8 7 5 11 6 15-1 22 10 18 23 11 9 11 2 4 2 11 21 3 5 4 2 4-2 7-9 11-7 18-30 4-1 7 2 4-1 11-13 3-1 11 7 4-1 7-11 4 32 4 61 3-64 4-39 7 3 11-4 11-2 15-19 3-2 15-1 18-12 4 0 11 10 18 8 33 5 4-1 11-8 3-1 37-9 11-5 15 2 7-4 4 2 3 6 8 23 3 2 11-31 7-15 4 5 7 49 4 14 4-5 11-61 3-7 8 17 3 0 8-6 7-7 7 9 11-39 4-3 4 5 3 15 8 41 3 8 4-8 4-14 3-5 7 37 4 10 4-9 11-52 3-6 4 5 7 26 4 6 4-3 3-7 4 0 4 3 7-4 7 10 4-1 4-13 7-41 4-7 3 11 8 35 3 5 4-3 11-39 14 4 4 4 4-2 7-21 4-5 3 4 8 47 3 8 11-69 4-12 4-6 3 3 11 81 4 6 4-2 7 0 4-6 3-11 8-38 3-8 7 12 8-35 3-11 8 2 3 3 8 26 11 24 3 1 4-8 7-28 4-5 4 14 3 25 4 9 7-43 4-9 7 22 8 9 7 28 4 3 7-10 7-20 4-6 7 7 4-4 7-30 7-47 4-13 4 0 7 19 4 6 3-5 4-10 4 1 7 46 4 9 7-14 4 1 7 21 4 5 3-1 8 2 3-6 7-34 4-10 11-8 4 6 3 17 4 8 4-7 7-23 4-4 3 3 4 8 15 49 7 45 4-15 7-76 4-9 7 11 7 6 4-2 4-4 3 0 4 14 11 74 3 2 8-54 3-15 4 1 4-2 3-12 4-3 11 59 4 7 7 9 4 0 3-13 8-53 3-8 8 34 3 4 4-7 7-25 4-6 7 3 8-7 10 17 8 4 3-5 8-51 3 9 8 72 3-2 4-13 4 1 3 10 4 3 7-19 4 3 4 15 3 6 8-7 7 11 4-10 7-80 4-25 3 10 11 115 4 26 3-3 8-45 3-13 4-1 11 58 4 3 3-9 8-30 3-6 11 4 4-3 7-11 4-11 7-44 4-8 11 47 7 24 4 6 7-49 4-6 7 44 4 8 7 0 4 2 7 18 4-9 7-42 4-4 3-12 8-62 3-1 8 56 3 2 8-48 3-5 11 49 11 19 4-8 7-53 4-2 7 27 4-4 7-24 4 6 3 12 4 2 4-7 3-3 4-1 4-5 3-1 4 19 11 110 4 19 3 0 8-69 3-15 4 15 7 45 4 0 11-67 4-8 3 4 4 17 7 55 4 12 3-13 8-48 3-2 4 0 7-24 4-3 11 31 4 2 11-45 7 7 7-22 4 3 4 27 7 84 4 12 3-7 4-3 4 2 3-2 4-9 7-27 4 0 7 34 4 2 11-44 3 7 8 42 7-17 4-1 3 2 4-9" stroke="#b20000"/>
<path d="M438 1428l11 8 11 16 3 0 11-23 4-5 22-2 22 6 18-1 4 4 3 8 11 51 4 12 4 0 3-10 11-48 4-8 4-3 3-2 18-4 19-8 7 1 4 1 3 4 11 28 4 8 4 1 18-31 7-8 8-4 18-3 40 8 18-5 8 4 14 14 11 25 4 5 4-2 11-20 18-7 11 0 14 5 4-1 11-7 7-2 8 3 11 10 11 1 3 0 4-3 7-10 8-6 25-5 7 1 19 11 18-1 18 7 8-2 14-7 33-8 7 0 8 5 14 24 4 4 4-1 11-19 3-5 4-2 15 1 7 0 18-9 4 0 4 3 3 7 4 13 11 75 3 20 4 4 4-14 11-84 3-18 4-9 4-3 3 0 19 8 11 4 29-2 11 8 3 0 15-15 11-2 7 2 8 4 18 16 7 4 8 1 11-3 3 1 4 4 4 9 7 26 4 7 3-1 15-40 3-4 4-1 4 3 3 9 4 16 11 74 4 17 3 2 4-12 11-70 7-29 4-7 7-7 11-5 11-1 8 5 10 17 4 2 11-1 26 2 18-4 18 9 11 2 8-1 18-7 7 2 4 4 3 8 4 12 11 62 4 17 3 6 4-6 11-51 7-20 4-5 7-6 15-6 7 1 19 4 14 10 4-1 11-16 3-2 4 1 4 4 11 13 7 4 7 0 11-6 4 0 11 9 4-1 11-13 3-1 8 1 21 10 19 5 3 5 4 8 7 25 4 5 4-4 14-54 11-18 4-4 4-1 3 5 8 14 3-4 8-20 7-11 11-8 18-9 18-18 4-2 26 7 25 13 19 16 14 9 26 29 11 10 36 23 11 5 11-3 26-14 22-16 18-9 7-6 15-17 4 0 7 4 4-4 7-14 7-7 15-3 7 0 18 11 22 8 11 6 15 2 7 2 8 6 22 22 21 13 30 4 25 10 15-2 4 1 3 5 4 9 11 36 4 3 3-6 11-34 7-11 8-4 22-2 3 2 11 12 4 1 15-11 25-7 19-13 7-2 3 0 8 3 7 7 7 15 8 20 3 7 4 1 4-5 14-44 8-10 3-2 22 0 11 11 4-1 7-9 4-2 7 0 11 3 7-1 19-9 7-1 7 3 4 5 4 11 11 71 3 13 4-7 11-81 4-18 3-10 4-6 7-6 7-1 15 1 26 10 18 2 11 8 4-1 11-21 3-3 4-1 11 1 18 9 7-1 11-6 4 0 15 5 18-5 18-1 15-5 18-9 7-1 22 8 8-1 11-6 3 0 11 14 4 1 11-13 4-2 36 5 4-1 11-10 7-3 7 2 15 12 4-1 7-9 7-4 19 4 14-3 19 5 14-7 4 0 22 10 7 2 15-2 18-9 7 4 11 11 8 4 7-2 11-10 4-1 3 1 4 4 11 20 3 4 4 1 4-4 11-17 3-3 11-2 19-10 7-2 33 12 18 2 11 3 4-1 11-11 3-2 8 1 14 6 11-3 8 0 18 7 7 1 15-6 18-1 18-6 8 0 33 13 7 5 4 1 11-8 14 3 18-7 22 1 8-4 14-11 11-2 8 4 14 26 4 2 15-12 7-1 11 3 7-1 22-12 11-1 11 5" stroke="#e4ff13"/>
<path d="M438 1430l7-1 7 3 4 5 11 31 4-1 7-21 3-7 4-2 7-1 11 3 4-1 33-20 4 0 3 2 4 8 4 13 11 59 3 9 4-3 15-70 3-9 4-5 3-2 15 5 18-2 8 1 7 5 15 21 3 0 11-19 4-4 4 0 11 3 18 0 29-9 18-1 11 2 15-2 7 2 4 4 11 21 4 5 3 1 11-13 4-2 11-1 18-7 18 0 8-4 11-11 7-3 7 3 15 12 4 1 3-1 11-10 4 0 25 10 8 0 11-5 7-1 15 7 11 3 7-2 11-6 4 0 11 3 7 0 29-7 7 2 4 2 7 12 8 16 3 4 4-1 4-6 11-21 3-4 8-2 18 10 11 4 11 2 3 2 4 8 4 16 11 69 3 1 15-87 4-10 3-5 4-3 11-2 18 2 15-7 7 0 8 6 3 5 11 23 4 4 11-5 11-3 14-16 8-5 33-7 7 4 4 4 14 35 4 1 3-4 11-25 4-4 4-1 3 0 4 4 4 8 3 13 11 54 4 9 4-2 3-11 8-32 7-25 4-7 3-3 4-1 15 8 14-1 4 2 7 10 4 2 11-4 11 1 22 0 14 3 19-6 14 7 22 4 7 6 8 18 14 74 4 11 4-1 3-12 11-59 4-14 4-8 3-5 4-2 4 0 18 7 18 3 7 8 8 12 3 3 4-1 11-21 4-4 3-1 19 4 14 1 8 6 11 15 3 1 4-3 11-18 4-3 3 1 11 7 7 2 19-2 3 2 4 4 4 8 11 36 3 3 4-7 7-25 4-10 4-5 3-2 11 0 4 2 7 13 4 2 11-21 14-8 30-34 25-17 22-28 8-5 11-2 14-5 7 1 15 12 26 30 18 27 7 8 15 9 18 29 4 2 4 1 18-6 14-8 19-19 14-13 19-26 3-3 11 0 15-24 7-9 22-12 7-2 19 6 18-1 18 10 11 11 29 37 11 7 15 13 29 22 11 3 22-1 4 0 4 3 3 7 11 35 4 1 11-36 3-6 19-16 7-2 7 4 19 24 3 0 15-18 7-4 8-2 7 1 22 8 3-1 11-10 4-3 4 0 3 3 4 7 11 35 4 8 3 0 4-7 11-34 4-8 7-8 11-4 11-5 4 0 7 9 4 2 14-19 18-6 15-1 18 7 4 3 4 5 7 30 11 69 4 5 3-11 11-71 4-15 4-9 3-5 15-16 7-4 4 1 11 6 7 2 15-2 11-4 3 0 11 13 4 1 15-14 32-12 30 0 22-2 36 4 4 0 14-7 8 0 25 10 15 3 4 4 11 17 3-1 11-18 22-12 8-2 14 5 15 10 7 2 18-3 11-10 4-1 4 1 14 10 11 5 11 3 19 3 7-2 25-19 11-4 8 3 11 8 7 1 18-7 19 5 25-3 4 2 11 15 3 0 15-23 11-7 7-1 4 1 4 2 11 12 7 4 22-2 7-2 15-9 14-4 11-11 4-2 4-1 18 8 29-2 37 14 7 1 44-13 7 4 15 15 7 3 11-10 15 0 29-6 7 1 11 6 8 2 3-1 11-8 8-1 18 11 4-1 11-10 3-2 4 0 14 10 8 2 18-9 15-1 7-3" stroke="#f3f903"/>
<path d="M438 1430l14 1 11 15 4-2 7-18 4-6 3-3 4-1 7 0 15 6 18-3 15 0 4 3 3 6 4 11 11 51 4 8 3-3 15-58 4-6 3-4 33-14 7-1 8 5 3 5 11 25 4 6 4-1 3-8 11-37 4-8 4-5 7-4 7 0 15 9 14 3 15 10 7 4 15 0 18 6 11-3 4 1 11 16 4 2 3-3 8-15 7-10 7-5 7-2 22-1 22 6 22-3 4 1 11 14 4 3 18-6 14-6 11-2 8 3 18 12 7 1 26-11 29-3 18-7 15 0 7 4 4 6 11 35 4 5 3-4 8-23 3-9 4-5 22-7 4 0 18 9 7 10 7 27 11 72 4 13 4-1 3-16 8-51 7-36 4-8 3-4 4-2 33 1 15-4 7 0 7 6 7 11 4 2 11-8 4-1 44 2 18 4 7 4 4 4 15 38 3 3 4-5 11-27 3-6 8-5 3 1 4 5 4 12 11 70 3 13 4-3 15-74 3-9 8-10 11-6 7 1 11 5 14 14 4-1 11-11 22-2 15 5 14 10 11 5 48 6 3 2 4 6 4 11 11 60 3 13 4-1 4-13 7-43 7-28 4-6 7-4 8 2 14 8 19 4 3 2 4 4 11 19 3 0 15-26 4-3 7-3 11 1 22 8 15 13 3-1 8-5 3-1 15 5 14-2 15 2 7 6 4 7 11 33 4 4 3-6 11-34 4-7 7-8 8-2 3 2 8 15 3 1 11-27 4-4 29-19 40-39 22-14 19-15 11-5 10 3 44 28 15 15 18 14 19 22 7 6 22 11 7 0 11-3 11-1 11-7 22-28 4-2 7-2 4-4 11-28 7-15 25-43 8-8 3-1 8 3 18 22 15 13 22 14 22 21 18 10 18 17 7 8 15 24 7 8 11 6 15-2 7 2 4 3 4 8 11 36 3 0 11-30 4-5 7-4 29-6 4 0 7 4 4 0 11-18 4-3 11 2 7-1 15-9 7-3 7 1 15 7 11 0 3 3 4 8 7 22 4 8 4-1 3-8 11-35 4-7 7-6 15-2 7 1 4 3 7 13 4 4 11-10 18-2 15-11 7-2 7 2 11 7 4 4 4 7 3 14 11 67 4 4 4-14 11-73 3-13 4-7 4-3 3-1 15 3 14-6 11-1 26 5 15 12 3-1 8-10 7-6 18 1 26-11 11-1 14 3 22 7 8-1 14-8 8-2 25 2 15-5 14-14 8-3 3 2 4 5 11 22 4 0 11-12 18-1 15-6 21-6 8 0 7 2 15 13 11-3 14 3 22-1 15-6 7-2 11 2 18 6 11 2 8 0 14-7 4 0 15 6 3 0 15-7 7-1 15 5 11 1 3 1 4 4 11 20 4 0 11-22 7-10 7-4 8-2 7 2 15 9 7 0 7-3 8 1 18 11 11 1 11 5 3 1 11-6 30-4 11 0 14 2 8-1 18-10 14-5 8 1 18 8 7 1 8-3 11-9 7-3 4 3 11 14 3 2 11-2 11 1 11-2 26 1 25-2 19 6 14 12 4 0 11-12 4-2 10-4 15-12 7-1 8 4 18 17 11 2" stroke="#f7f500"/>
<path d="M438 1414l7 0 4 4 3 9 8 31 3 3 11-39 4-5 3-2 8 0 14 2 22 0 11 2 4 3 4 6 3 12 11 82 4 18 4-3 14-105 4-10 4-5 3-2 29 1 11 2 4 3 4 5 3 8 11 41 4 5 4-5 11-40 3-9 8-8 7-2 29 2 15-1 18 6 22-4 7 1 8 5 3 6 11 27 4 3 4-4 11-29 3-6 4-3 7-2 15-1 14 0 41 6 3 2 11 12 4 0 15-14 10-3 11 0 26 3 40-3 22 2 15 0 11 2 14 0 8 4 3 6 11 33 4 6 4-1 11-30 7-13 4-3 7-1 26 2 7 3 4 6 3 12 7 49 8 68 3 23 4 4 4-15 14-119 4-15 4-8 3-4 11-2 19 3 14 0 11 2 8 8 7 12 3 1 11-15 8-4 29 0 18 6 15 1 4 2 3 6 4 10 11 49 4 7 3-7 11-48 4-7 3-2 4 2 4 7 3 12 15 103 4 14 3-1 4-17 11-80 4-17 3-10 4-5 4-2 22-1 7 4 11 21 3 2 11-16 4-2 4 0 18 6 15 1 14 4 15 5 33 4 3 2 4 4 4 8 3 14 4 23 11 102 4 22 3 4 4-15 15-120 3-15 4-8 4-4 7-2 11 3 26 11 3 5 4 9 7 25 4 2 11-28 3-5 4-1 18 3 19 6 7 9 11 20 4 0 11-14 3-2 22 0 22 6 4 3 3 7 11 46 4 7 4-5 11-42 3-7 4-2 7-1 4 1 4 6 7 22 4 6 3-5 8-19 3-3 4-1 11 3 14 0 15 3 11 1 33 11 22 5 29 18 44 18 18 12 22 9 8 1 43-4 15-4 29-14 4 1 7 9 4 2 4-5 7-17 7-8 29-10 19-9 7-2 22 0 22-7 51-10 18-1 33-9 19 1 3 2 4 7 4 14 7 39 4 1 11-59 3-11 4-5 18-8 11-1 7 4 11 15 4-2 7-18 4-6 4-4 22-7 40-9 3 1 4 3 4 6 14 58 4 1 4-10 11-55 3-11 4-6 4-3 14-4 8 0 3 3 8 11 3 2 4-4 7-15 4-4 25-9 15-4 7 1 4 1 4 4 3 8 8 35 11 80 3 9 4-8 4-23 11-82 3-16 4-9 4-5 7-3 29-4 18-4 8 0 7 4 11 15 4 0 11-17 7-6 18-4 18 0 33-8 26-3 18 1 22-2 15-3 25 3 8 5 11 24 3 5 4-1 15-34 3-4 8-3 25-1 29 3 4 1 11 11 4 0 11-11 11-4 40 0 18-4 15 1 18-2 29 4 15-3 37-2 3 1 4 3 3 7 11 34 4 2 4-7 7-25 4-9 3-5 4-1 11 0 11-3 44 6 14 0 4 1 11 9 4 1 14-12 11-2 41-2 14 1 18 0 63 1 7 3 11 15 4 1 14-19 8-3 7 0 18 2 37-2 22 5 3 3 8 12 3 3 4-2 7-13 4-4 4-1 32 1 22-5 15 3" stroke="#800000"/>
</g></g>
<rect x="67.5" y="30" width="105.3" height="45.5" fill="#fff" fill-opacity="0.9"/>
<rect x="67.5" y="75.5" width="114" height="81.5" fill="#fff" fill-opacity="0.9"/>
<rect x="62.50" y="29.50" width="1007.00" height="405.00" fill="none" stroke="#000" stroke-width="0.8"/>
<line x1="109.50" y1="434.50" x2="109.50" y2="438.00" stroke="#000" stroke-width="0.80"/>
<text x="90.30" y="450.90" font-size="11.90" textLength="37.39" lengthAdjust="spacingAndGlyphs">−1500</text>
<line x1="261.50" y1="434.50" x2="261.50" y2="438.00" stroke="#000" stroke-width="0.80"/>
<text x="242.65" y="450.90" font-size="11.90" textLength="37.39" lengthAdjust="spacingAndGlyphs">−1000</text>
<line x1="414.50" y1="434.50" x2="414.50" y2="438.00" stroke="#000" stroke-width="0.80"/>
<text x="398.55" y="450.90" font-size="11.90" textLength="30.31" lengthAdjust="spacingAndGlyphs">−500</text>
<line x1="566.50" y1="434.50" x2="566.50" y2="438.00" stroke="#000" stroke-width="0.80"/>
<text x="563.30" y="450.90" font-size="11.90" textLength="6.70" lengthAdjust="spacingAndGlyphs">0</text>
<line x1="718.50" y1="434.50" x2="718.50" y2="438.00" stroke="#000" stroke-width="0.80"/>
<text x="707.90" y="450.90" font-size="11.90" textLength="21.01" lengthAdjust="spacingAndGlyphs">500</text>
<line x1="871.50" y1="434.50" x2="871.50" y2="438.00" stroke="#000" stroke-width="0.80"/>
<text x="856.70" y="450.90" font-size="11.90" textLength="28.10" lengthAdjust="spacingAndGlyphs">1000</text>
<line x1="1023.50" y1="434.50" x2="1023.50" y2="438.00" stroke="#000" stroke-width="0.80"/>
<text x="1009.05" y="450.90" font-size="11.90" textLength="28.10" lengthAdjust="spacingAndGlyphs">1500</text>
<line x1="59.00" y1="404.50" x2="62.50" y2="404.50" stroke="#000" stroke-width="0.80"/>
<text x="29.90" y="408.70" font-size="11.90" textLength="24.10" lengthAdjust="spacingAndGlyphs">0.75</text>
<line x1="59.00" y1="356.50" x2="62.50" y2="356.50" stroke="#000" stroke-width="0.80"/>
<text x="29.90" y="360.70" font-size="11.90" textLength="24.10" lengthAdjust="spacingAndGlyphs">1.00</text>
<line x1="59.00" y1="307.50" x2="62.50" y2="307.50" stroke="#000" stroke-width="0.80"/>
<text x="29.90" y="311.70" font-size="11.90" textLength="24.10" lengthAdjust="spacingAndGlyphs">1.25</text>
<line x1="59.00" y1="259.50" x2="62.50" y2="259.50" stroke="#000" stroke-width="0.80"/>
<text x="29.90" y="263.70" font-size="11.90" textLength="24.10" lengthAdjust="spacingAndGlyphs">1.50</text>
<line x1="59.00" y1="210.50" x2="62.50" y2="210.50" stroke="#000" stroke-width="0.80"/>
<text x="29.90" y="214.70" font-size="11.90" textLength="24.10" lengthAdjust="spacingAndGlyphs">1.75</text>
<line x1="59.00" y1="162.50" x2="62.50" y2="162.50" stroke="#000" stroke-width="0.80"/>
<text x="29.90" y="166.70" font-size="11.90" textLength="24.10" lengthAdjust="spacingAndGlyphs">2.00</text>
<line x1="59.00" y1="113.50" x2="62.50" y2="113.50" stroke="#000" stroke-width="0.80"/>
<text x="29.90" y="117.70" font-size="11.90" textLength="24.10" lengthAdjust="spacingAndGlyphs">2.25</text>
<line x1="59.00" y1="65.50" x2="62.50" y2="65.50" stroke="#000" stroke-width="0.80"/>
<text x="29.90" y="69.70" font-size="11.90" textLength="24.10" lengthAdjust="spacingAndGlyphs">2.50</text>
<text x="513.30" y="468.80" font-size="14.20" textLength="104.70" lengthAdjust="spacingAndGlyphs">Velocity (km/s)</text>
<text x="20.90" y="262.20" font-size="14.20" textLength="59.60" lengthAdjust="spacingAndGlyphs" transform="rotate(-90 20.90 262.20)">Rel. Flux</text>
<text x="390.30" y="22.60" font-size="16.40" textLength="113.90" lengthAdjust="spacingAndGlyphs">TIC_61139113</text>
<text x="526.70" y="22.60" font-size="16.40" textLength="65.00" lengthAdjust="spacingAndGlyphs">MEROPE</text>
<text x="614.70" y="22.60" font-size="16.40" textLength="44.80" lengthAdjust="spacingAndGlyphs">B6IVe</text>
<text x="681.20" y="22.60" font-size="16.40" textLength="58.51" lengthAdjust="spacingAndGlyphs">V=4.16</text>
<text x="73.70" y="48.80" font-size="17.40" textLength="11.20" lengthAdjust="spacingAndGlyphs">H</text>
<text x="87.30" y="48.80" font-size="17.40" textLength="9.60" lengthAdjust="spacingAndGlyphs" font-style="italic">α</text>
<text x="73.00" y="68.90" font-size="17.40" textLength="94.29" lengthAdjust="spacingAndGlyphs">99 spectra</text>
<text x="72.90" y="91.00" font-size="12.80" textLength="91.10" lengthAdjust="spacingAndGlyphs">EW_min = -10</text>
<text x="72.90" y="105.60" font-size="12.80" textLength="81.70" lengthAdjust="spacingAndGlyphs">EW_max = 4</text>
<text x="72.90" y="120.20" font-size="12.80" textLength="76.70" lengthAdjust="spacingAndGlyphs">EW_avg = 1</text>
<text x="72.90" y="134.80" font-size="12.80" textLength="73.30" lengthAdjust="spacingAndGlyphs">EW_std = 3</text>
<text x="72.90" y="149.40" font-size="12.80" textLength="103.89" lengthAdjust="spacingAndGlyphs">EW_range = -14</text>
<g fill="none" stroke="#000" stroke-width="1.5" stroke-dasharray="1.5 2.475">
<path d="M108.4 517.4 L119.4 517.4 L134.5 517.4 L318.2 578.5 L325.5 579.3 L326.4 581.5 L329.3 623.4 L330.4 581.8 L333.3 583.0 L335.6 583.4 L357.5 589.3 L390.4 596.3 L396.6 604.4 L404.7 596.0 L428.3 602.5 L432.3 611.6 L438.5 605.2 L503.4 620.4 L543.0 623.8 L544.0 624.8 L547.4 625.3 L552.6 630.3 L580.3 629.6 L584.4 627.0 L610.5 635.2 L611.5 634.8 L613.3 634.4 L622.6 628.1 L628.5 633.3 L628.8 630.4 L646.9 632.2 L647.5 632.9 L648.2 637.3 L656.4 636.3 L665.1 634.5 L665.6 634.1 L682.5 640.6 L682.6 640.3 L688.5 642.7 L690.7 638.2 L699.6 637.8 L700.9 638.5 L701.1 638.5 L703.8 636.0 L719.6 642.7 L722.3 641.5 L723.3 641.5 L732.2 642.7 L737.4 643.0 L738.1 638.8 L739.2 633.8 L740.1 634.3 L741.1 640.3 L758.5 642.5 L768.9 638.5 L771.1 641.2 L771.6 640.7 L772.6 643.0 L796.3 640.3 L799.3 645.9 L800.1 646.4 L803.4 640.7 L809.3 640.3 L837.8 644.4 L840.5 647.6 L841.2 647.4 L847.4 647.4 L868.1 649.3 L876.0 647.6 L877.0 648.1 L878.5 648.9 L906.3 648.2 L907.7 652.0 L908.1 652.5 L913.4 648.5 L917.9 649.7 L919.6 653.0 L920.1 653.4 L921.9 652.2 L924.5 651.5 L941.3 651.2 L941.6 651.5 L944.1 650.3 L947.4 651.2 L948.2 651.8 L955.5 650.3 L978.9 651.5 L979.3 651.6 L980.1 653.4 L983.5 650.0 L984.4 650.0 L998.2 652.0 L998.4 651.5 L1014.4 654.4 L1014.8 654.5 L1021.1 656.4 L1021.2 657.0 L1022.6 656.7 L1023.6 656.5"/>
</g>
<g stroke="#000" stroke-width="1.9">
<circle cx="646.9" cy="632.2" r="4.15" fill="#c4ff33"/>
<circle cx="665.1" cy="634.5" r="4.15" fill="#d4ff22"/>
<circle cx="682.5" cy="640.6" r="4.15" fill="#e4ff13"/>
<circle cx="700.9" cy="638.5" r="4.15" fill="#f5f802"/>
<circle cx="722.3" cy="641.5" r="4.15" fill="#ffe200"/>
<circle cx="740.1" cy="634.3" r="4.15" fill="#ffd000"/>
<circle cx="771.6" cy="640.7" r="4.15" fill="#ffaf00"/>
<circle cx="800.1" cy="646.4" r="4.15" fill="#ff9200"/>
<circle cx="840.5" cy="647.6" r="4.15" fill="#ff6800"/>
<circle cx="876.0" cy="647.6" r="4.15" fill="#ff4300"/>
<circle cx="907.7" cy="652.0" r="4.15" fill="#ff2300"/>
<circle cx="920.1" cy="653.4" r="4.15" fill="#ff1600"/>
<circle cx="941.3" cy="651.2" r="4.15" fill="#e80000"/>
<circle cx="947.4" cy="651.2" r="4.15" fill="#e00000"/>
<circle cx="979.3" cy="651.6" r="4.15" fill="#b80000"/>
<circle cx="983.5" cy="650.0" r="4.15" fill="#b20000"/>
<circle cx="998.2" cy="652.0" r="4.15" fill="#a00000"/>
<circle cx="1014.8" cy="654.5" r="4.15" fill="#8b0000"/>
<circle cx="1021.2" cy="657.0" r="4.15" fill="#820000"/>
<circle cx="1023.6" cy="656.5" r="4.15" fill="#800000"/>
<circle cx="108.4" cy="517.4" r="4.15" fill="#000080"/>
<circle cx="119.4" cy="517.4" r="4.15" fill="#00008d"/>
<circle cx="134.5" cy="517.4" r="4.15" fill="#0000a1"/>
<circle cx="318.2" cy="578.5" r="4.15" fill="#006aff"/>
<circle cx="325.5" cy="579.3" r="4.15" fill="#0072ff"/>
<circle cx="326.4" cy="581.5" r="4.15" fill="#0073ff"/>
<circle cx="329.3" cy="623.4" r="4.15" fill="#0077ff"/>
<circle cx="330.4" cy="581.8" r="4.15" fill="#0078ff"/>
<circle cx="333.3" cy="583.0" r="4.15" fill="#007bff"/>
<circle cx="335.6" cy="583.4" r="4.15" fill="#007eff"/>
<circle cx="357.5" cy="589.3" r="4.15" fill="#0096ff"/>
<circle cx="390.4" cy="596.3" r="4.15" fill="#00bbff"/>
<circle cx="396.6" cy="604.4" r="4.15" fill="#00c2ff"/>
<circle cx="404.7" cy="596.0" r="4.15" fill="#00cbff"/>
<circle cx="428.3" cy="602.5" r="4.15" fill="#00e5f7"/>
<circle cx="432.3" cy="611.6" r="4.15" fill="#03eaf4"/>
<circle cx="438.5" cy="605.2" r="4.15" fill="#09f0ee"/>
<circle cx="503.4" cy="620.4" r="4.15" fill="#43ffb4"/>
<circle cx="543.0" cy="623.8" r="4.15" fill="#67ff90"/>
<circle cx="544.0" cy="624.8" r="4.15" fill="#68ff8f"/>
<circle cx="552.6" cy="630.3" r="4.15" fill="#6fff87"/>
<circle cx="547.4" cy="625.3" r="4.15" fill="#6bff8c"/>
<circle cx="584.4" cy="627.0" r="4.15" fill="#8cff6b"/>
<circle cx="580.3" cy="629.6" r="4.15" fill="#88ff6f"/>
<circle cx="610.5" cy="635.2" r="4.15" fill="#a3ff53"/>
<circle cx="611.5" cy="634.8" r="4.15" fill="#a4ff52"/>
<circle cx="613.3" cy="634.4" r="4.15" fill="#a6ff51"/>
<circle cx="622.6" cy="628.1" r="4.15" fill="#aeff49"/>
<circle cx="628.8" cy="630.4" r="4.15" fill="#b4ff43"/>
<circle cx="628.5" cy="633.3" r="4.15" fill="#b4ff43"/>
<circle cx="647.5" cy="632.9" r="4.15" fill="#c5ff32"/>
<circle cx="648.2" cy="637.3" r="4.15" fill="#c5ff31"/>
<circle cx="656.4" cy="636.3" r="4.15" fill="#cdff2a"/>
<circle cx="665.6" cy="634.1" r="4.15" fill="#d5ff22"/>
<circle cx="682.6" cy="640.3" r="4.15" fill="#e4ff13"/>
<circle cx="690.7" cy="638.2" r="4.15" fill="#ebff0b"/>
<circle cx="688.5" cy="642.7" r="4.15" fill="#eaff0d"/>
<circle cx="699.6" cy="637.8" r="4.15" fill="#f3f903"/>
<circle cx="703.8" cy="636.0" r="4.15" fill="#f7f500"/>
<circle cx="701.1" cy="638.5" r="4.15" fill="#f5f802"/>
<circle cx="719.6" cy="642.7" r="4.15" fill="#ffe500"/>
<circle cx="723.3" cy="641.5" r="4.15" fill="#ffe100"/>
<circle cx="732.2" cy="642.7" r="4.15" fill="#ffd800"/>
<circle cx="737.4" cy="643.0" r="4.15" fill="#ffd200"/>
<circle cx="738.1" cy="638.8" r="4.15" fill="#ffd200"/>
<circle cx="739.2" cy="633.8" r="4.15" fill="#ffd000"/>
<circle cx="741.1" cy="640.3" r="4.15" fill="#ffcf00"/>
<circle cx="758.5" cy="642.5" r="4.15" fill="#ffbd00"/>
<circle cx="771.1" cy="641.2" r="4.15" fill="#ffb000"/>
<circle cx="772.6" cy="643.0" r="4.15" fill="#ffae00"/>
<circle cx="768.9" cy="638.5" r="4.15" fill="#ffb200"/>
<circle cx="799.3" cy="645.9" r="4.15" fill="#ff9200"/>
<circle cx="796.3" cy="640.3" r="4.15" fill="#ff9600"/>
<circle cx="803.4" cy="640.7" r="4.15" fill="#ff8e00"/>
<circle cx="809.3" cy="640.3" r="4.15" fill="#ff8800"/>
<circle cx="837.8" cy="644.4" r="4.15" fill="#ff6b00"/>
<circle cx="841.2" cy="647.4" r="4.15" fill="#ff6700"/>
<circle cx="847.4" cy="647.4" r="4.15" fill="#ff6100"/>
<circle cx="868.1" cy="649.3" r="4.15" fill="#ff4b00"/>
<circle cx="878.5" cy="648.9" r="4.15" fill="#ff4100"/>
<circle cx="877.0" cy="648.1" r="4.15" fill="#ff4200"/>
<circle cx="906.3" cy="648.2" r="4.15" fill="#ff2400"/>
<circle cx="908.1" cy="652.5" r="4.15" fill="#ff2200"/>
<circle cx="913.4" cy="648.5" r="4.15" fill="#ff1d00"/>
<circle cx="917.9" cy="649.7" r="4.15" fill="#ff1800"/>
<circle cx="919.6" cy="653.0" r="4.15" fill="#ff1600"/>
<circle cx="921.9" cy="652.2" r="4.15" fill="#ff1400"/>
<circle cx="924.5" cy="651.5" r="4.15" fill="#fd1100"/>
<circle cx="941.6" cy="651.5" r="4.15" fill="#e70000"/>
<circle cx="944.1" cy="650.3" r="4.15" fill="#e40000"/>
<circle cx="948.2" cy="651.8" r="4.15" fill="#df0000"/>
<circle cx="955.5" cy="650.3" r="4.15" fill="#d60000"/>
<circle cx="980.1" cy="653.4" r="4.15" fill="#b70000"/>
<circle cx="978.9" cy="651.5" r="4.15" fill="#b80000"/>
<circle cx="984.4" cy="650.0" r="4.15" fill="#b10000"/>
<circle cx="998.4" cy="651.5" r="4.15" fill="#b20000"/>
<circle cx="1014.4" cy="654.4" r="4.15" fill="#8b0000"/>
<circle cx="1021.1" cy="656.4" r="4.15" fill="#830000"/>
<circle cx="1022.6" cy="656.7" r="4.15" fill="#810000"/>
</g>
<rect x="62.50" y="503.50" width="1007.00" height="168.00" fill="none" stroke="#000" stroke-width="0.8"/>
<line x1="105.50" y1="671.50" x2="105.50" y2="675.00" stroke="#000" stroke-width="0.80"/>
<text x="102.05" y="687.60" font-size="11.90" textLength="6.70" lengthAdjust="spacingAndGlyphs">0</text>
<line x1="305.50" y1="671.50" x2="305.50" y2="675.00" stroke="#000" stroke-width="0.80"/>
<text x="290.45" y="687.60" font-size="11.90" textLength="28.30" lengthAdjust="spacingAndGlyphs">2000</text>
<line x1="505.50" y1="671.50" x2="505.50" y2="675.00" stroke="#000" stroke-width="0.80"/>
<text x="490.35" y="687.60" font-size="11.90" textLength="28.30" lengthAdjust="spacingAndGlyphs">4000</text>
<line x1="705.50" y1="671.50" x2="705.50" y2="675.00" stroke="#000" stroke-width="0.80"/>
<text x="690.25" y="687.60" font-size="11.90" textLength="28.30" lengthAdjust="spacingAndGlyphs">6000</text>
<line x1="905.50" y1="671.50" x2="905.50" y2="675.00" stroke="#000" stroke-width="0.80"/>
<text x="890.15" y="687.60" font-size="11.90" textLength="28.30" lengthAdjust="spacingAndGlyphs">8000</text>
<line x1="59.00" y1="516.50" x2="62.50" y2="516.50" stroke="#000" stroke-width="0.80"/>
<text x="20.20" y="521.00" font-size="11.90" textLength="33.90" lengthAdjust="spacingAndGlyphs">−10.0</text>
<line x1="59.00" y1="542.50" x2="62.50" y2="542.50" stroke="#000" stroke-width="0.80"/>
<text x="27.50" y="547.00" font-size="11.90" textLength="26.60" lengthAdjust="spacingAndGlyphs">−7.5</text>
<line x1="59.00" y1="568.50" x2="62.50" y2="568.50" stroke="#000" stroke-width="0.80"/>
<text x="27.50" y="573.00" font-size="11.90" textLength="26.60" lengthAdjust="spacingAndGlyphs">−5.0</text>
<line x1="59.00" y1="593.50" x2="62.50" y2="593.50" stroke="#000" stroke-width="0.80"/>
<text x="27.50" y="598.00" font-size="11.90" textLength="26.60" lengthAdjust="spacingAndGlyphs">−2.5</text>
<line x1="59.00" y1="619.50" x2="62.50" y2="619.50" stroke="#000" stroke-width="0.80"/>
<text x="37.50" y="624.00" font-size="11.90" textLength="16.60" lengthAdjust="spacingAndGlyphs">0.0</text>
<line x1="59.00" y1="645.50" x2="62.50" y2="645.50" stroke="#000" stroke-width="0.80"/>
<text x="37.50" y="650.00" font-size="11.90" textLength="16.60" lengthAdjust="spacingAndGlyphs">2.5</text>
<line x1="59.00" y1="671.50" x2="62.50" y2="671.50" stroke="#000" stroke-width="0.80"/>
<text x="37.50" y="676.00" font-size="11.90" textLength="16.60" lengthAdjust="spacingAndGlyphs">5.0</text>
<line x1="90.50" y1="503.50" x2="90.50" y2="500.00" stroke="#000" stroke-width="0.80"/>
<text x="76.00" y="493.00" font-size="11.90" textLength="27.80" lengthAdjust="spacingAndGlyphs">1995</text>
<line x1="126.50" y1="503.50" x2="126.50" y2="500.00" stroke="#000" stroke-width="0.80"/>
<text x="111.50" y="493.00" font-size="11.90" textLength="27.80" lengthAdjust="spacingAndGlyphs">1996</text>
<line x1="161.50" y1="503.50" x2="161.50" y2="500.00" stroke="#000" stroke-width="0.80"/>
<text x="147.00" y="493.00" font-size="11.90" textLength="27.80" lengthAdjust="spacingAndGlyphs">1997</text>
<line x1="197.50" y1="503.50" x2="197.50" y2="500.00" stroke="#000" stroke-width="0.80"/>
<text x="182.50" y="493.00" font-size="11.90" textLength="27.80" lengthAdjust="spacingAndGlyphs">1998</text>
<line x1="232.50" y1="503.50" x2="232.50" y2="500.00" stroke="#000" stroke-width="0.80"/>
<text x="218.00" y="493.00" font-size="11.90" textLength="27.80" lengthAdjust="spacingAndGlyphs">1999</text>
<line x1="268.50" y1="503.50" x2="268.50" y2="500.00" stroke="#000" stroke-width="0.80"/>
<text x="253.50" y="493.00" font-size="11.90" textLength="27.80" lengthAdjust="spacingAndGlyphs">2000</text>
<line x1="303.50" y1="503.50" x2="303.50" y2="500.00" stroke="#000" stroke-width="0.80"/>
<text x="289.00" y="493.00" font-size="11.90" textLength="27.80" lengthAdjust="spacingAndGlyphs">2001</text>
<line x1="339.50" y1="503.50" x2="339.50" y2="500.00" stroke="#000" stroke-width="0.80"/>
<text x="324.50" y="493.00" font-size="11.90" textLength="27.80" lengthAdjust="spacingAndGlyphs">2002</text>
<line x1="374.50" y1="503.50" x2="374.50" y2="500.00" stroke="#000" stroke-width="0.80"/>
<text x="360.00" y="493.00" font-size="11.90" textLength="27.80" lengthAdjust="spacingAndGlyphs">2003</text>
<line x1="410.50" y1="503.50" x2="410.50" y2="500.00" stroke="#000" stroke-width="0.80"/>
<text x="395.50" y="493.00" font-size="11.90" textLength="27.80" lengthAdjust="spacingAndGlyphs">2004</text>
<line x1="445.50" y1="503.50" x2="445.50" y2="500.00" stroke="#000" stroke-width="0.80"/>
<text x="431.00" y="493.00" font-size="11.90" textLength="27.80" lengthAdjust="spacingAndGlyphs">2005</text>
<line x1="481.50" y1="503.50" x2="481.50" y2="500.00" stroke="#000" stroke-width="0.80"/>
<text x="466.50" y="493.00" font-size="11.90" textLength="27.80" lengthAdjust="spacingAndGlyphs">2006</text>
<line x1="516.50" y1="503.50" x2="516.50" y2="500.00" stroke="#000" stroke-width="0.80"/>
<text x="502.00" y="493.00" font-size="11.90" textLength="27.80" lengthAdjust="spacingAndGlyphs">2007</text>
<line x1="552.50" y1="503.50" x2="552.50" y2="500.00" stroke="#000" stroke-width="0.80"/>
<text x="537.50" y="493.00" font-size="11.90" textLength="27.80" lengthAdjust="spacingAndGlyphs">2008</text>
<line x1="587.50" y1="503.50" x2="587.50" y2="500.00" stroke="#000" stroke-width="0.80"/>
<text x="573.00" y="493.00" font-size="11.90" textLength="27.80" lengthAdjust="spacingAndGlyphs">2009</text>
<line x1="623.50" y1="503.50" x2="623.50" y2="500.00" stroke="#000" stroke-width="0.80"/>
<text x="608.50" y="493.00" font-size="11.90" textLength="27.80" lengthAdjust="spacingAndGlyphs">2010</text>
<line x1="658.50" y1="503.50" x2="658.50" y2="500.00" stroke="#000" stroke-width="0.80"/>
<text x="644.00" y="493.00" font-size="11.90" textLength="27.81" lengthAdjust="spacingAndGlyphs">2011</text>
<line x1="694.50" y1="503.50" x2="694.50" y2="500.00" stroke="#000" stroke-width="0.80"/>
<text x="679.50" y="493.00" font-size="11.90" textLength="27.80" lengthAdjust="spacingAndGlyphs">2012</text>
<line x1="729.50" y1="503.50" x2="729.50" y2="500.00" stroke="#000" stroke-width="0.80"/>
<text x="715.00" y="493.00" font-size="11.90" textLength="27.80" lengthAdjust="spacingAndGlyphs">2013</text>
<line x1="765.50" y1="503.50" x2="765.50" y2="500.00" stroke="#000" stroke-width="0.80"/>
<text x="750.50" y="493.00" font-size="11.90" textLength="27.80" lengthAdjust="spacingAndGlyphs">2014</text>
<line x1="800.50" y1="503.50" x2="800.50" y2="500.00" stroke="#000" stroke-width="0.80"/>
<text x="786.00" y="493.00" font-size="11.90" textLength="27.80" lengthAdjust="spacingAndGlyphs">2015</text>
<line x1="836.50" y1="503.50" x2="836.50" y2="500.00" stroke="#000" stroke-width="0.80"/>
<text x="821.50" y="493.00" font-size="11.90" textLength="27.80" lengthAdjust="spacingAndGlyphs">2016</text>
<line x1="871.50" y1="503.50" x2="871.50" y2="500.00" stroke="#000" stroke-width="0.80"/>
<text x="857.00" y="493.00" font-size="11.90" textLength="27.80" lengthAdjust="spacingAndGlyphs">2017</text>
<line x1="907.50" y1="503.50" x2="907.50" y2="500.00" stroke="#000" stroke-width="0.80"/>
<text x="892.50" y="493.00" font-size="11.90" textLength="27.80" lengthAdjust="spacingAndGlyphs">2018</text>
<line x1="942.50" y1="503.50" x2="942.50" y2="500.00" stroke="#000" stroke-width="0.80"/>
<text x="928.00" y="493.00" font-size="11.90" textLength="27.80" lengthAdjust="spacingAndGlyphs">2019</text>
<line x1="978.50" y1="503.50" x2="978.50" y2="500.00" stroke="#000" stroke-width="0.80"/>
<text x="963.50" y="493.00" font-size="11.90" textLength="27.80" lengthAdjust="spacingAndGlyphs">2020</text>
<text x="515.50" y="705.80" font-size="14.20" textLength="99.80" lengthAdjust="spacingAndGlyphs">HJD - 2450000</text>
<text x="11.15" y="611.00" font-size="14.20" textLength="45.00" lengthAdjust="spacingAndGlyphs" transform="rotate(-90 11.15 611.00)">EW (A)</text>
</svg>
</body></html>
